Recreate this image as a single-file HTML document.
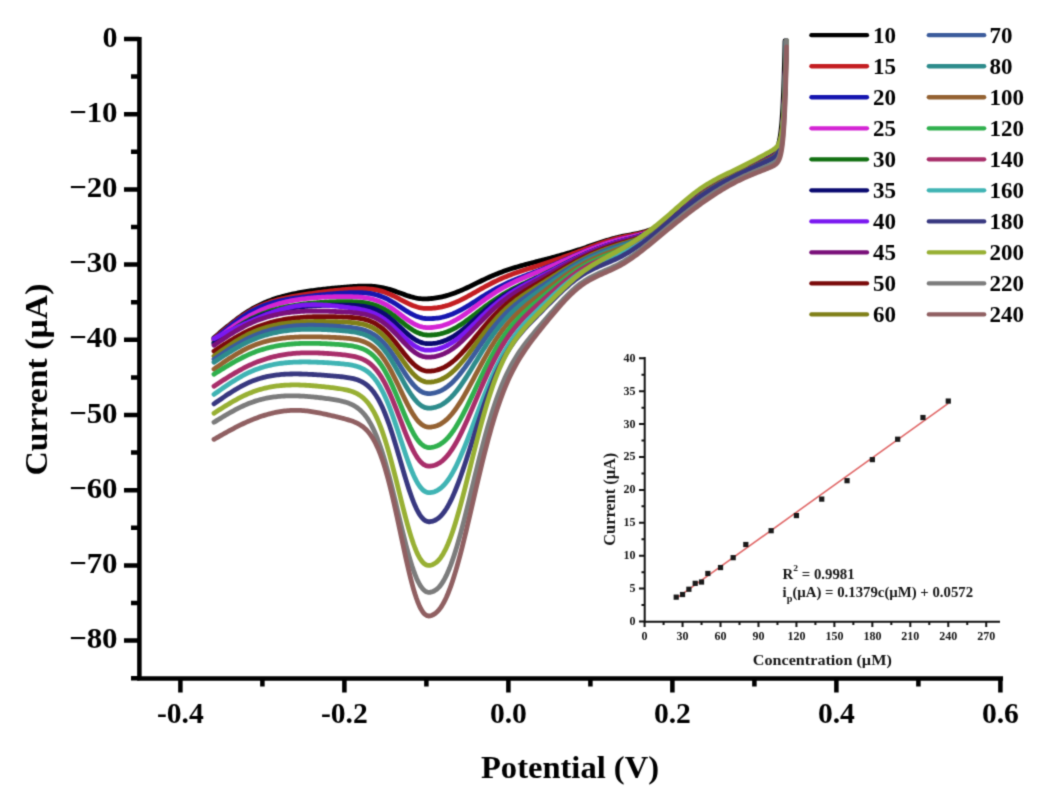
<!DOCTYPE html>
<html><head><meta charset="utf-8"><title>DPV chart</title>
<style>html,body{margin:0;padding:0;background:#fff;width:1060px;height:802px;overflow:hidden}svg{display:block}</style>
</head><body>
<svg width="1060" height="802" viewBox="0 0 1060 802">
<defs><filter id="bl" filterUnits="userSpaceOnUse" x="-20" y="-20" width="1100" height="842" color-interpolation-filters="sRGB"><feConvolveMatrix order="3" kernelMatrix="1 4 1 4 16 4 1 4 1" divisor="36" edgeMode="duplicate" preserveAlpha="true"/></filter></defs>
<rect width="1060" height="802" fill="#fff"/>
<g filter="url(#bl)">
<rect x="-20" y="-20" width="1100" height="842" fill="#fff"/>
<g fill="none" stroke-width="4.8" stroke-linejoin="round" stroke-linecap="round">
<path d="M214.00,337.79 L215.50,336.51 L217.00,335.23 L218.50,333.96 L220.00,332.69 L221.50,331.43 L223.00,330.17 L224.50,328.93 L226.00,327.69 L227.50,326.46 L229.00,325.25 L230.50,324.05 L232.00,322.87 L233.50,321.70 L235.00,320.54 L236.50,319.41 L238.00,318.29 L239.50,317.20 L241.00,316.12 L242.50,315.07 L244.00,314.04 L245.50,313.04 L247.00,312.07 L248.50,311.12 L250.00,310.20 L251.50,309.31 L253.00,308.45 L254.50,307.62 L256.00,306.81 L257.50,306.04 L259.00,305.29 L260.50,304.56 L262.00,303.86 L263.50,303.19 L265.00,302.54 L266.50,301.91 L268.00,301.30 L269.50,300.72 L271.00,300.16 L272.50,299.62 L274.00,299.10 L275.50,298.60 L277.00,298.11 L278.50,297.65 L280.00,297.20 L281.50,296.77 L283.00,296.36 L284.50,295.96 L286.00,295.58 L287.50,295.21 L289.00,294.85 L290.50,294.51 L292.00,294.18 L293.50,293.86 L295.00,293.55 L296.50,293.26 L298.00,292.97 L299.50,292.69 L301.00,292.42 L302.50,292.16 L304.00,291.90 L305.50,291.66 L307.00,291.42 L308.50,291.18 L310.00,290.96 L311.50,290.74 L313.00,290.53 L314.50,290.32 L316.00,290.12 L317.50,289.92 L319.00,289.73 L320.50,289.55 L322.00,289.37 L323.50,289.19 L325.00,289.02 L326.50,288.86 L328.00,288.70 L329.50,288.54 L331.00,288.38 L332.50,288.23 L334.00,288.09 L335.50,287.94 L337.00,287.80 L338.50,287.66 L340.00,287.53 L341.50,287.40 L343.00,287.27 L344.50,287.15 L346.00,287.02 L347.50,286.91 L349.00,286.80 L350.50,286.69 L352.00,286.59 L353.50,286.49 L355.00,286.40 L356.50,286.32 L358.00,286.25 L359.50,286.19 L361.00,286.14 L362.50,286.10 L364.00,286.08 L365.50,286.08 L367.00,286.09 L368.50,286.12 L370.00,286.18 L371.50,286.25 L373.00,286.36 L374.50,286.49 L376.00,286.64 L377.50,286.83 L379.00,287.04 L380.50,287.29 L382.00,287.57 L383.50,287.88 L385.00,288.22 L386.50,288.59 L388.00,288.99 L389.50,289.42 L391.00,289.87 L392.50,290.35 L394.00,290.85 L395.50,291.37 L397.00,291.90 L398.50,292.45 L400.00,293.00 L401.50,293.55 L403.00,294.09 L404.50,294.63 L406.00,295.16 L407.50,295.67 L409.00,296.15 L410.50,296.61 L412.00,297.03 L413.50,297.42 L415.00,297.77 L416.50,298.08 L418.00,298.34 L419.50,298.55 L421.00,298.71 L422.50,298.82 L424.00,298.88 L425.50,298.89 L427.00,298.86 L428.50,298.77 L430.00,298.65 L431.50,298.49 L433.00,298.31 L434.50,298.12 L436.00,297.90 L437.50,297.66 L439.00,297.39 L440.50,297.10 L442.00,296.78 L443.50,296.44 L445.00,296.06 L446.50,295.66 L448.00,295.23 L449.50,294.77 L451.00,294.29 L452.50,293.78 L454.00,293.25 L455.50,292.69 L457.00,292.11 L458.50,291.50 L460.00,290.88 L461.50,290.24 L463.00,289.58 L464.50,288.90 L466.00,288.22 L467.50,287.52 L469.00,286.81 L470.50,286.09 L472.00,285.36 L473.50,284.64 L475.00,283.91 L476.50,283.17 L478.00,282.44 L479.50,281.72 L481.00,280.99 L482.50,280.27 L484.00,279.56 L485.50,278.86 L487.00,278.17 L488.50,277.49 L490.00,276.81 L491.50,276.15 L493.00,275.51 L494.50,274.87 L496.00,274.25 L497.50,273.65 L499.00,273.05 L500.50,272.47 L502.00,271.91 L503.50,271.36 L505.00,270.82 L506.50,270.30 L508.00,269.78 L509.50,269.29 L511.00,268.80 L512.50,268.32 L514.00,267.86 L515.50,267.40 L517.00,266.95 L518.50,266.52 L520.00,266.09 L521.50,265.66 L523.00,265.25 L524.50,264.84 L526.00,264.43 L527.50,264.03 L529.00,263.64 L530.50,263.24 L532.00,262.85 L533.50,262.46 L535.00,262.08 L536.50,261.69 L538.00,261.31 L539.50,260.92 L541.00,260.54 L542.50,260.15 L544.00,259.77 L545.50,259.38 L547.00,258.99 L548.50,258.60 L550.00,258.20 L551.50,257.80 L553.00,257.40 L554.50,257.00 L556.00,256.59 L557.50,256.18 L559.00,255.76 L560.50,255.34 L562.00,254.92 L563.50,254.49 L565.00,254.05 L566.50,253.61 L568.00,253.17 L569.50,252.72 L571.00,252.26 L572.50,251.80 L574.00,251.34 L575.50,250.86 L577.00,250.39 L578.50,249.90 L580.00,249.41 L581.50,248.91 L583.00,248.41 L584.50,247.91 L586.00,247.40 L587.50,246.88 L589.00,246.37 L590.50,245.85 L592.00,245.34 L593.50,244.82 L595.00,244.31 L596.50,243.80 L598.00,243.30 L599.50,242.79 L601.00,242.30 L602.50,241.81 L604.00,241.33 L605.50,240.86 L607.00,240.39 L608.50,239.94 L610.00,239.50 L611.50,239.07 L613.00,238.65 L614.50,238.25 L616.00,237.86 L617.50,237.48 L619.00,237.13 L620.50,236.79 L622.00,236.47 L623.50,236.16 L625.00,235.86 L626.50,235.58 L628.00,235.30 L629.50,235.02 L631.00,234.74 L632.50,234.45 L634.00,234.17 L635.50,233.87 L637.00,233.56 L638.50,233.23 L640.00,232.89 L641.50,232.53 L643.00,232.14 L644.50,231.73 L646.00,231.29 L647.50,230.81 L649.00,230.30 L650.50,229.75 L652.00,229.16 L653.50,228.53 L655.00,227.85 L656.50,227.12 L658.00,226.33 L659.50,225.49 L661.00,224.59 L662.50,223.64 L664.00,222.63 L665.50,221.57 L667.00,220.47 L668.50,219.32 L670.00,218.14 L671.50,216.92 L673.00,215.67 L674.50,214.39 L676.00,213.09 L677.50,211.77 L679.00,210.43 L680.50,209.08 L682.00,207.72 L683.50,206.36 L685.00,204.99 L686.50,203.63 L688.00,202.28 L689.50,200.93 L691.00,199.60 L692.50,198.28 L694.00,196.99 L695.50,195.72 L697.00,194.48 L698.50,193.27 L700.00,192.10 L701.50,190.97 L703.00,189.87 L704.50,188.81 L706.00,187.79 L707.50,186.80 L709.00,185.84 L710.50,184.91 L712.00,184.01 L713.50,183.13 L715.00,182.27 L716.50,181.44 L718.00,180.63 L719.50,179.84 L721.00,179.07 L722.50,178.31 L724.00,177.56 L725.50,176.83 L727.00,176.11 L728.50,175.39 L730.00,174.68 L731.50,173.98 L733.00,173.28 L734.50,172.58 L736.00,171.88 L737.50,171.18 L739.00,170.47 L740.50,169.76 L742.00,169.04 L743.50,168.32 L745.00,167.59 L746.50,166.86 L748.00,166.12 L749.50,165.37 L751.00,164.62 L752.50,163.87 L754.00,163.11 L755.50,162.35 L757.00,161.59 L758.50,160.83 L760.00,160.06 L761.50,159.29 L763.00,158.52 L764.50,157.74 L766.00,156.96 L767.50,156.17 L769.00,155.35 L770.00,154.78 L770.25,154.63 L770.50,154.49 L770.75,154.34 L771.00,154.18 L771.25,154.03 L771.50,153.87 L771.75,153.70 L772.00,153.54 L772.25,153.37 L772.50,153.19 L772.75,153.01 L773.00,152.82 L773.25,152.63 L773.50,152.43 L773.75,152.22 L774.00,152.00 L774.25,151.76 L774.50,151.52 L774.75,151.27 L775.00,151.00 L775.25,150.71 L775.50,150.41 L775.75,150.08 L776.00,149.73 L776.25,149.36 L776.50,148.96 L776.75,148.53 L777.00,148.06 L777.25,147.56 L777.50,147.01 L777.75,146.41 L778.00,145.76 L778.25,145.05 L778.50,144.27 L778.75,143.42 L779.00,142.49 L779.25,141.46 L779.50,140.33 L779.75,139.08 L780.00,137.70 L780.25,136.19 L780.50,134.51 L780.75,132.65 L781.00,130.60 L781.25,128.32 L781.50,125.80 L781.75,123.00 L782.00,119.90 L782.25,116.46 L782.50,112.63 L782.75,108.38 L783.00,103.66 L783.25,98.41 L783.50,92.57 L783.75,86.07 L784.00,78.85 L784.25,70.80 L784.50,61.85 L784.75,51.89 L785.00,40.80" stroke="#000000"/>
<path d="M214.00,338.77 L215.50,337.47 L217.00,336.18 L218.50,334.89 L220.00,333.61 L221.50,332.33 L223.00,331.06 L224.50,329.81 L226.00,328.56 L227.50,327.33 L229.00,326.10 L230.50,324.90 L232.00,323.71 L233.50,322.54 L235.00,321.39 L236.50,320.25 L238.00,319.14 L239.50,318.06 L241.00,316.99 L242.50,315.96 L244.00,314.95 L245.50,313.96 L247.00,313.01 L248.50,312.09 L250.00,311.20 L251.50,310.34 L253.00,309.52 L254.50,308.73 L256.00,307.97 L257.50,307.24 L259.00,306.54 L260.50,305.87 L262.00,305.22 L263.50,304.60 L265.00,304.01 L266.50,303.44 L268.00,302.89 L269.50,302.37 L271.00,301.87 L272.50,301.39 L274.00,300.94 L275.50,300.50 L277.00,300.08 L278.50,299.67 L280.00,299.29 L281.50,298.92 L283.00,298.56 L284.50,298.22 L286.00,297.89 L287.50,297.58 L289.00,297.27 L290.50,296.98 L292.00,296.69 L293.50,296.42 L295.00,296.15 L296.50,295.89 L298.00,295.63 L299.50,295.38 L301.00,295.14 L302.50,294.89 L304.00,294.66 L305.50,294.42 L307.00,294.19 L308.50,293.97 L310.00,293.74 L311.50,293.52 L313.00,293.31 L314.50,293.10 L316.00,292.89 L317.50,292.68 L319.00,292.48 L320.50,292.28 L322.00,292.09 L323.50,291.90 L325.00,291.71 L326.50,291.52 L328.00,291.34 L329.50,291.17 L331.00,290.99 L332.50,290.82 L334.00,290.65 L335.50,290.49 L337.00,290.33 L338.50,290.18 L340.00,290.02 L341.50,289.88 L343.00,289.74 L344.50,289.60 L346.00,289.47 L347.50,289.35 L349.00,289.23 L350.50,289.12 L352.00,289.03 L353.50,288.94 L355.00,288.86 L356.50,288.79 L358.00,288.74 L359.50,288.71 L361.00,288.69 L362.50,288.69 L364.00,288.71 L365.50,288.76 L367.00,288.83 L368.50,288.93 L370.00,289.06 L371.50,289.21 L373.00,289.41 L374.50,289.63 L376.00,289.90 L377.50,290.20 L379.00,290.55 L380.50,290.93 L382.00,291.36 L383.50,291.83 L385.00,292.34 L386.50,292.89 L388.00,293.48 L389.50,294.11 L391.00,294.77 L392.50,295.47 L394.00,296.19 L395.50,296.94 L397.00,297.71 L398.50,298.49 L400.00,299.28 L401.50,300.07 L403.00,300.86 L404.50,301.64 L406.00,302.41 L407.50,303.15 L409.00,303.86 L410.50,304.54 L412.00,305.18 L413.50,305.77 L415.00,306.31 L416.50,306.80 L418.00,307.23 L419.50,307.59 L421.00,307.90 L422.50,308.14 L424.00,308.31 L425.50,308.42 L427.00,308.47 L428.50,308.46 L430.00,308.40 L431.50,308.29 L433.00,308.16 L434.50,308.01 L436.00,307.83 L437.50,307.62 L439.00,307.37 L440.50,307.10 L442.00,306.79 L443.50,306.44 L445.00,306.06 L446.50,305.64 L448.00,305.19 L449.50,304.70 L451.00,304.17 L452.50,303.62 L454.00,303.02 L455.50,302.40 L457.00,301.75 L458.50,301.07 L460.00,300.37 L461.50,299.63 L463.00,298.88 L464.50,298.11 L466.00,297.32 L467.50,296.51 L469.00,295.69 L470.50,294.86 L472.00,294.02 L473.50,293.17 L475.00,292.32 L476.50,291.47 L478.00,290.61 L479.50,289.76 L481.00,288.92 L482.50,288.08 L484.00,287.25 L485.50,286.43 L487.00,285.62 L488.50,284.82 L490.00,284.03 L491.50,283.26 L493.00,282.50 L494.50,281.76 L496.00,281.04 L497.50,280.33 L499.00,279.64 L500.50,278.96 L502.00,278.30 L503.50,277.66 L505.00,277.03 L506.50,276.42 L508.00,275.82 L509.50,275.24 L511.00,274.67 L512.50,274.11 L514.00,273.57 L515.50,273.03 L517.00,272.51 L518.50,271.99 L520.00,271.48 L521.50,270.98 L523.00,270.49 L524.50,270.00 L526.00,269.52 L527.50,269.04 L529.00,268.56 L530.50,268.09 L532.00,267.62 L533.50,267.14 L535.00,266.67 L536.50,266.20 L538.00,265.72 L539.50,265.24 L541.00,264.76 L542.50,264.28 L544.00,263.79 L545.50,263.30 L547.00,262.80 L548.50,262.31 L550.00,261.80 L551.50,261.30 L553.00,260.79 L554.50,260.27 L556.00,259.76 L557.50,259.23 L559.00,258.71 L560.50,258.18 L562.00,257.65 L563.50,257.11 L565.00,256.57 L566.50,256.03 L568.00,255.49 L569.50,254.94 L571.00,254.39 L572.50,253.83 L574.00,253.28 L575.50,252.72 L577.00,252.16 L578.50,251.60 L580.00,251.04 L581.50,250.47 L583.00,249.91 L584.50,249.34 L586.00,248.78 L587.50,248.21 L589.00,247.65 L590.50,247.10 L592.00,246.54 L593.50,245.99 L595.00,245.45 L596.50,244.91 L598.00,244.38 L599.50,243.85 L601.00,243.34 L602.50,242.83 L604.00,242.33 L605.50,241.84 L607.00,241.36 L608.50,240.90 L610.00,240.44 L611.50,240.00 L613.00,239.58 L614.50,239.16 L616.00,238.77 L617.50,238.39 L619.00,238.02 L620.50,237.67 L622.00,237.34 L623.50,237.03 L625.00,236.72 L626.50,236.42 L628.00,236.13 L629.50,235.84 L631.00,235.55 L632.50,235.26 L634.00,234.96 L635.50,234.65 L637.00,234.33 L638.50,234.00 L640.00,233.64 L641.50,233.27 L643.00,232.88 L644.50,232.45 L646.00,232.00 L647.50,231.52 L649.00,231.00 L650.50,230.45 L652.00,229.85 L653.50,229.21 L655.00,228.53 L656.50,227.79 L658.00,227.01 L659.50,226.17 L661.00,225.27 L662.50,224.32 L664.00,223.31 L665.50,222.25 L667.00,221.15 L668.50,220.01 L670.00,218.83 L671.50,217.61 L673.00,216.37 L674.50,215.10 L676.00,213.80 L677.50,212.49 L679.00,211.15 L680.50,209.81 L682.00,208.46 L683.50,207.10 L685.00,205.74 L686.50,204.38 L688.00,203.03 L689.50,201.69 L691.00,200.36 L692.50,199.05 L694.00,197.76 L695.50,196.49 L697.00,195.26 L698.50,194.05 L700.00,192.88 L701.50,191.74 L703.00,190.64 L704.50,189.58 L706.00,188.55 L707.50,187.56 L709.00,186.59 L710.50,185.65 L712.00,184.74 L713.50,183.86 L715.00,183.00 L716.50,182.16 L718.00,181.34 L719.50,180.54 L721.00,179.76 L722.50,178.99 L724.00,178.24 L725.50,177.49 L727.00,176.76 L728.50,176.04 L730.00,175.33 L731.50,174.62 L733.00,173.91 L734.50,173.21 L736.00,172.51 L737.50,171.80 L739.00,171.10 L740.50,170.39 L742.00,169.67 L743.50,168.95 L745.00,168.22 L746.50,167.49 L748.00,166.76 L749.50,166.02 L751.00,165.28 L752.50,164.53 L754.00,163.79 L755.50,163.04 L757.00,162.28 L758.50,161.53 L760.00,160.77 L761.50,160.02 L763.00,159.26 L764.50,158.49 L766.00,157.73 L767.50,156.95 L769.00,156.17 L770.00,155.63 L770.25,155.49 L770.50,155.35 L770.75,155.21 L771.00,155.07 L771.25,154.92 L771.50,154.78 L771.75,154.63 L772.00,154.48 L772.25,154.32 L772.50,154.17 L772.75,154.01 L773.00,153.84 L773.25,153.68 L773.50,153.50 L773.75,153.33 L774.00,153.14 L774.25,152.95 L774.50,152.75 L774.75,152.55 L775.00,152.33 L775.25,152.11 L775.50,151.87 L775.75,151.62 L776.00,151.35 L776.25,151.07 L776.50,150.78 L776.75,150.46 L777.00,150.12 L777.25,149.76 L777.50,149.37 L777.75,148.95 L778.00,148.49 L778.25,148.00 L778.50,147.46 L778.75,146.88 L779.00,146.25 L779.25,145.56 L779.50,144.80 L779.75,143.97 L780.00,143.06 L780.25,142.06 L780.50,140.96 L780.75,139.75 L781.00,138.41 L781.25,136.93 L781.50,135.30 L781.75,133.50 L782.00,131.50 L782.25,129.29 L782.50,126.84 L782.75,124.12 L783.00,121.10 L783.25,117.76 L783.50,114.04 L783.75,109.91 L784.00,105.32 L784.25,100.22 L784.50,94.55 L784.75,88.24 L785.00,81.22 L785.25,73.41 L785.50,64.71 L785.75,55.04 L786.00,44.26 L786.08,40.80" stroke="#c41e22"/>
<path d="M214.00,339.76 L215.50,338.45 L217.00,337.15 L218.50,335.86 L220.00,334.56 L221.50,333.28 L223.00,332.01 L224.50,330.74 L226.00,329.49 L227.50,328.25 L229.00,327.03 L230.50,325.82 L232.00,324.63 L233.50,323.46 L235.00,322.30 L236.50,321.17 L238.00,320.07 L239.50,318.98 L241.00,317.93 L242.50,316.89 L244.00,315.89 L245.50,314.92 L247.00,313.98 L248.50,313.07 L250.00,312.20 L251.50,311.36 L253.00,310.56 L254.50,309.79 L256.00,309.05 L257.50,308.35 L259.00,307.67 L260.50,307.03 L262.00,306.41 L263.50,305.82 L265.00,305.26 L266.50,304.73 L268.00,304.22 L269.50,303.73 L271.00,303.27 L272.50,302.83 L274.00,302.41 L275.50,302.01 L277.00,301.63 L278.50,301.27 L280.00,300.92 L281.50,300.59 L283.00,300.28 L284.50,299.98 L286.00,299.70 L287.50,299.42 L289.00,299.16 L290.50,298.91 L292.00,298.67 L293.50,298.43 L295.00,298.21 L296.50,297.99 L298.00,297.78 L299.50,297.57 L301.00,297.36 L302.50,297.16 L304.00,296.96 L305.50,296.77 L307.00,296.58 L308.50,296.39 L310.00,296.21 L311.50,296.03 L313.00,295.85 L314.50,295.67 L316.00,295.50 L317.50,295.34 L319.00,295.17 L320.50,295.01 L322.00,294.85 L323.50,294.70 L325.00,294.55 L326.50,294.40 L328.00,294.26 L329.50,294.12 L331.00,293.98 L332.50,293.85 L334.00,293.72 L335.50,293.60 L337.00,293.48 L338.50,293.36 L340.00,293.25 L341.50,293.15 L343.00,293.05 L344.50,292.96 L346.00,292.87 L347.50,292.79 L349.00,292.73 L350.50,292.67 L352.00,292.62 L353.50,292.58 L355.00,292.56 L356.50,292.55 L358.00,292.56 L359.50,292.59 L361.00,292.64 L362.50,292.71 L364.00,292.80 L365.50,292.92 L367.00,293.07 L368.50,293.26 L370.00,293.47 L371.50,293.73 L373.00,294.02 L374.50,294.36 L376.00,294.73 L377.50,295.16 L379.00,295.63 L380.50,296.14 L382.00,296.71 L383.50,297.33 L385.00,297.99 L386.50,298.70 L388.00,299.46 L389.50,300.26 L391.00,301.10 L392.50,301.98 L394.00,302.89 L395.50,303.83 L397.00,304.79 L398.50,305.77 L400.00,306.75 L401.50,307.75 L403.00,308.73 L404.50,309.71 L406.00,310.67 L407.50,311.60 L409.00,312.49 L410.50,313.35 L412.00,314.16 L413.50,314.91 L415.00,315.61 L416.50,316.24 L418.00,316.80 L419.50,317.29 L421.00,317.71 L422.50,318.05 L424.00,318.31 L425.50,318.50 L427.00,318.62 L428.50,318.67 L430.00,318.66 L431.50,318.59 L433.00,318.50 L434.50,318.38 L436.00,318.23 L437.50,318.04 L439.00,317.82 L440.50,317.55 L442.00,317.24 L443.50,316.89 L445.00,316.50 L446.50,316.07 L448.00,315.59 L449.50,315.08 L451.00,314.52 L452.50,313.92 L454.00,313.28 L455.50,312.60 L457.00,311.89 L458.50,311.15 L460.00,310.37 L461.50,309.57 L463.00,308.73 L464.50,307.88 L466.00,307.00 L467.50,306.10 L469.00,305.18 L470.50,304.26 L472.00,303.32 L473.50,302.37 L475.00,301.41 L476.50,300.46 L478.00,299.50 L479.50,298.55 L481.00,297.59 L482.50,296.65 L484.00,295.71 L485.50,294.78 L487.00,293.87 L488.50,292.96 L490.00,292.08 L491.50,291.20 L493.00,290.35 L494.50,289.51 L496.00,288.68 L497.50,287.88 L499.00,287.09 L500.50,286.32 L502.00,285.57 L503.50,284.84 L505.00,284.12 L506.50,283.42 L508.00,282.73 L509.50,282.06 L511.00,281.41 L512.50,280.77 L514.00,280.14 L515.50,279.52 L517.00,278.91 L518.50,278.31 L520.00,277.72 L521.50,277.14 L523.00,276.56 L524.50,275.99 L526.00,275.42 L527.50,274.85 L529.00,274.29 L530.50,273.72 L532.00,273.16 L533.50,272.59 L535.00,272.03 L536.50,271.46 L538.00,270.88 L539.50,270.31 L541.00,269.72 L542.50,269.14 L544.00,268.54 L545.50,267.95 L547.00,267.34 L548.50,266.74 L550.00,266.12 L551.50,265.51 L553.00,264.89 L554.50,264.26 L556.00,263.63 L557.50,263.00 L559.00,262.37 L560.50,261.73 L562.00,261.09 L563.50,260.45 L565.00,259.81 L566.50,259.16 L568.00,258.52 L569.50,257.88 L571.00,257.24 L572.50,256.59 L574.00,255.95 L575.50,255.32 L577.00,254.68 L578.50,254.05 L580.00,253.42 L581.50,252.79 L583.00,252.17 L584.50,251.56 L586.00,250.94 L587.50,250.34 L589.00,249.74 L590.50,249.15 L592.00,248.56 L593.50,247.98 L595.00,247.41 L596.50,246.85 L598.00,246.30 L599.50,245.75 L601.00,245.22 L602.50,244.69 L604.00,244.17 L605.50,243.67 L607.00,243.18 L608.50,242.69 L610.00,242.22 L611.50,241.77 L613.00,241.32 L614.50,240.89 L616.00,240.47 L617.50,240.07 L619.00,239.68 L620.50,239.30 L622.00,238.94 L623.50,238.59 L625.00,238.25 L626.50,237.92 L628.00,237.59 L629.50,237.26 L631.00,236.93 L632.50,236.60 L634.00,236.26 L635.50,235.90 L637.00,235.54 L638.50,235.16 L640.00,234.77 L641.50,234.35 L643.00,233.92 L644.50,233.45 L646.00,232.96 L647.50,232.44 L649.00,231.89 L650.50,231.30 L652.00,230.67 L653.50,230.00 L655.00,229.28 L656.50,228.52 L658.00,227.71 L659.50,226.85 L661.00,225.93 L662.50,224.96 L664.00,223.95 L665.50,222.88 L667.00,221.78 L668.50,220.63 L670.00,219.45 L671.50,218.23 L673.00,216.99 L674.50,215.72 L676.00,214.43 L677.50,213.12 L679.00,211.80 L680.50,210.47 L682.00,209.12 L683.50,207.78 L685.00,206.43 L686.50,205.08 L688.00,203.74 L689.50,202.41 L691.00,201.09 L692.50,199.79 L694.00,198.51 L695.50,197.25 L697.00,196.02 L698.50,194.82 L700.00,193.65 L701.50,192.52 L703.00,191.42 L704.50,190.36 L706.00,189.33 L707.50,188.33 L709.00,187.36 L710.50,186.41 L712.00,185.50 L713.50,184.61 L715.00,183.74 L716.50,182.89 L718.00,182.06 L719.50,181.25 L721.00,180.46 L722.50,179.69 L724.00,178.92 L725.50,178.17 L727.00,177.43 L728.50,176.70 L730.00,175.98 L731.50,175.27 L733.00,174.55 L734.50,173.85 L736.00,173.14 L737.50,172.43 L739.00,171.72 L740.50,171.01 L742.00,170.30 L743.50,169.58 L745.00,168.85 L746.50,168.13 L748.00,167.40 L749.50,166.67 L751.00,165.93 L752.50,165.20 L754.00,164.46 L755.50,163.72 L757.00,162.97 L758.50,162.23 L760.00,161.49 L761.50,160.74 L763.00,159.99 L764.50,159.24 L766.00,158.49 L767.50,157.72 L769.00,156.95 L770.00,156.41 L770.25,156.28 L770.50,156.14 L770.75,156.00 L771.00,155.86 L771.25,155.72 L771.50,155.58 L771.75,155.43 L772.00,155.28 L772.25,155.13 L772.50,154.98 L772.75,154.82 L773.00,154.66 L773.25,154.49 L773.50,154.32 L773.75,154.14 L774.00,153.96 L774.25,153.77 L774.50,153.57 L774.75,153.37 L775.00,153.16 L775.25,152.93 L775.50,152.70 L775.75,152.45 L776.00,152.19 L776.25,151.91 L776.50,151.61 L776.75,151.30 L777.00,150.96 L777.25,150.60 L777.50,150.21 L777.75,149.79 L778.00,149.33 L778.25,148.84 L778.50,148.31 L778.75,147.73 L779.00,147.10 L779.25,146.40 L779.50,145.65 L779.75,144.82 L780.00,143.91 L780.25,142.91 L780.50,141.81 L780.75,140.60 L781.00,139.26 L781.25,137.78 L781.50,136.15 L781.75,134.34 L782.00,132.35 L782.25,130.13 L782.50,127.68 L782.75,124.96 L783.00,121.94 L783.25,118.59 L783.50,114.87 L783.75,110.73 L784.00,106.13 L784.25,101.03 L784.50,95.34 L784.75,89.03 L785.00,81.99 L785.25,74.17 L785.50,65.46 L785.75,55.77 L786.00,44.98 L786.09,40.80" stroke="#1616b0"/>
<path d="M214.00,340.95 L215.50,339.78 L217.00,338.62 L218.50,337.46 L220.00,336.31 L221.50,335.16 L223.00,334.02 L224.50,332.88 L226.00,331.76 L227.50,330.64 L229.00,329.53 L230.50,328.44 L232.00,327.36 L233.50,326.29 L235.00,325.23 L236.50,324.19 L238.00,323.17 L239.50,322.16 L241.00,321.18 L242.50,320.21 L244.00,319.26 L245.50,318.34 L247.00,317.43 L248.50,316.55 L250.00,315.70 L251.50,314.87 L253.00,314.07 L254.50,313.29 L256.00,312.53 L257.50,311.80 L259.00,311.09 L260.50,310.41 L262.00,309.74 L263.50,309.10 L265.00,308.49 L266.50,307.89 L268.00,307.31 L269.50,306.76 L271.00,306.23 L272.50,305.71 L274.00,305.21 L275.50,304.74 L277.00,304.28 L278.50,303.84 L280.00,303.42 L281.50,303.02 L283.00,302.63 L284.50,302.26 L286.00,301.90 L287.50,301.56 L289.00,301.24 L290.50,300.93 L292.00,300.64 L293.50,300.36 L295.00,300.09 L296.50,299.84 L298.00,299.60 L299.50,299.37 L301.00,299.16 L302.50,298.95 L304.00,298.76 L305.50,298.58 L307.00,298.41 L308.50,298.25 L310.00,298.10 L311.50,297.96 L313.00,297.83 L314.50,297.71 L316.00,297.59 L317.50,297.49 L319.00,297.39 L320.50,297.30 L322.00,297.22 L323.50,297.14 L325.00,297.07 L326.50,297.01 L328.00,296.95 L329.50,296.90 L331.00,296.85 L332.50,296.81 L334.00,296.77 L335.50,296.74 L337.00,296.72 L338.50,296.70 L340.00,296.68 L341.50,296.67 L343.00,296.66 L344.50,296.66 L346.00,296.67 L347.50,296.68 L349.00,296.70 L350.50,296.72 L352.00,296.76 L353.50,296.80 L355.00,296.86 L356.50,296.93 L358.00,297.02 L359.50,297.12 L361.00,297.24 L362.50,297.39 L364.00,297.56 L365.50,297.76 L367.00,297.99 L368.50,298.26 L370.00,298.55 L371.50,298.89 L373.00,299.28 L374.50,299.70 L376.00,300.17 L377.50,300.70 L379.00,301.27 L380.50,301.89 L382.00,302.57 L383.50,303.30 L385.00,304.08 L386.50,304.92 L388.00,305.81 L389.50,306.74 L391.00,307.72 L392.50,308.74 L394.00,309.79 L395.50,310.87 L397.00,311.98 L398.50,313.11 L400.00,314.24 L401.50,315.38 L403.00,316.51 L404.50,317.62 L406.00,318.71 L407.50,319.77 L409.00,320.79 L410.50,321.76 L412.00,322.67 L413.50,323.53 L415.00,324.31 L416.50,325.01 L418.00,325.64 L419.50,326.18 L421.00,326.64 L422.50,327.01 L424.00,327.29 L425.50,327.49 L427.00,327.60 L428.50,327.63 L430.00,327.59 L431.50,327.49 L433.00,327.36 L434.50,327.19 L436.00,326.99 L437.50,326.74 L439.00,326.46 L440.50,326.12 L442.00,325.74 L443.50,325.31 L445.00,324.83 L446.50,324.30 L448.00,323.72 L449.50,323.09 L451.00,322.42 L452.50,321.70 L454.00,320.93 L455.50,320.13 L457.00,319.28 L458.50,318.39 L460.00,317.47 L461.50,316.51 L463.00,315.53 L464.50,314.51 L466.00,313.47 L467.50,312.41 L469.00,311.33 L470.50,310.23 L472.00,309.13 L473.50,308.01 L475.00,306.89 L476.50,305.76 L478.00,304.64 L479.50,303.52 L481.00,302.40 L482.50,301.29 L484.00,300.19 L485.50,299.10 L487.00,298.03 L488.50,296.97 L490.00,295.93 L491.50,294.91 L493.00,293.91 L494.50,292.93 L496.00,291.97 L497.50,291.04 L499.00,290.12 L500.50,289.23 L502.00,288.35 L503.50,287.50 L505.00,286.67 L506.50,285.87 L508.00,285.08 L509.50,284.31 L511.00,283.55 L512.50,282.82 L514.00,282.10 L515.50,281.40 L517.00,280.71 L518.50,280.03 L520.00,279.36 L521.50,278.71 L523.00,278.06 L524.50,277.42 L526.00,276.79 L527.50,276.16 L529.00,275.54 L530.50,274.92 L532.00,274.30 L533.50,273.69 L535.00,273.07 L536.50,272.46 L538.00,271.84 L539.50,271.22 L541.00,270.60 L542.50,269.97 L544.00,269.34 L545.50,268.71 L547.00,268.08 L548.50,267.44 L550.00,266.80 L551.50,266.15 L553.00,265.50 L554.50,264.85 L556.00,264.20 L557.50,263.55 L559.00,262.89 L560.50,262.23 L562.00,261.57 L563.50,260.91 L565.00,260.25 L566.50,259.59 L568.00,258.93 L569.50,258.28 L571.00,257.62 L572.50,256.96 L574.00,256.31 L575.50,255.66 L577.00,255.01 L578.50,254.36 L580.00,253.72 L581.50,253.09 L583.00,252.45 L584.50,251.83 L586.00,251.21 L587.50,250.59 L589.00,249.98 L590.50,249.38 L592.00,248.79 L593.50,248.20 L595.00,247.62 L596.50,247.05 L598.00,246.49 L599.50,245.94 L601.00,245.39 L602.50,244.86 L604.00,244.34 L605.50,243.83 L607.00,243.33 L608.50,242.84 L610.00,242.36 L611.50,241.90 L613.00,241.45 L614.50,241.01 L616.00,240.59 L617.50,240.18 L619.00,239.78 L620.50,239.40 L622.00,239.03 L623.50,238.68 L625.00,238.34 L626.50,238.00 L628.00,237.66 L629.50,237.33 L631.00,236.99 L632.50,236.66 L634.00,236.31 L635.50,235.95 L637.00,235.59 L638.50,235.21 L640.00,234.81 L641.50,234.39 L643.00,233.95 L644.50,233.48 L646.00,232.99 L647.50,232.46 L649.00,231.90 L650.50,231.31 L652.00,230.68 L653.50,230.00 L655.00,229.29 L656.50,228.53 L658.00,227.71 L659.50,226.85 L661.00,225.93 L662.50,224.96 L664.00,223.94 L665.50,222.88 L667.00,221.77 L668.50,220.62 L670.00,219.44 L671.50,218.23 L673.00,216.98 L674.50,215.72 L676.00,214.43 L677.50,213.12 L679.00,211.79 L680.50,210.46 L682.00,209.12 L683.50,207.77 L685.00,206.42 L686.50,205.08 L688.00,203.74 L689.50,202.41 L691.00,201.09 L692.50,199.79 L694.00,198.51 L695.50,197.25 L697.00,196.02 L698.50,194.82 L700.00,193.65 L701.50,192.52 L703.00,191.42 L704.50,190.36 L706.00,189.33 L707.50,188.33 L709.00,187.36 L710.50,186.42 L712.00,185.50 L713.50,184.61 L715.00,183.74 L716.50,182.89 L718.00,182.06 L719.50,181.26 L721.00,180.46 L722.50,179.69 L724.00,178.93 L725.50,178.18 L727.00,177.44 L728.50,176.71 L730.00,175.98 L731.50,175.27 L733.00,174.56 L734.50,173.85 L736.00,173.14 L737.50,172.43 L739.00,171.72 L740.50,171.01 L742.00,170.30 L743.50,169.58 L745.00,168.85 L746.50,168.13 L748.00,167.40 L749.50,166.67 L751.00,165.93 L752.50,165.20 L754.00,164.46 L755.50,163.72 L757.00,162.97 L758.50,162.23 L760.00,161.49 L761.50,160.74 L763.00,159.99 L764.50,159.24 L766.00,158.49 L767.50,157.72 L769.00,156.95 L770.00,156.41 L770.25,156.28 L770.50,156.14 L770.75,156.00 L771.00,155.86 L771.25,155.72 L771.50,155.58 L771.75,155.43 L772.00,155.28 L772.25,155.13 L772.50,154.98 L772.75,154.82 L773.00,154.66 L773.25,154.49 L773.50,154.32 L773.75,154.14 L774.00,153.96 L774.25,153.77 L774.50,153.58 L774.75,153.37 L775.00,153.16 L775.25,152.93 L775.50,152.70 L775.75,152.45 L776.00,152.19 L776.25,151.91 L776.50,151.61 L776.75,151.30 L777.00,150.96 L777.25,150.60 L777.50,150.21 L777.75,149.79 L778.00,149.33 L778.25,148.84 L778.50,148.31 L778.75,147.73 L779.00,147.10 L779.25,146.41 L779.50,145.65 L779.75,144.82 L780.00,143.91 L780.25,142.91 L780.50,141.81 L780.75,140.60 L781.00,139.26 L781.25,137.78 L781.50,136.15 L781.75,134.34 L782.00,132.35 L782.25,130.13 L782.50,127.68 L782.75,124.96 L783.00,121.94 L783.25,118.59 L783.50,114.87 L783.75,110.73 L784.00,106.14 L784.25,101.03 L784.50,95.34 L784.75,89.03 L785.00,81.99 L785.25,74.17 L785.50,65.46 L785.75,55.77 L786.00,44.98 L786.09,40.80" stroke="#d424d4"/>
<path d="M214.00,342.58 L215.50,341.51 L217.00,340.45 L218.50,339.39 L220.00,338.33 L221.50,337.28 L223.00,336.24 L224.50,335.20 L226.00,334.17 L227.50,333.15 L229.00,332.14 L230.50,331.13 L232.00,330.14 L233.50,329.17 L235.00,328.20 L236.50,327.25 L238.00,326.32 L239.50,325.40 L241.00,324.50 L242.50,323.61 L244.00,322.75 L245.50,321.90 L247.00,321.08 L248.50,320.28 L250.00,319.50 L251.50,318.74 L253.00,318.01 L254.50,317.30 L256.00,316.61 L257.50,315.95 L259.00,315.30 L260.50,314.68 L262.00,314.08 L263.50,313.50 L265.00,312.94 L266.50,312.39 L268.00,311.87 L269.50,311.37 L271.00,310.88 L272.50,310.41 L274.00,309.96 L275.50,309.53 L277.00,309.11 L278.50,308.71 L280.00,308.32 L281.50,307.95 L283.00,307.60 L284.50,307.26 L286.00,306.93 L287.50,306.62 L289.00,306.32 L290.50,306.04 L292.00,305.76 L293.50,305.50 L295.00,305.25 L296.50,305.01 L298.00,304.79 L299.50,304.57 L301.00,304.36 L302.50,304.17 L304.00,303.98 L305.50,303.80 L307.00,303.63 L308.50,303.47 L310.00,303.32 L311.50,303.17 L313.00,303.04 L314.50,302.91 L316.00,302.79 L317.50,302.68 L319.00,302.57 L320.50,302.47 L322.00,302.38 L323.50,302.29 L325.00,302.21 L326.50,302.14 L328.00,302.07 L329.50,302.01 L331.00,301.95 L332.50,301.90 L334.00,301.85 L335.50,301.81 L337.00,301.77 L338.50,301.74 L340.00,301.72 L341.50,301.70 L343.00,301.68 L344.50,301.68 L346.00,301.68 L347.50,301.69 L349.00,301.70 L350.50,301.73 L352.00,301.77 L353.50,301.82 L355.00,301.88 L356.50,301.96 L358.00,302.05 L359.50,302.17 L361.00,302.31 L362.50,302.47 L364.00,302.66 L365.50,302.88 L367.00,303.13 L368.50,303.42 L370.00,303.75 L371.50,304.12 L373.00,304.53 L374.50,304.99 L376.00,305.50 L377.50,306.06 L379.00,306.68 L380.50,307.35 L382.00,308.08 L383.50,308.86 L385.00,309.70 L386.50,310.59 L388.00,311.54 L389.50,312.54 L391.00,313.58 L392.50,314.67 L394.00,315.79 L395.50,316.95 L397.00,318.13 L398.50,319.32 L400.00,320.53 L401.50,321.74 L403.00,322.95 L404.50,324.14 L406.00,325.31 L407.50,326.44 L409.00,327.53 L410.50,328.57 L412.00,329.55 L413.50,330.47 L415.00,331.32 L416.50,332.08 L418.00,332.77 L419.50,333.37 L421.00,333.88 L422.50,334.30 L424.00,334.62 L425.50,334.86 L427.00,335.01 L428.50,335.07 L430.00,335.07 L431.50,334.99 L433.00,334.89 L434.50,334.75 L436.00,334.57 L437.50,334.35 L439.00,334.08 L440.50,333.76 L442.00,333.39 L443.50,332.98 L445.00,332.51 L446.50,331.99 L448.00,331.41 L449.50,330.79 L451.00,330.12 L452.50,329.40 L454.00,328.63 L455.50,327.82 L457.00,326.96 L458.50,326.06 L460.00,325.13 L461.50,324.16 L463.00,323.15 L464.50,322.12 L466.00,321.06 L467.50,319.97 L469.00,318.87 L470.50,317.75 L472.00,316.61 L473.50,315.47 L475.00,314.32 L476.50,313.16 L478.00,312.00 L479.50,310.85 L481.00,309.69 L482.50,308.55 L484.00,307.41 L485.50,306.29 L487.00,305.18 L488.50,304.08 L490.00,303.00 L491.50,301.94 L493.00,300.90 L494.50,299.88 L496.00,298.88 L497.50,297.89 L499.00,296.93 L500.50,296.00 L502.00,295.08 L503.50,294.18 L505.00,293.30 L506.50,292.45 L508.00,291.61 L509.50,290.79 L511.00,289.98 L512.50,289.20 L514.00,288.42 L515.50,287.66 L517.00,286.92 L518.50,286.18 L520.00,285.46 L521.50,284.74 L523.00,284.03 L524.50,283.32 L526.00,282.62 L527.50,281.93 L529.00,281.23 L530.50,280.54 L532.00,279.85 L533.50,279.15 L535.00,278.46 L536.50,277.76 L538.00,277.06 L539.50,276.35 L541.00,275.64 L542.50,274.92 L544.00,274.19 L545.50,273.47 L547.00,272.73 L548.50,271.99 L550.00,271.25 L551.50,270.50 L553.00,269.76 L554.50,269.00 L556.00,268.25 L557.50,267.49 L559.00,266.74 L560.50,265.98 L562.00,265.22 L563.50,264.46 L565.00,263.71 L566.50,262.95 L568.00,262.20 L569.50,261.46 L571.00,260.71 L572.50,259.98 L574.00,259.24 L575.50,258.52 L577.00,257.80 L578.50,257.09 L580.00,256.39 L581.50,255.69 L583.00,255.01 L584.50,254.34 L586.00,253.67 L587.50,253.02 L589.00,252.37 L590.50,251.74 L592.00,251.12 L593.50,250.50 L595.00,249.90 L596.50,249.30 L598.00,248.72 L599.50,248.15 L601.00,247.59 L602.50,247.04 L604.00,246.50 L605.50,245.97 L607.00,245.45 L608.50,244.94 L610.00,244.45 L611.50,243.96 L613.00,243.49 L614.50,243.03 L616.00,242.58 L617.50,242.14 L619.00,241.71 L620.50,241.30 L622.00,240.89 L623.50,240.50 L625.00,240.11 L626.50,239.73 L628.00,239.34 L629.50,238.96 L631.00,238.57 L632.50,238.18 L634.00,237.78 L635.50,237.37 L637.00,236.95 L638.50,236.52 L640.00,236.06 L641.50,235.59 L643.00,235.10 L644.50,234.58 L646.00,234.03 L647.50,233.46 L649.00,232.85 L650.50,232.21 L652.00,231.53 L653.50,230.82 L655.00,230.07 L656.50,229.27 L658.00,228.42 L659.50,227.53 L661.00,226.59 L662.50,225.60 L664.00,224.57 L665.50,223.49 L667.00,222.37 L668.50,221.22 L670.00,220.03 L671.50,218.82 L673.00,217.58 L674.50,216.31 L676.00,215.03 L677.50,213.73 L679.00,212.42 L680.50,211.09 L682.00,209.76 L683.50,208.43 L685.00,207.09 L686.50,205.76 L688.00,204.43 L689.50,203.12 L691.00,201.81 L692.50,200.52 L694.00,199.25 L695.50,198.00 L697.00,196.78 L698.50,195.59 L700.00,194.43 L701.50,193.30 L703.00,192.20 L704.50,191.14 L706.00,190.11 L707.50,189.11 L709.00,188.13 L710.50,187.19 L712.00,186.26 L713.50,185.36 L715.00,184.49 L716.50,183.63 L718.00,182.80 L719.50,181.98 L721.00,181.18 L722.50,180.39 L724.00,179.62 L725.50,178.86 L727.00,178.11 L728.50,177.37 L730.00,176.64 L731.50,175.92 L733.00,175.20 L734.50,174.48 L736.00,173.77 L737.50,173.06 L739.00,172.35 L740.50,171.64 L742.00,170.92 L743.50,170.20 L745.00,169.48 L746.50,168.76 L748.00,168.04 L749.50,167.31 L751.00,166.59 L752.50,165.86 L754.00,165.13 L755.50,164.40 L757.00,163.66 L758.50,162.93 L760.00,162.20 L761.50,161.46 L763.00,160.72 L764.50,159.99 L766.00,159.24 L767.50,158.49 L769.00,157.73 L770.00,157.20 L770.25,157.07 L770.50,156.93 L770.75,156.80 L771.00,156.66 L771.25,156.52 L771.50,156.38 L771.75,156.23 L772.00,156.09 L772.25,155.94 L772.50,155.78 L772.75,155.63 L773.00,155.47 L773.25,155.30 L773.50,155.13 L773.75,154.96 L774.00,154.78 L774.25,154.59 L774.50,154.40 L774.75,154.19 L775.00,153.98 L775.25,153.76 L775.50,153.53 L775.75,153.28 L776.00,153.02 L776.25,152.74 L776.50,152.45 L776.75,152.14 L777.00,151.80 L777.25,151.44 L777.50,151.05 L777.75,150.63 L778.00,150.18 L778.25,149.69 L778.50,149.16 L778.75,148.58 L779.00,147.95 L779.25,147.26 L779.50,146.50 L779.75,145.67 L780.00,144.76 L780.25,143.76 L780.50,142.66 L780.75,141.45 L781.00,140.11 L781.25,138.63 L781.50,137.00 L781.75,135.19 L782.00,133.19 L782.25,130.98 L782.50,128.52 L782.75,125.80 L783.00,122.78 L783.25,119.42 L783.50,115.69 L783.75,111.55 L784.00,106.95 L784.25,101.84 L784.50,96.15 L784.75,89.82 L785.00,82.78 L785.25,74.94 L785.50,66.22 L785.75,56.51 L786.00,45.70 L786.11,40.80" stroke="#127012"/>
<path d="M214.00,343.56 L215.50,342.49 L217.00,341.41 L218.50,340.34 L220.00,339.28 L221.50,338.22 L223.00,337.16 L224.50,336.12 L226.00,335.08 L227.50,334.05 L229.00,333.04 L230.50,332.03 L232.00,331.04 L233.50,330.06 L235.00,329.10 L236.50,328.15 L238.00,327.22 L239.50,326.30 L241.00,325.41 L242.50,324.53 L244.00,323.68 L245.50,322.85 L247.00,322.04 L248.50,321.26 L250.00,320.50 L251.50,319.77 L253.00,319.06 L254.50,318.38 L256.00,317.72 L257.50,317.09 L259.00,316.48 L260.50,315.89 L262.00,315.33 L263.50,314.79 L265.00,314.27 L266.50,313.77 L268.00,313.29 L269.50,312.83 L271.00,312.39 L272.50,311.97 L274.00,311.57 L275.50,311.19 L277.00,310.82 L278.50,310.47 L280.00,310.14 L281.50,309.82 L283.00,309.52 L284.50,309.23 L286.00,308.96 L287.50,308.70 L289.00,308.45 L290.50,308.22 L292.00,308.00 L293.50,307.79 L295.00,307.59 L296.50,307.40 L298.00,307.22 L299.50,307.05 L301.00,306.90 L302.50,306.74 L304.00,306.60 L305.50,306.47 L307.00,306.34 L308.50,306.23 L310.00,306.12 L311.50,306.01 L313.00,305.92 L314.50,305.83 L316.00,305.74 L317.50,305.67 L319.00,305.60 L320.50,305.53 L322.00,305.47 L323.50,305.42 L325.00,305.37 L326.50,305.32 L328.00,305.28 L329.50,305.25 L331.00,305.22 L332.50,305.19 L334.00,305.17 L335.50,305.15 L337.00,305.14 L338.50,305.13 L340.00,305.13 L341.50,305.13 L343.00,305.13 L344.50,305.15 L346.00,305.17 L347.50,305.19 L349.00,305.23 L350.50,305.27 L352.00,305.33 L353.50,305.40 L355.00,305.48 L356.50,305.58 L358.00,305.70 L359.50,305.84 L361.00,306.01 L362.50,306.20 L364.00,306.42 L365.50,306.68 L367.00,306.98 L368.50,307.31 L370.00,307.69 L371.50,308.12 L373.00,308.60 L374.50,309.13 L376.00,309.72 L377.50,310.37 L379.00,311.08 L380.50,311.86 L382.00,312.70 L383.50,313.60 L385.00,314.57 L386.50,315.60 L388.00,316.70 L389.50,317.85 L391.00,319.05 L392.50,320.31 L394.00,321.60 L395.50,322.94 L397.00,324.30 L398.50,325.69 L400.00,327.08 L401.50,328.48 L403.00,329.87 L404.50,331.24 L406.00,332.58 L407.50,333.89 L409.00,335.15 L410.50,336.34 L412.00,337.47 L413.50,338.53 L415.00,339.50 L416.50,340.37 L418.00,341.16 L419.50,341.84 L421.00,342.41 L422.50,342.88 L424.00,343.25 L425.50,343.50 L427.00,343.66 L428.50,343.72 L430.00,343.69 L431.50,343.59 L433.00,343.45 L434.50,343.27 L436.00,343.05 L437.50,342.77 L439.00,342.44 L440.50,342.06 L442.00,341.61 L443.50,341.11 L445.00,340.55 L446.50,339.93 L448.00,339.25 L449.50,338.51 L451.00,337.72 L452.50,336.87 L454.00,335.96 L455.50,335.00 L457.00,334.00 L458.50,332.94 L460.00,331.85 L461.50,330.71 L463.00,329.53 L464.50,328.32 L466.00,327.08 L467.50,325.82 L469.00,324.53 L470.50,323.22 L472.00,321.90 L473.50,320.57 L475.00,319.23 L476.50,317.88 L478.00,316.54 L479.50,315.20 L481.00,313.87 L482.50,312.54 L484.00,311.23 L485.50,309.93 L487.00,308.65 L488.50,307.39 L490.00,306.15 L491.50,304.94 L493.00,303.74 L494.50,302.57 L496.00,301.43 L497.50,300.32 L499.00,299.23 L500.50,298.16 L502.00,297.12 L503.50,296.11 L505.00,295.13 L506.50,294.17 L508.00,293.23 L509.50,292.32 L511.00,291.42 L512.50,290.55 L514.00,289.70 L515.50,288.87 L517.00,288.05 L518.50,287.25 L520.00,286.46 L521.50,285.68 L523.00,284.92 L524.50,284.16 L526.00,283.41 L527.50,282.67 L529.00,281.93 L530.50,281.20 L532.00,280.47 L533.50,279.74 L535.00,279.01 L536.50,278.28 L538.00,277.55 L539.50,276.82 L541.00,276.08 L542.50,275.34 L544.00,274.60 L545.50,273.85 L547.00,273.09 L548.50,272.34 L550.00,271.58 L551.50,270.82 L553.00,270.05 L554.50,269.29 L556.00,268.52 L557.50,267.75 L559.00,266.99 L560.50,266.22 L562.00,265.45 L563.50,264.68 L565.00,263.92 L566.50,263.16 L568.00,262.40 L569.50,261.65 L571.00,260.90 L572.50,260.15 L574.00,259.41 L575.50,258.68 L577.00,257.96 L578.50,257.24 L580.00,256.53 L581.50,255.84 L583.00,255.15 L584.50,254.47 L586.00,253.80 L587.50,253.14 L589.00,252.50 L590.50,251.86 L592.00,251.23 L593.50,250.61 L595.00,250.01 L596.50,249.41 L598.00,248.82 L599.50,248.25 L601.00,247.68 L602.50,247.13 L604.00,246.58 L605.50,246.05 L607.00,245.53 L608.50,245.02 L610.00,244.52 L611.50,244.03 L613.00,243.56 L614.50,243.09 L616.00,242.64 L617.50,242.20 L619.00,241.77 L620.50,241.35 L622.00,240.95 L623.50,240.55 L625.00,240.16 L626.50,239.77 L628.00,239.39 L629.50,239.00 L631.00,238.61 L632.50,238.22 L634.00,237.82 L635.50,237.41 L637.00,236.98 L638.50,236.54 L640.00,236.09 L641.50,235.61 L643.00,235.11 L644.50,234.59 L646.00,234.04 L647.50,233.47 L649.00,232.86 L650.50,232.22 L652.00,231.54 L653.50,230.83 L655.00,230.07 L656.50,229.27 L658.00,228.43 L659.50,227.53 L661.00,226.59 L662.50,225.60 L664.00,224.56 L665.50,223.49 L667.00,222.37 L668.50,221.22 L670.00,220.03 L671.50,218.81 L673.00,217.57 L674.50,216.31 L676.00,215.03 L677.50,213.72 L679.00,212.41 L680.50,211.09 L682.00,209.76 L683.50,208.42 L685.00,207.09 L686.50,205.76 L688.00,204.43 L689.50,203.11 L691.00,201.81 L692.50,200.52 L694.00,199.25 L695.50,198.00 L697.00,196.78 L698.50,195.59 L700.00,194.43 L701.50,193.30 L703.00,192.20 L704.50,191.14 L706.00,190.11 L707.50,189.11 L709.00,188.13 L710.50,187.19 L712.00,186.26 L713.50,185.37 L715.00,184.49 L716.50,183.63 L718.00,182.80 L719.50,181.98 L721.00,181.18 L722.50,180.39 L724.00,179.62 L725.50,178.86 L727.00,178.11 L728.50,177.37 L730.00,176.64 L731.50,175.92 L733.00,175.20 L734.50,174.48 L736.00,173.77 L737.50,173.06 L739.00,172.35 L740.50,171.64 L742.00,170.92 L743.50,170.20 L745.00,169.48 L746.50,168.76 L748.00,168.04 L749.50,167.31 L751.00,166.59 L752.50,165.86 L754.00,165.13 L755.50,164.40 L757.00,163.66 L758.50,162.93 L760.00,162.20 L761.50,161.46 L763.00,160.72 L764.50,159.99 L766.00,159.24 L767.50,158.49 L769.00,157.73 L770.00,157.20 L770.25,157.07 L770.50,156.93 L770.75,156.80 L771.00,156.66 L771.25,156.52 L771.50,156.38 L771.75,156.23 L772.00,156.09 L772.25,155.94 L772.50,155.78 L772.75,155.63 L773.00,155.47 L773.25,155.30 L773.50,155.13 L773.75,154.96 L774.00,154.78 L774.25,154.59 L774.50,154.40 L774.75,154.20 L775.00,153.98 L775.25,153.76 L775.50,153.53 L775.75,153.28 L776.00,153.02 L776.25,152.74 L776.50,152.45 L776.75,152.14 L777.00,151.80 L777.25,151.44 L777.50,151.05 L777.75,150.63 L778.00,150.18 L778.25,149.69 L778.50,149.16 L778.75,148.58 L779.00,147.95 L779.25,147.26 L779.50,146.50 L779.75,145.67 L780.00,144.76 L780.25,143.76 L780.50,142.66 L780.75,141.45 L781.00,140.11 L781.25,138.63 L781.50,137.00 L781.75,135.19 L782.00,133.19 L782.25,130.98 L782.50,128.52 L782.75,125.80 L783.00,122.78 L783.25,119.42 L783.50,115.69 L783.75,111.55 L784.00,106.95 L784.25,101.84 L784.50,96.15 L784.75,89.82 L785.00,82.78 L785.25,74.94 L785.50,66.22 L785.75,56.51 L786.00,45.70 L786.11,40.80" stroke="#0a0a70"/>
<path d="M214.00,338.53 L215.50,337.79 L217.00,337.06 L218.50,336.33 L220.00,335.61 L221.50,334.88 L223.00,334.15 L224.50,333.43 L226.00,332.70 L227.50,331.98 L229.00,331.26 L230.50,330.54 L232.00,329.83 L233.50,329.11 L235.00,328.40 L236.50,327.70 L238.00,326.99 L239.50,326.29 L241.00,325.60 L242.50,324.90 L244.00,324.21 L245.50,323.53 L247.00,322.85 L248.50,322.17 L250.00,321.50 L251.50,320.83 L253.00,320.17 L254.50,319.52 L256.00,318.87 L257.50,318.23 L259.00,317.59 L260.50,316.97 L262.00,316.35 L263.50,315.75 L265.00,315.15 L266.50,314.56 L268.00,313.99 L269.50,313.43 L271.00,312.88 L272.50,312.34 L274.00,311.82 L275.50,311.31 L277.00,310.81 L278.50,310.33 L280.00,309.87 L281.50,309.42 L283.00,308.99 L284.50,308.58 L286.00,308.19 L287.50,307.81 L289.00,307.46 L290.50,307.12 L292.00,306.81 L293.50,306.51 L295.00,306.24 L296.50,305.99 L298.00,305.77 L299.50,305.56 L301.00,305.38 L302.50,305.23 L304.00,305.10 L305.50,304.98 L307.00,304.90 L308.50,304.83 L310.00,304.78 L311.50,304.74 L313.00,304.73 L314.50,304.73 L316.00,304.75 L317.50,304.79 L319.00,304.83 L320.50,304.90 L322.00,304.97 L323.50,305.05 L325.00,305.15 L326.50,305.26 L328.00,305.37 L329.50,305.50 L331.00,305.63 L332.50,305.77 L334.00,305.91 L335.50,306.07 L337.00,306.22 L338.50,306.38 L340.00,306.55 L341.50,306.72 L343.00,306.90 L344.50,307.07 L346.00,307.26 L347.50,307.44 L349.00,307.64 L350.50,307.83 L352.00,308.04 L353.50,308.25 L355.00,308.47 L356.50,308.71 L358.00,308.96 L359.50,309.22 L361.00,309.51 L362.50,309.83 L364.00,310.17 L365.50,310.54 L367.00,310.94 L368.50,311.39 L370.00,311.87 L371.50,312.40 L373.00,312.98 L374.50,313.61 L376.00,314.30 L377.50,315.05 L379.00,315.85 L380.50,316.72 L382.00,317.66 L383.50,318.65 L385.00,319.71 L386.50,320.83 L388.00,322.01 L389.50,323.25 L391.00,324.54 L392.50,325.88 L394.00,327.26 L395.50,328.68 L397.00,330.12 L398.50,331.58 L400.00,333.05 L401.50,334.52 L403.00,335.98 L404.50,337.42 L406.00,338.82 L407.50,340.18 L409.00,341.49 L410.50,342.73 L412.00,343.90 L413.50,344.99 L415.00,345.99 L416.50,346.89 L418.00,347.69 L419.50,348.38 L421.00,348.96 L422.50,349.43 L424.00,349.78 L425.50,350.02 L427.00,350.16 L428.50,350.19 L430.00,350.13 L431.50,349.99 L433.00,349.81 L434.50,349.58 L436.00,349.31 L437.50,348.98 L439.00,348.60 L440.50,348.15 L442.00,347.64 L443.50,347.08 L445.00,346.44 L446.50,345.75 L448.00,344.99 L449.50,344.17 L451.00,343.29 L452.50,342.35 L454.00,341.35 L455.50,340.30 L457.00,339.20 L458.50,338.04 L460.00,336.84 L461.50,335.60 L463.00,334.32 L464.50,333.00 L466.00,331.65 L467.50,330.27 L469.00,328.87 L470.50,327.45 L472.00,326.02 L473.50,324.57 L475.00,323.11 L476.50,321.65 L478.00,320.19 L479.50,318.74 L481.00,317.29 L482.50,315.85 L484.00,314.43 L485.50,313.02 L487.00,311.63 L488.50,310.26 L490.00,308.91 L491.50,307.59 L493.00,306.29 L494.50,305.02 L496.00,303.77 L497.50,302.56 L499.00,301.37 L500.50,300.21 L502.00,299.08 L503.50,297.98 L505.00,296.91 L506.50,295.86 L508.00,294.84 L509.50,293.85 L511.00,292.88 L512.50,291.93 L514.00,291.00 L515.50,290.10 L517.00,289.21 L518.50,288.34 L520.00,287.49 L521.50,286.65 L523.00,285.83 L524.50,285.01 L526.00,284.21 L527.50,283.41 L529.00,282.63 L530.50,281.85 L532.00,281.07 L533.50,280.30 L535.00,279.53 L536.50,278.77 L538.00,278.00 L539.50,277.23 L541.00,276.46 L542.50,275.70 L544.00,274.93 L545.50,274.15 L547.00,273.38 L548.50,272.60 L550.00,271.83 L551.50,271.05 L553.00,270.27 L554.50,269.49 L556.00,268.72 L557.50,267.94 L559.00,267.16 L560.50,266.38 L562.00,265.61 L563.50,264.84 L565.00,264.07 L566.50,263.30 L568.00,262.54 L569.50,261.78 L571.00,261.03 L572.50,260.28 L574.00,259.54 L575.50,258.80 L577.00,258.07 L578.50,257.35 L580.00,256.64 L581.50,255.94 L583.00,255.24 L584.50,254.56 L586.00,253.88 L587.50,253.22 L589.00,252.57 L590.50,251.92 L592.00,251.29 L593.50,250.66 L595.00,250.05 L596.50,249.45 L598.00,248.86 L599.50,248.28 L601.00,247.71 L602.50,247.15 L604.00,246.61 L605.50,246.07 L607.00,245.55 L608.50,245.04 L610.00,244.54 L611.50,244.06 L613.00,243.59 L614.50,243.13 L616.00,242.68 L617.50,242.25 L619.00,241.83 L620.50,241.43 L622.00,241.04 L623.50,240.66 L625.00,240.28 L626.50,239.91 L628.00,239.55 L629.50,239.18 L631.00,238.82 L632.50,238.45 L634.00,238.07 L635.50,237.68 L637.00,237.28 L638.50,236.87 L640.00,236.44 L641.50,235.99 L643.00,235.52 L644.50,235.03 L646.00,234.50 L647.50,233.95 L649.00,233.37 L650.50,232.75 L652.00,232.10 L653.50,231.41 L655.00,230.68 L656.50,229.90 L658.00,229.08 L659.50,228.20 L661.00,227.28 L662.50,226.30 L664.00,225.28 L665.50,224.22 L667.00,223.11 L668.50,221.97 L670.00,220.80 L671.50,219.59 L673.00,218.36 L674.50,217.10 L676.00,215.82 L677.50,214.53 L679.00,213.22 L680.50,211.90 L682.00,210.57 L683.50,209.23 L685.00,207.90 L686.50,206.57 L688.00,205.24 L689.50,203.92 L691.00,202.61 L692.50,201.32 L694.00,200.05 L695.50,198.79 L697.00,197.57 L698.50,196.37 L700.00,195.20 L701.50,194.07 L703.00,192.96 L704.50,191.90 L706.00,190.86 L707.50,189.85 L709.00,188.86 L710.50,187.91 L712.00,186.98 L713.50,186.07 L715.00,185.19 L716.50,184.32 L718.00,183.48 L719.50,182.65 L721.00,181.85 L722.50,181.05 L724.00,180.27 L725.50,179.51 L727.00,178.75 L728.50,178.01 L730.00,177.28 L731.50,176.55 L733.00,175.83 L734.50,175.11 L736.00,174.40 L737.50,173.68 L739.00,172.97 L740.50,172.26 L742.00,171.55 L743.50,170.84 L745.00,170.12 L746.50,169.40 L748.00,168.69 L749.50,167.97 L751.00,167.25 L752.50,166.53 L754.00,165.81 L755.50,165.08 L757.00,164.36 L758.50,163.64 L760.00,162.91 L761.50,162.19 L763.00,161.46 L764.50,160.73 L766.00,160.00 L767.50,159.26 L769.00,158.50 L770.00,157.99 L770.25,157.85 L770.50,157.72 L770.75,157.59 L771.00,157.45 L771.25,157.31 L771.50,157.17 L771.75,157.03 L772.00,156.88 L772.25,156.74 L772.50,156.59 L772.75,156.43 L773.00,156.27 L773.25,156.11 L773.50,155.94 L773.75,155.77 L774.00,155.59 L774.25,155.41 L774.50,155.21 L774.75,155.01 L775.00,154.80 L775.25,154.58 L775.50,154.35 L775.75,154.10 L776.00,153.84 L776.25,153.57 L776.50,153.28 L776.75,152.96 L777.00,152.63 L777.25,152.27 L777.50,151.88 L777.75,151.47 L778.00,151.02 L778.25,150.53 L778.50,150.00 L778.75,149.42 L779.00,148.79 L779.25,148.10 L779.50,147.34 L779.75,146.51 L780.00,145.60 L780.25,144.60 L780.50,143.50 L780.75,142.29 L781.00,140.95 L781.25,139.48 L781.50,137.84 L781.75,136.03 L782.00,134.03 L782.25,131.82 L782.50,129.36 L782.75,126.63 L783.00,123.61 L783.25,120.25 L783.50,116.52 L783.75,112.37 L784.00,107.76 L784.25,102.64 L784.50,96.94 L784.75,90.61 L785.00,83.55 L785.25,75.71 L785.50,66.97 L785.75,57.25 L786.00,46.42 L786.12,40.80" stroke="#7a18f0"/>
<path d="M214.00,345.15 L215.50,344.14 L217.00,343.13 L218.50,342.13 L220.00,341.12 L221.50,340.13 L223.00,339.14 L224.50,338.16 L226.00,337.18 L227.50,336.22 L229.00,335.26 L230.50,334.32 L232.00,333.38 L233.50,332.47 L235.00,331.56 L236.50,330.67 L238.00,329.80 L239.50,328.94 L241.00,328.10 L242.50,327.28 L244.00,326.48 L245.50,325.70 L247.00,324.95 L248.50,324.21 L250.00,323.50 L251.50,322.81 L253.00,322.15 L254.50,321.51 L256.00,320.90 L257.50,320.31 L259.00,319.74 L260.50,319.20 L262.00,318.67 L263.50,318.17 L265.00,317.69 L266.50,317.23 L268.00,316.79 L269.50,316.37 L271.00,315.97 L272.50,315.59 L274.00,315.22 L275.50,314.88 L277.00,314.55 L278.50,314.24 L280.00,313.95 L281.50,313.68 L283.00,313.42 L284.50,313.18 L286.00,312.95 L287.50,312.74 L289.00,312.54 L290.50,312.36 L292.00,312.19 L293.50,312.03 L295.00,311.89 L296.50,311.76 L298.00,311.64 L299.50,311.53 L301.00,311.44 L302.50,311.35 L304.00,311.28 L305.50,311.22 L307.00,311.16 L308.50,311.12 L310.00,311.09 L311.50,311.06 L313.00,311.04 L314.50,311.03 L316.00,311.03 L317.50,311.03 L319.00,311.04 L320.50,311.06 L322.00,311.08 L323.50,311.11 L325.00,311.14 L326.50,311.18 L328.00,311.22 L329.50,311.27 L331.00,311.32 L332.50,311.37 L334.00,311.43 L335.50,311.49 L337.00,311.56 L338.50,311.62 L340.00,311.70 L341.50,311.77 L343.00,311.85 L344.50,311.94 L346.00,312.03 L347.50,312.12 L349.00,312.22 L350.50,312.34 L352.00,312.46 L353.50,312.59 L355.00,312.74 L356.50,312.90 L358.00,313.09 L359.50,313.29 L361.00,313.53 L362.50,313.79 L364.00,314.08 L365.50,314.42 L367.00,314.79 L368.50,315.21 L370.00,315.67 L371.50,316.20 L373.00,316.77 L374.50,317.41 L376.00,318.11 L377.50,318.88 L379.00,319.72 L380.50,320.63 L382.00,321.62 L383.50,322.68 L385.00,323.81 L386.50,325.01 L388.00,326.28 L389.50,327.61 L391.00,329.01 L392.50,330.46 L394.00,331.96 L395.50,333.51 L397.00,335.08 L398.50,336.68 L400.00,338.29 L401.50,339.90 L403.00,341.50 L404.50,343.07 L406.00,344.62 L407.50,346.12 L409.00,347.56 L410.50,348.93 L412.00,350.22 L413.50,351.42 L415.00,352.52 L416.50,353.52 L418.00,354.40 L419.50,355.17 L421.00,355.81 L422.50,356.33 L424.00,356.73 L425.50,357.00 L427.00,357.15 L428.50,357.19 L430.00,357.13 L431.50,356.99 L433.00,356.80 L434.50,356.56 L436.00,356.27 L437.50,355.92 L439.00,355.51 L440.50,355.03 L442.00,354.48 L443.50,353.87 L445.00,353.19 L446.50,352.44 L448.00,351.62 L449.50,350.73 L451.00,349.78 L452.50,348.76 L454.00,347.68 L455.50,346.54 L457.00,345.34 L458.50,344.09 L460.00,342.78 L461.50,341.44 L463.00,340.04 L464.50,338.61 L466.00,337.15 L467.50,335.65 L469.00,334.13 L470.50,332.59 L472.00,331.03 L473.50,329.46 L475.00,327.88 L476.50,326.30 L478.00,324.72 L479.50,323.14 L481.00,321.58 L482.50,320.02 L484.00,318.48 L485.50,316.96 L487.00,315.46 L488.50,313.98 L490.00,312.53 L491.50,311.10 L493.00,309.71 L494.50,308.34 L496.00,307.01 L497.50,305.71 L499.00,304.44 L500.50,303.20 L502.00,301.99 L503.50,300.82 L505.00,299.68 L506.50,298.57 L508.00,297.48 L509.50,296.43 L511.00,295.40 L512.50,294.40 L514.00,293.42 L515.50,292.47 L517.00,291.54 L518.50,290.62 L520.00,289.73 L521.50,288.85 L523.00,287.98 L524.50,287.13 L526.00,286.29 L527.50,285.46 L529.00,284.64 L530.50,283.82 L532.00,283.01 L533.50,282.21 L535.00,281.41 L536.50,280.60 L538.00,279.80 L539.50,279.00 L541.00,278.20 L542.50,277.39 L544.00,276.59 L545.50,275.78 L547.00,274.97 L548.50,274.16 L550.00,273.34 L551.50,272.53 L553.00,271.71 L554.50,270.90 L556.00,270.08 L557.50,269.27 L559.00,268.45 L560.50,267.64 L562.00,266.83 L563.50,266.03 L565.00,265.22 L566.50,264.42 L568.00,263.63 L569.50,262.84 L571.00,262.05 L572.50,261.28 L574.00,260.51 L575.50,259.75 L577.00,258.99 L578.50,258.25 L580.00,257.52 L581.50,256.80 L583.00,256.09 L584.50,255.39 L586.00,254.70 L587.50,254.02 L589.00,253.36 L590.50,252.71 L592.00,252.06 L593.50,251.43 L595.00,250.81 L596.50,250.21 L598.00,249.61 L599.50,249.02 L601.00,248.45 L602.50,247.89 L604.00,247.34 L605.50,246.80 L607.00,246.27 L608.50,245.76 L610.00,245.25 L611.50,244.76 L613.00,244.28 L614.50,243.81 L616.00,243.36 L617.50,242.91 L619.00,242.48 L620.50,242.06 L622.00,241.65 L623.50,241.25 L625.00,240.85 L626.50,240.46 L628.00,240.07 L629.50,239.68 L631.00,239.29 L632.50,238.90 L634.00,238.49 L635.50,238.08 L637.00,237.65 L638.50,237.21 L640.00,236.75 L641.50,236.28 L643.00,235.78 L644.50,235.26 L646.00,234.71 L647.50,234.13 L649.00,233.52 L650.50,232.88 L652.00,232.20 L653.50,231.49 L655.00,230.74 L656.50,229.94 L658.00,229.10 L659.50,228.21 L661.00,227.27 L662.50,226.28 L664.00,225.25 L665.50,224.18 L667.00,223.06 L668.50,221.92 L670.00,220.74 L671.50,219.53 L673.00,218.29 L674.50,217.03 L676.00,215.76 L677.50,214.46 L679.00,213.15 L680.50,211.83 L682.00,210.51 L683.50,209.18 L685.00,207.85 L686.50,206.52 L688.00,205.20 L689.50,203.89 L691.00,202.58 L692.50,201.30 L694.00,200.03 L695.50,198.78 L697.00,197.56 L698.50,196.36 L700.00,195.20 L701.50,194.07 L703.00,192.97 L704.50,191.90 L706.00,190.87 L707.50,189.86 L709.00,188.88 L710.50,187.93 L712.00,187.00 L713.50,186.09 L715.00,185.20 L716.50,184.34 L718.00,183.50 L719.50,182.67 L721.00,181.86 L722.50,181.07 L724.00,180.29 L725.50,179.52 L727.00,178.77 L728.50,178.02 L730.00,177.28 L731.50,176.55 L733.00,175.83 L734.50,175.11 L736.00,174.40 L737.50,173.69 L739.00,172.97 L740.50,172.26 L742.00,171.55 L743.50,170.83 L745.00,170.12 L746.50,169.40 L748.00,168.68 L749.50,167.96 L751.00,167.24 L752.50,166.52 L754.00,165.80 L755.50,165.08 L757.00,164.36 L758.50,163.63 L760.00,162.91 L761.50,162.19 L763.00,161.46 L764.50,160.73 L766.00,160.00 L767.50,159.26 L769.00,158.51 L770.00,157.99 L770.25,157.86 L770.50,157.72 L770.75,157.59 L771.00,157.45 L771.25,157.31 L771.50,157.17 L771.75,157.03 L772.00,156.89 L772.25,156.74 L772.50,156.59 L772.75,156.43 L773.00,156.27 L773.25,156.11 L773.50,155.94 L773.75,155.77 L774.00,155.59 L774.25,155.41 L774.50,155.22 L774.75,155.01 L775.00,154.80 L775.25,154.58 L775.50,154.35 L775.75,154.11 L776.00,153.85 L776.25,153.57 L776.50,153.28 L776.75,152.97 L777.00,152.63 L777.25,152.27 L777.50,151.89 L777.75,151.47 L778.00,151.02 L778.25,150.53 L778.50,150.00 L778.75,149.42 L779.00,148.79 L779.25,148.10 L779.50,147.35 L779.75,146.52 L780.00,145.61 L780.25,144.61 L780.50,143.51 L780.75,142.30 L781.00,140.96 L781.25,139.48 L781.50,137.85 L781.75,136.04 L782.00,134.04 L782.25,131.82 L782.50,129.36 L782.75,126.64 L783.00,123.61 L783.25,120.25 L783.50,116.52 L783.75,112.37 L784.00,107.77 L784.25,102.64 L784.50,96.95 L784.75,90.61 L785.00,83.56 L785.25,75.71 L785.50,66.97 L785.75,57.25 L786.00,46.42 L786.12,40.80" stroke="#7a107a"/>
<path d="M214.00,351.19 L215.50,350.20 L217.00,349.22 L218.50,348.24 L220.00,347.26 L221.50,346.29 L223.00,345.33 L224.50,344.37 L226.00,343.42 L227.50,342.48 L229.00,341.55 L230.50,340.63 L232.00,339.71 L233.50,338.82 L235.00,337.93 L236.50,337.06 L238.00,336.20 L239.50,335.36 L241.00,334.54 L242.50,333.73 L244.00,332.95 L245.50,332.18 L247.00,331.43 L248.50,330.70 L250.00,330.00 L251.50,329.32 L253.00,328.66 L254.50,328.03 L256.00,327.41 L257.50,326.82 L259.00,326.25 L260.50,325.70 L262.00,325.17 L263.50,324.66 L265.00,324.17 L266.50,323.70 L268.00,323.25 L269.50,322.82 L271.00,322.41 L272.50,322.01 L274.00,321.63 L275.50,321.27 L277.00,320.93 L278.50,320.60 L280.00,320.29 L281.50,320.00 L283.00,319.72 L284.50,319.45 L286.00,319.20 L287.50,318.96 L289.00,318.74 L290.50,318.53 L292.00,318.34 L293.50,318.15 L295.00,317.98 L296.50,317.83 L298.00,317.68 L299.50,317.54 L301.00,317.42 L302.50,317.30 L304.00,317.20 L305.50,317.11 L307.00,317.02 L308.50,316.95 L310.00,316.88 L311.50,316.82 L313.00,316.77 L314.50,316.73 L316.00,316.69 L317.50,316.66 L319.00,316.64 L320.50,316.62 L322.00,316.61 L323.50,316.61 L325.00,316.61 L326.50,316.62 L328.00,316.63 L329.50,316.64 L331.00,316.66 L332.50,316.69 L334.00,316.72 L335.50,316.75 L337.00,316.79 L338.50,316.83 L340.00,316.87 L341.50,316.93 L343.00,316.98 L344.50,317.05 L346.00,317.12 L347.50,317.20 L349.00,317.29 L350.50,317.39 L352.00,317.51 L353.50,317.64 L355.00,317.79 L356.50,317.96 L358.00,318.15 L359.50,318.38 L361.00,318.63 L362.50,318.93 L364.00,319.26 L365.50,319.64 L367.00,320.07 L368.50,320.55 L370.00,321.10 L371.50,321.71 L373.00,322.39 L374.50,323.14 L376.00,323.97 L377.50,324.89 L379.00,325.88 L380.50,326.97 L382.00,328.14 L383.50,329.40 L385.00,330.75 L386.50,332.19 L388.00,333.71 L389.50,335.31 L391.00,336.99 L392.50,338.73 L394.00,340.53 L395.50,342.38 L397.00,344.27 L398.50,346.19 L400.00,348.12 L401.50,350.06 L403.00,351.99 L404.50,353.89 L406.00,355.75 L407.50,357.56 L409.00,359.30 L410.50,360.96 L412.00,362.52 L413.50,363.98 L415.00,365.32 L416.50,366.54 L418.00,367.62 L419.50,368.56 L421.00,369.36 L422.50,370.01 L424.00,370.51 L425.50,370.86 L427.00,371.08 L428.50,371.16 L430.00,371.13 L431.50,370.99 L433.00,370.80 L434.50,370.55 L436.00,370.24 L437.50,369.86 L439.00,369.41 L440.50,368.88 L442.00,368.27 L443.50,367.58 L445.00,366.81 L446.50,365.96 L448.00,365.03 L449.50,364.01 L451.00,362.92 L452.50,361.75 L454.00,360.51 L455.50,359.20 L457.00,357.82 L458.50,356.37 L460.00,354.87 L461.50,353.31 L463.00,351.70 L464.50,350.05 L466.00,348.35 L467.50,346.62 L469.00,344.86 L470.50,343.08 L472.00,341.27 L473.50,339.46 L475.00,337.63 L476.50,335.81 L478.00,333.98 L479.50,332.16 L481.00,330.35 L482.50,328.56 L484.00,326.78 L485.50,325.03 L487.00,323.30 L488.50,321.60 L490.00,319.94 L491.50,318.30 L493.00,316.70 L494.50,315.14 L496.00,313.62 L497.50,312.13 L499.00,310.69 L500.50,309.28 L502.00,307.91 L503.50,306.58 L505.00,305.29 L506.50,304.04 L508.00,302.82 L509.50,301.63 L511.00,300.48 L512.50,299.36 L514.00,298.27 L515.50,297.21 L517.00,296.17 L518.50,295.16 L520.00,294.17 L521.50,293.20 L523.00,292.24 L524.50,291.31 L526.00,290.38 L527.50,289.47 L529.00,288.57 L530.50,287.68 L532.00,286.80 L533.50,285.92 L535.00,285.04 L536.50,284.17 L538.00,283.29 L539.50,282.42 L541.00,281.55 L542.50,280.67 L544.00,279.79 L545.50,278.91 L547.00,278.03 L548.50,277.15 L550.00,276.26 L551.50,275.38 L553.00,274.49 L554.50,273.61 L556.00,272.72 L557.50,271.84 L559.00,270.96 L560.50,270.08 L562.00,269.20 L563.50,268.33 L565.00,267.46 L566.50,266.60 L568.00,265.75 L569.50,264.90 L571.00,264.06 L572.50,263.23 L574.00,262.41 L575.50,261.60 L577.00,260.80 L578.50,260.02 L580.00,259.25 L581.50,258.49 L583.00,257.74 L584.50,257.01 L586.00,256.30 L587.50,255.60 L589.00,254.91 L590.50,254.23 L592.00,253.57 L593.50,252.92 L595.00,252.29 L596.50,251.66 L598.00,251.05 L599.50,250.46 L601.00,249.87 L602.50,249.30 L604.00,248.74 L605.50,248.19 L607.00,247.65 L608.50,247.12 L610.00,246.61 L611.50,246.11 L613.00,245.62 L614.50,245.13 L616.00,244.66 L617.50,244.21 L619.00,243.76 L620.50,243.32 L622.00,242.89 L623.50,242.47 L625.00,242.05 L626.50,241.64 L628.00,241.23 L629.50,240.81 L631.00,240.40 L632.50,239.97 L634.00,239.54 L635.50,239.10 L637.00,238.65 L638.50,238.18 L640.00,237.70 L641.50,237.19 L643.00,236.67 L644.50,236.12 L646.00,235.55 L647.50,234.95 L649.00,234.32 L650.50,233.66 L652.00,232.96 L653.50,232.23 L655.00,231.45 L656.50,230.64 L658.00,229.79 L659.50,228.89 L661.00,227.94 L662.50,226.94 L664.00,225.91 L665.50,224.83 L667.00,223.72 L668.50,222.57 L670.00,221.39 L671.50,220.18 L673.00,218.95 L674.50,217.70 L676.00,216.43 L677.50,215.14 L679.00,213.84 L680.50,212.53 L682.00,211.21 L683.50,209.89 L685.00,208.57 L686.50,207.25 L688.00,205.93 L689.50,204.63 L691.00,203.33 L692.50,202.05 L694.00,200.79 L695.50,199.55 L697.00,198.33 L698.50,197.14 L700.00,195.97 L701.50,194.84 L703.00,193.75 L704.50,192.68 L706.00,191.64 L707.50,190.62 L709.00,189.64 L710.50,188.68 L712.00,187.74 L713.50,186.83 L715.00,185.94 L716.50,185.06 L718.00,184.21 L719.50,183.38 L721.00,182.56 L722.50,181.76 L724.00,180.97 L725.50,180.19 L727.00,179.43 L728.50,178.68 L730.00,177.93 L731.50,177.20 L733.00,176.47 L734.50,175.75 L736.00,175.03 L737.50,174.31 L739.00,173.60 L740.50,172.89 L742.00,172.18 L743.50,171.46 L745.00,170.75 L746.50,170.04 L748.00,169.33 L749.50,168.61 L751.00,167.90 L752.50,167.19 L754.00,166.48 L755.50,165.76 L757.00,165.05 L758.50,164.34 L760.00,163.62 L761.50,162.91 L763.00,162.20 L764.50,161.48 L766.00,160.76 L767.50,160.03 L769.00,159.29 L770.00,158.78 L770.25,158.65 L770.50,158.51 L770.75,158.38 L771.00,158.25 L771.25,158.11 L771.50,157.97 L771.75,157.83 L772.00,157.69 L772.25,157.54 L772.50,157.39 L772.75,157.24 L773.00,157.08 L773.25,156.92 L773.50,156.76 L773.75,156.59 L774.00,156.41 L774.25,156.23 L774.50,156.04 L774.75,155.84 L775.00,155.63 L775.25,155.41 L775.50,155.18 L775.75,154.94 L776.00,154.68 L776.25,154.40 L776.50,154.11 L776.75,153.80 L777.00,153.47 L777.25,153.11 L777.50,152.73 L777.75,152.31 L778.00,151.86 L778.25,151.37 L778.50,150.84 L778.75,150.27 L779.00,149.64 L779.25,148.95 L779.50,148.19 L779.75,147.37 L780.00,146.46 L780.25,145.46 L780.50,144.36 L780.75,143.15 L781.00,141.81 L781.25,140.33 L781.50,138.69 L781.75,136.89 L782.00,134.88 L782.25,132.66 L782.50,130.20 L782.75,127.48 L783.00,124.45 L783.25,121.08 L783.50,117.35 L783.75,113.20 L784.00,108.59 L784.25,103.46 L784.50,97.75 L784.75,91.41 L785.00,84.34 L785.25,76.49 L785.50,67.74 L785.75,58.00 L786.00,47.16 L786.13,40.80" stroke="#7a0a0a"/>
<path d="M214.00,356.08 L215.50,355.01 L217.00,353.95 L218.50,352.89 L220.00,351.84 L221.50,350.79 L223.00,349.75 L224.50,348.72 L226.00,347.69 L227.50,346.68 L229.00,345.68 L230.50,344.69 L232.00,343.72 L233.50,342.76 L235.00,341.81 L236.50,340.89 L238.00,339.98 L239.50,339.09 L241.00,338.22 L242.50,337.37 L244.00,336.55 L245.50,335.75 L247.00,334.97 L248.50,334.22 L250.00,333.50 L251.50,332.81 L253.00,332.14 L254.50,331.50 L256.00,330.89 L257.50,330.30 L259.00,329.74 L260.50,329.20 L262.00,328.69 L263.50,328.20 L265.00,327.73 L266.50,327.29 L268.00,326.87 L269.50,326.47 L271.00,326.09 L272.50,325.73 L274.00,325.39 L275.50,325.06 L277.00,324.76 L278.50,324.48 L280.00,324.21 L281.50,323.96 L283.00,323.72 L284.50,323.50 L286.00,323.30 L287.50,323.11 L289.00,322.93 L290.50,322.77 L292.00,322.62 L293.50,322.48 L295.00,322.35 L296.50,322.23 L298.00,322.13 L299.50,322.03 L301.00,321.94 L302.50,321.86 L304.00,321.79 L305.50,321.73 L307.00,321.68 L308.50,321.63 L310.00,321.59 L311.50,321.55 L313.00,321.53 L314.50,321.51 L316.00,321.49 L317.50,321.48 L319.00,321.48 L320.50,321.48 L322.00,321.48 L323.50,321.49 L325.00,321.51 L326.50,321.53 L328.00,321.55 L329.50,321.57 L331.00,321.60 L332.50,321.64 L334.00,321.67 L335.50,321.71 L337.00,321.76 L338.50,321.81 L340.00,321.86 L341.50,321.92 L343.00,321.98 L344.50,322.06 L346.00,322.13 L347.50,322.22 L349.00,322.32 L350.50,322.43 L352.00,322.56 L353.50,322.70 L355.00,322.87 L356.50,323.06 L358.00,323.27 L359.50,323.52 L361.00,323.81 L362.50,324.13 L364.00,324.50 L365.50,324.92 L367.00,325.40 L368.50,325.93 L370.00,326.54 L371.50,327.21 L373.00,327.97 L374.50,328.80 L376.00,329.73 L377.50,330.74 L379.00,331.85 L380.50,333.05 L382.00,334.35 L383.50,335.75 L385.00,337.25 L386.50,338.85 L388.00,340.54 L389.50,342.31 L391.00,344.17 L392.50,346.11 L394.00,348.11 L395.50,350.16 L397.00,352.26 L398.50,354.39 L400.00,356.54 L401.50,358.69 L403.00,360.83 L404.50,362.95 L406.00,365.01 L407.50,367.02 L409.00,368.96 L410.50,370.80 L412.00,372.54 L413.50,374.16 L415.00,375.65 L416.50,377.00 L418.00,378.21 L419.50,379.26 L421.00,380.14 L422.50,380.87 L424.00,381.43 L425.50,381.83 L427.00,382.08 L428.50,382.17 L430.00,382.14 L431.50,381.99 L433.00,381.78 L434.50,381.51 L436.00,381.17 L437.50,380.76 L439.00,380.26 L440.50,379.68 L442.00,379.01 L443.50,378.25 L445.00,377.40 L446.50,376.47 L448.00,375.44 L449.50,374.32 L451.00,373.12 L452.50,371.83 L454.00,370.46 L455.50,369.01 L457.00,367.49 L458.50,365.89 L460.00,364.24 L461.50,362.52 L463.00,360.74 L464.50,358.91 L466.00,357.04 L467.50,355.14 L469.00,353.20 L470.50,351.23 L472.00,349.24 L473.50,347.24 L475.00,345.23 L476.50,343.21 L478.00,341.20 L479.50,339.19 L481.00,337.20 L482.50,335.22 L484.00,333.27 L485.50,331.34 L487.00,329.44 L488.50,327.58 L490.00,325.74 L491.50,323.95 L493.00,322.19 L494.50,320.48 L496.00,318.81 L497.50,317.18 L499.00,315.60 L500.50,314.06 L502.00,312.56 L503.50,311.11 L505.00,309.70 L506.50,308.33 L508.00,307.00 L509.50,305.71 L511.00,304.46 L512.50,303.24 L514.00,302.06 L515.50,300.91 L517.00,299.78 L518.50,298.69 L520.00,297.62 L521.50,296.57 L523.00,295.54 L524.50,294.53 L526.00,293.54 L527.50,292.56 L529.00,291.59 L530.50,290.64 L532.00,289.69 L533.50,288.75 L535.00,287.81 L536.50,286.87 L538.00,285.94 L539.50,285.01 L541.00,284.08 L542.50,283.14 L544.00,282.21 L545.50,281.27 L547.00,280.33 L548.50,279.39 L550.00,278.45 L551.50,277.51 L553.00,276.57 L554.50,275.63 L556.00,274.70 L557.50,273.76 L559.00,272.83 L560.50,271.90 L562.00,270.98 L563.50,270.06 L565.00,269.15 L566.50,268.24 L568.00,267.35 L569.50,266.46 L571.00,265.58 L572.50,264.71 L574.00,263.86 L575.50,263.02 L577.00,262.19 L578.50,261.38 L580.00,260.58 L581.50,259.80 L583.00,259.03 L584.50,258.29 L586.00,257.56 L587.50,256.84 L589.00,256.14 L590.50,255.45 L592.00,254.78 L593.50,254.12 L595.00,253.48 L596.50,252.85 L598.00,252.23 L599.50,251.63 L601.00,251.04 L602.50,250.46 L604.00,249.89 L605.50,249.33 L607.00,248.79 L608.50,248.25 L610.00,247.73 L611.50,247.21 L613.00,246.70 L614.50,246.21 L616.00,245.72 L617.50,245.24 L619.00,244.77 L620.50,244.31 L622.00,243.85 L623.50,243.40 L625.00,242.95 L626.50,242.50 L628.00,242.05 L629.50,241.60 L631.00,241.14 L632.50,240.68 L634.00,240.21 L635.50,239.72 L637.00,239.23 L638.50,238.71 L640.00,238.19 L641.50,237.64 L643.00,237.07 L644.50,236.48 L646.00,235.87 L647.50,235.22 L649.00,234.55 L650.50,233.85 L652.00,233.12 L653.50,232.35 L655.00,231.55 L656.50,230.70 L658.00,229.82 L659.50,228.89 L661.00,227.92 L662.50,226.91 L664.00,225.86 L665.50,224.76 L667.00,223.64 L668.50,222.48 L670.00,221.30 L671.50,220.08 L673.00,218.85 L674.50,217.59 L676.00,216.32 L677.50,215.03 L679.00,213.74 L680.50,212.43 L682.00,211.12 L683.50,209.80 L685.00,208.49 L686.50,207.18 L688.00,205.87 L689.50,204.57 L691.00,203.29 L692.50,202.01 L694.00,200.76 L695.50,199.53 L697.00,198.32 L698.50,197.13 L700.00,195.97 L701.50,194.85 L703.00,193.76 L704.50,192.69 L706.00,191.66 L707.50,190.65 L709.00,189.66 L710.50,188.70 L712.00,187.77 L713.50,186.86 L715.00,185.96 L716.50,185.09 L718.00,184.24 L719.50,183.40 L721.00,182.58 L722.50,181.78 L724.00,180.99 L725.50,180.21 L727.00,179.45 L728.50,178.69 L730.00,177.95 L731.50,177.21 L733.00,176.48 L734.50,175.75 L736.00,175.03 L737.50,174.32 L739.00,173.60 L740.50,172.89 L742.00,172.17 L743.50,171.46 L745.00,170.75 L746.50,170.03 L748.00,169.32 L749.50,168.61 L751.00,167.90 L752.50,167.18 L754.00,166.47 L755.50,165.76 L757.00,165.05 L758.50,164.33 L760.00,163.62 L761.50,162.91 L763.00,162.19 L764.50,161.48 L766.00,160.76 L767.50,160.03 L769.00,159.29 L770.00,158.78 L770.25,158.65 L770.50,158.52 L770.75,158.38 L771.00,158.25 L771.25,158.11 L771.50,157.97 L771.75,157.83 L772.00,157.69 L772.25,157.55 L772.50,157.40 L772.75,157.24 L773.00,157.09 L773.25,156.93 L773.50,156.76 L773.75,156.59 L774.00,156.41 L774.25,156.23 L774.50,156.04 L774.75,155.84 L775.00,155.63 L775.25,155.41 L775.50,155.18 L775.75,154.94 L776.00,154.68 L776.25,154.41 L776.50,154.12 L776.75,153.81 L777.00,153.47 L777.25,153.12 L777.50,152.73 L777.75,152.32 L778.00,151.87 L778.25,151.38 L778.50,150.85 L778.75,150.27 L779.00,149.64 L779.25,148.95 L779.50,148.20 L779.75,147.37 L780.00,146.46 L780.25,145.47 L780.50,144.37 L780.75,143.15 L781.00,141.81 L781.25,140.34 L781.50,138.70 L781.75,136.89 L782.00,134.89 L782.25,132.67 L782.50,130.21 L782.75,127.48 L783.00,124.45 L783.25,121.09 L783.50,117.35 L783.75,113.20 L784.00,108.59 L784.25,103.46 L784.50,97.76 L784.75,91.41 L785.00,84.35 L785.25,76.49 L785.50,67.74 L785.75,58.00 L786.00,47.16 L786.13,40.80" stroke="#808018"/>
<path d="M214.00,359.15 L215.50,358.14 L217.00,357.14 L218.50,356.13 L220.00,355.13 L221.50,354.14 L223.00,353.15 L224.50,352.17 L226.00,351.20 L227.50,350.23 L229.00,349.28 L230.50,348.34 L232.00,347.40 L233.50,346.49 L235.00,345.58 L236.50,344.69 L238.00,343.82 L239.50,342.96 L241.00,342.12 L242.50,341.30 L244.00,340.49 L245.50,339.71 L247.00,338.95 L248.50,338.21 L250.00,337.50 L251.50,336.81 L253.00,336.14 L254.50,335.50 L256.00,334.88 L257.50,334.28 L259.00,333.71 L260.50,333.16 L262.00,332.63 L263.50,332.12 L265.00,331.64 L266.50,331.17 L268.00,330.72 L269.50,330.30 L271.00,329.89 L272.50,329.51 L274.00,329.14 L275.50,328.80 L277.00,328.47 L278.50,328.16 L280.00,327.86 L281.50,327.59 L283.00,327.33 L284.50,327.09 L286.00,326.86 L287.50,326.66 L289.00,326.46 L290.50,326.29 L292.00,326.12 L293.50,325.98 L295.00,325.84 L296.50,325.72 L298.00,325.62 L299.50,325.53 L301.00,325.45 L302.50,325.38 L304.00,325.33 L305.50,325.29 L307.00,325.26 L308.50,325.24 L310.00,325.23 L311.50,325.23 L313.00,325.24 L314.50,325.25 L316.00,325.28 L317.50,325.31 L319.00,325.36 L320.50,325.40 L322.00,325.46 L323.50,325.52 L325.00,325.59 L326.50,325.66 L328.00,325.74 L329.50,325.82 L331.00,325.90 L332.50,326.00 L334.00,326.09 L335.50,326.19 L337.00,326.29 L338.50,326.40 L340.00,326.51 L341.50,326.63 L343.00,326.75 L344.50,326.88 L346.00,327.02 L347.50,327.16 L349.00,327.32 L350.50,327.49 L352.00,327.67 L353.50,327.87 L355.00,328.10 L356.50,328.34 L358.00,328.62 L359.50,328.93 L361.00,329.27 L362.50,329.66 L364.00,330.10 L365.50,330.59 L367.00,331.15 L368.50,331.76 L370.00,332.45 L371.50,333.22 L373.00,334.07 L374.50,335.01 L376.00,336.04 L377.50,337.17 L379.00,338.40 L380.50,339.74 L382.00,341.18 L383.50,342.73 L385.00,344.38 L386.50,346.14 L388.00,348.00 L389.50,349.95 L391.00,352.00 L392.50,354.12 L394.00,356.32 L395.50,358.57 L397.00,360.88 L398.50,363.21 L400.00,365.57 L401.50,367.93 L403.00,370.27 L404.50,372.58 L406.00,374.85 L407.50,377.04 L409.00,379.16 L410.50,381.18 L412.00,383.08 L413.50,384.85 L415.00,386.48 L416.50,387.96 L418.00,389.28 L419.50,390.42 L421.00,391.39 L422.50,392.18 L424.00,392.79 L425.50,393.23 L427.00,393.49 L428.50,393.60 L430.00,393.55 L431.50,393.39 L433.00,393.15 L434.50,392.86 L436.00,392.48 L437.50,392.03 L439.00,391.48 L440.50,390.84 L442.00,390.10 L443.50,389.27 L445.00,388.34 L446.50,387.31 L448.00,386.18 L449.50,384.95 L451.00,383.63 L452.50,382.22 L454.00,380.72 L455.50,379.13 L457.00,377.46 L458.50,375.71 L460.00,373.90 L461.50,372.01 L463.00,370.07 L464.50,368.07 L466.00,366.02 L467.50,363.93 L469.00,361.81 L470.50,359.65 L472.00,357.47 L473.50,355.28 L475.00,353.08 L476.50,350.88 L478.00,348.67 L479.50,346.48 L481.00,344.30 L482.50,342.14 L484.00,340.00 L485.50,337.89 L487.00,335.82 L488.50,333.78 L490.00,331.78 L491.50,329.81 L493.00,327.90 L494.50,326.03 L496.00,324.20 L497.50,322.43 L499.00,320.70 L500.50,319.02 L502.00,317.39 L503.50,315.80 L505.00,314.27 L506.50,312.78 L508.00,311.33 L509.50,309.93 L511.00,308.57 L512.50,307.25 L514.00,305.96 L515.50,304.71 L517.00,303.50 L518.50,302.31 L520.00,301.15 L521.50,300.02 L523.00,298.91 L524.50,297.82 L526.00,296.75 L527.50,295.70 L529.00,294.66 L530.50,293.63 L532.00,292.61 L533.50,291.61 L535.00,290.60 L536.50,289.61 L538.00,288.61 L539.50,287.62 L541.00,286.62 L542.50,285.63 L544.00,284.64 L545.50,283.64 L547.00,282.65 L548.50,281.65 L550.00,280.66 L551.50,279.66 L553.00,278.67 L554.50,277.68 L556.00,276.69 L557.50,275.71 L559.00,274.73 L560.50,273.75 L562.00,272.78 L563.50,271.82 L565.00,270.86 L566.50,269.92 L568.00,268.98 L569.50,268.05 L571.00,267.14 L572.50,266.23 L574.00,265.34 L575.50,264.47 L577.00,263.61 L578.50,262.77 L580.00,261.94 L581.50,261.14 L583.00,260.35 L584.50,259.58 L586.00,258.83 L587.50,258.10 L589.00,257.38 L590.50,256.68 L592.00,255.99 L593.50,255.32 L595.00,254.67 L596.50,254.02 L598.00,253.40 L599.50,252.78 L601.00,252.18 L602.50,251.59 L604.00,251.02 L605.50,250.45 L607.00,249.90 L608.50,249.35 L610.00,248.82 L611.50,248.30 L613.00,247.78 L614.50,247.28 L616.00,246.78 L617.50,246.29 L619.00,245.81 L620.50,245.33 L622.00,244.86 L623.50,244.40 L625.00,243.94 L626.50,243.47 L628.00,243.01 L629.50,242.54 L631.00,242.07 L632.50,241.59 L634.00,241.10 L635.50,240.60 L637.00,240.09 L638.50,239.56 L640.00,239.01 L641.50,238.45 L643.00,237.87 L644.50,237.26 L646.00,236.63 L647.50,235.98 L649.00,235.29 L650.50,234.58 L652.00,233.84 L653.50,233.06 L655.00,232.24 L656.50,231.39 L658.00,230.50 L659.50,229.57 L661.00,228.60 L662.50,227.58 L664.00,226.52 L665.50,225.43 L667.00,224.31 L668.50,223.15 L670.00,221.97 L671.50,220.76 L673.00,219.53 L674.50,218.28 L676.00,217.02 L677.50,215.74 L679.00,214.44 L680.50,213.14 L682.00,211.84 L683.50,210.53 L685.00,209.22 L686.50,207.92 L688.00,206.62 L689.50,205.33 L691.00,204.04 L692.50,202.78 L694.00,201.53 L695.50,200.30 L697.00,199.09 L698.50,197.91 L700.00,196.75 L701.50,195.62 L703.00,194.53 L704.50,193.46 L706.00,192.42 L707.50,191.41 L709.00,190.42 L710.50,189.45 L712.00,188.51 L713.50,187.59 L715.00,186.69 L716.50,185.81 L718.00,184.95 L719.50,184.10 L721.00,183.28 L722.50,182.46 L724.00,181.66 L725.50,180.88 L727.00,180.11 L728.50,179.34 L730.00,178.59 L731.50,177.85 L733.00,177.11 L734.50,176.38 L736.00,175.66 L737.50,174.94 L739.00,174.23 L740.50,173.51 L742.00,172.80 L743.50,172.09 L745.00,171.38 L746.50,170.67 L748.00,169.96 L749.50,169.26 L751.00,168.55 L752.50,167.85 L754.00,167.15 L755.50,166.44 L757.00,165.74 L758.50,165.04 L760.00,164.34 L761.50,163.63 L763.00,162.93 L764.50,162.22 L766.00,161.52 L767.50,160.80 L769.00,160.07 L770.00,159.56 L770.25,159.44 L770.50,159.31 L770.75,159.18 L771.00,159.04 L771.25,158.91 L771.50,158.77 L771.75,158.63 L772.00,158.49 L772.25,158.35 L772.50,158.20 L772.75,158.05 L773.00,157.90 L773.25,157.74 L773.50,157.57 L773.75,157.40 L774.00,157.23 L774.25,157.05 L774.50,156.86 L774.75,156.66 L775.00,156.45 L775.25,156.24 L775.50,156.01 L775.75,155.77 L776.00,155.51 L776.25,155.24 L776.50,154.95 L776.75,154.64 L777.00,154.31 L777.25,153.95 L777.50,153.57 L777.75,153.16 L778.00,152.71 L778.25,152.22 L778.50,151.69 L778.75,151.12 L779.00,150.49 L779.25,149.80 L779.50,149.05 L779.75,148.22 L780.00,147.31 L780.25,146.31 L780.50,145.21 L780.75,144.00 L781.00,142.66 L781.25,141.18 L781.50,139.55 L781.75,137.74 L782.00,135.74 L782.25,133.52 L782.50,131.05 L782.75,128.32 L783.00,125.29 L783.25,121.92 L783.50,118.19 L783.75,114.03 L784.00,109.41 L784.25,104.28 L784.50,98.56 L784.75,92.21 L785.00,85.14 L785.25,77.27 L785.50,68.51 L785.75,58.76 L786.00,47.90 L786.15,40.80" stroke="#3c5c9c"/>
<path d="M214.00,362.18 L215.50,361.19 L217.00,360.20 L218.50,359.22 L220.00,358.24 L221.50,357.27 L223.00,356.30 L224.50,355.34 L226.00,354.38 L227.50,353.44 L229.00,352.50 L230.50,351.58 L232.00,350.67 L233.50,349.77 L235.00,348.88 L236.50,348.01 L238.00,347.16 L239.50,346.32 L241.00,345.50 L242.50,344.70 L244.00,343.92 L245.50,343.15 L247.00,342.41 L248.50,341.69 L250.00,341.00 L251.50,340.33 L253.00,339.68 L254.50,339.06 L256.00,338.46 L257.50,337.88 L259.00,337.33 L260.50,336.80 L262.00,336.28 L263.50,335.80 L265.00,335.33 L266.50,334.88 L268.00,334.45 L269.50,334.04 L271.00,333.66 L272.50,333.29 L274.00,332.94 L275.50,332.61 L277.00,332.29 L278.50,332.00 L280.00,331.72 L281.50,331.46 L283.00,331.22 L284.50,330.99 L286.00,330.78 L287.50,330.58 L289.00,330.40 L290.50,330.23 L292.00,330.08 L293.50,329.94 L295.00,329.82 L296.50,329.71 L298.00,329.61 L299.50,329.53 L301.00,329.45 L302.50,329.39 L304.00,329.34 L305.50,329.30 L307.00,329.28 L308.50,329.26 L310.00,329.25 L311.50,329.25 L313.00,329.26 L314.50,329.28 L316.00,329.31 L317.50,329.34 L319.00,329.38 L320.50,329.43 L322.00,329.48 L323.50,329.54 L325.00,329.61 L326.50,329.68 L328.00,329.75 L329.50,329.83 L331.00,329.92 L332.50,330.01 L334.00,330.10 L335.50,330.20 L337.00,330.30 L338.50,330.41 L340.00,330.53 L341.50,330.65 L343.00,330.77 L344.50,330.91 L346.00,331.05 L347.50,331.21 L349.00,331.37 L350.50,331.56 L352.00,331.76 L353.50,331.98 L355.00,332.23 L356.50,332.51 L358.00,332.82 L359.50,333.17 L361.00,333.56 L362.50,334.01 L364.00,334.51 L365.50,335.07 L367.00,335.70 L368.50,336.41 L370.00,337.21 L371.50,338.09 L373.00,339.07 L374.50,340.15 L376.00,341.34 L377.50,342.65 L379.00,344.07 L380.50,345.61 L382.00,347.27 L383.50,349.06 L385.00,350.97 L386.50,353.00 L388.00,355.15 L389.50,357.41 L391.00,359.77 L392.50,362.22 L394.00,364.76 L395.50,367.36 L397.00,370.03 L398.50,372.73 L400.00,375.45 L401.50,378.18 L403.00,380.89 L404.50,383.56 L406.00,386.19 L407.50,388.73 L409.00,391.19 L410.50,393.53 L412.00,395.74 L413.50,397.80 L415.00,399.70 L416.50,401.42 L418.00,402.96 L419.50,404.31 L421.00,405.45 L422.50,406.39 L424.00,407.13 L425.50,407.66 L427.00,408.00 L428.50,408.15 L430.00,408.14 L431.50,407.99 L433.00,407.76 L434.50,407.46 L436.00,407.07 L437.50,406.58 L439.00,406.00 L440.50,405.30 L442.00,404.50 L443.50,403.59 L445.00,402.56 L446.50,401.42 L448.00,400.17 L449.50,398.81 L451.00,397.34 L452.50,395.77 L454.00,394.09 L455.50,392.32 L457.00,390.45 L458.50,388.50 L460.00,386.46 L461.50,384.35 L463.00,382.17 L464.50,379.93 L466.00,377.63 L467.50,375.29 L469.00,372.90 L470.50,370.48 L472.00,368.04 L473.50,365.58 L475.00,363.11 L476.50,360.64 L478.00,358.17 L479.50,355.71 L481.00,353.27 L482.50,350.85 L484.00,348.46 L485.50,346.10 L487.00,343.77 L488.50,341.49 L490.00,339.26 L491.50,337.07 L493.00,334.93 L494.50,332.85 L496.00,330.82 L497.50,328.85 L499.00,326.93 L500.50,325.07 L502.00,323.26 L503.50,321.51 L505.00,319.82 L506.50,318.17 L508.00,316.58 L509.50,315.04 L511.00,313.55 L512.50,312.10 L514.00,310.70 L515.50,309.33 L517.00,308.01 L518.50,306.72 L520.00,305.46 L521.50,304.23 L523.00,303.03 L524.50,301.85 L526.00,300.70 L527.50,299.56 L529.00,298.44 L530.50,297.34 L532.00,296.25 L533.50,295.16 L535.00,294.09 L536.50,293.02 L538.00,291.95 L539.50,290.89 L541.00,289.83 L542.50,288.76 L544.00,287.70 L545.50,286.64 L547.00,285.57 L548.50,284.51 L550.00,283.45 L551.50,282.39 L553.00,281.33 L554.50,280.27 L556.00,279.22 L557.50,278.17 L559.00,277.13 L560.50,276.09 L562.00,275.06 L563.50,274.04 L565.00,273.03 L566.50,272.02 L568.00,271.03 L569.50,270.06 L571.00,269.09 L572.50,268.14 L574.00,267.21 L575.50,266.29 L577.00,265.40 L578.50,264.52 L580.00,263.66 L581.50,262.83 L583.00,262.02 L584.50,261.23 L586.00,260.46 L587.50,259.71 L589.00,258.98 L590.50,258.26 L592.00,257.57 L593.50,256.89 L595.00,256.23 L596.50,255.58 L598.00,254.94 L599.50,254.32 L601.00,253.71 L602.50,253.12 L604.00,252.53 L605.50,251.96 L607.00,251.40 L608.50,250.84 L610.00,250.29 L611.50,249.76 L613.00,249.22 L614.50,248.70 L616.00,248.18 L617.50,247.66 L619.00,247.15 L620.50,246.64 L622.00,246.14 L623.50,245.63 L625.00,245.13 L626.50,244.62 L628.00,244.11 L629.50,243.59 L631.00,243.06 L632.50,242.53 L634.00,241.98 L635.50,241.43 L637.00,240.86 L638.50,240.27 L640.00,239.67 L641.50,239.05 L643.00,238.40 L644.50,237.74 L646.00,237.06 L647.50,236.35 L649.00,235.61 L650.50,234.84 L652.00,234.05 L653.50,233.22 L655.00,232.37 L656.50,231.47 L658.00,230.55 L659.50,229.58 L661.00,228.58 L662.50,227.53 L664.00,226.46 L665.50,225.35 L667.00,224.21 L668.50,223.04 L670.00,221.85 L671.50,220.63 L673.00,219.40 L674.50,218.14 L676.00,216.88 L677.50,215.60 L679.00,214.31 L680.50,213.02 L682.00,211.72 L683.50,210.42 L685.00,209.12 L686.50,207.82 L688.00,206.53 L689.50,205.25 L691.00,203.98 L692.50,202.73 L694.00,201.49 L695.50,200.27 L697.00,199.07 L698.50,197.90 L700.00,196.75 L701.50,195.63 L703.00,194.54 L704.50,193.48 L706.00,192.44 L707.50,191.43 L709.00,190.45 L710.50,189.48 L712.00,188.54 L713.50,187.62 L715.00,186.72 L716.50,185.84 L718.00,184.98 L719.50,184.14 L721.00,183.31 L722.50,182.49 L724.00,181.69 L725.50,180.91 L727.00,180.13 L728.50,179.36 L730.00,178.61 L731.50,177.86 L733.00,177.13 L734.50,176.39 L736.00,175.67 L737.50,174.95 L739.00,174.23 L740.50,173.51 L742.00,172.80 L743.50,172.09 L745.00,171.38 L746.50,170.67 L748.00,169.96 L749.50,169.25 L751.00,168.55 L752.50,167.84 L754.00,167.14 L755.50,166.44 L757.00,165.74 L758.50,165.03 L760.00,164.33 L761.50,163.63 L763.00,162.93 L764.50,162.22 L766.00,161.52 L767.50,160.80 L769.00,160.07 L770.00,159.57 L770.25,159.44 L770.50,159.31 L770.75,159.18 L771.00,159.05 L771.25,158.91 L771.50,158.78 L771.75,158.64 L772.00,158.50 L772.25,158.35 L772.50,158.21 L772.75,158.06 L773.00,157.90 L773.25,157.74 L773.50,157.58 L773.75,157.41 L774.00,157.24 L774.25,157.05 L774.50,156.86 L774.75,156.67 L775.00,156.46 L775.25,156.24 L775.50,156.02 L775.75,155.77 L776.00,155.52 L776.25,155.25 L776.50,154.96 L776.75,154.65 L777.00,154.32 L777.25,153.96 L777.50,153.58 L777.75,153.16 L778.00,152.72 L778.25,152.23 L778.50,151.70 L778.75,151.12 L779.00,150.50 L779.25,149.81 L779.50,149.05 L779.75,148.23 L780.00,147.32 L780.25,146.32 L780.50,145.22 L780.75,144.01 L781.00,142.67 L781.25,141.19 L781.50,139.56 L781.75,137.75 L782.00,135.74 L782.25,133.52 L782.50,131.06 L782.75,128.33 L783.00,125.30 L783.25,121.93 L783.50,118.19 L783.75,114.04 L784.00,109.42 L784.25,104.28 L784.50,98.57 L784.75,92.21 L785.00,85.14 L785.25,77.27 L785.50,68.51 L785.75,58.76 L786.00,47.90 L786.15,40.80" stroke="#2e8c8c"/>
<path d="M214.00,369.10 L215.50,368.04 L217.00,366.99 L218.50,365.95 L220.00,364.91 L221.50,363.88 L223.00,362.85 L224.50,361.83 L226.00,360.83 L227.50,359.83 L229.00,358.84 L230.50,357.87 L232.00,356.92 L233.50,355.98 L235.00,355.05 L236.50,354.15 L238.00,353.26 L239.50,352.39 L241.00,351.55 L242.50,350.73 L244.00,349.93 L245.50,349.16 L247.00,348.41 L248.50,347.69 L250.00,347.00 L251.50,346.34 L253.00,345.71 L254.50,345.11 L256.00,344.53 L257.50,343.98 L259.00,343.46 L260.50,342.97 L262.00,342.50 L263.50,342.05 L265.00,341.63 L266.50,341.23 L268.00,340.85 L269.50,340.50 L271.00,340.17 L272.50,339.86 L274.00,339.56 L275.50,339.29 L277.00,339.04 L278.50,338.80 L280.00,338.58 L281.50,338.38 L283.00,338.20 L284.50,338.02 L286.00,337.87 L287.50,337.73 L289.00,337.60 L290.50,337.48 L292.00,337.38 L293.50,337.29 L295.00,337.20 L296.50,337.13 L298.00,337.07 L299.50,337.02 L301.00,336.97 L302.50,336.93 L304.00,336.90 L305.50,336.88 L307.00,336.86 L308.50,336.85 L310.00,336.85 L311.50,336.85 L313.00,336.86 L314.50,336.87 L316.00,336.89 L317.50,336.91 L319.00,336.94 L320.50,336.97 L322.00,337.01 L323.50,337.05 L325.00,337.09 L326.50,337.14 L328.00,337.19 L329.50,337.25 L331.00,337.31 L332.50,337.37 L334.00,337.44 L335.50,337.51 L337.00,337.58 L338.50,337.66 L340.00,337.75 L341.50,337.84 L343.00,337.94 L344.50,338.05 L346.00,338.18 L347.50,338.31 L349.00,338.46 L350.50,338.63 L352.00,338.83 L353.50,339.05 L355.00,339.30 L356.50,339.58 L358.00,339.91 L359.50,340.28 L361.00,340.70 L362.50,341.19 L364.00,341.74 L365.50,342.37 L367.00,343.08 L368.50,343.87 L370.00,344.77 L371.50,345.77 L373.00,346.89 L374.50,348.12 L376.00,349.48 L377.50,350.98 L379.00,352.61 L380.50,354.39 L382.00,356.30 L383.50,358.37 L385.00,360.57 L386.50,362.92 L388.00,365.40 L389.50,368.02 L391.00,370.75 L392.50,373.60 L394.00,376.54 L395.50,379.56 L397.00,382.65 L398.50,385.78 L400.00,388.94 L401.50,392.11 L403.00,395.26 L404.50,398.37 L406.00,401.42 L407.50,404.39 L409.00,407.24 L410.50,409.97 L412.00,412.54 L413.50,414.95 L415.00,417.16 L416.50,419.18 L418.00,420.98 L419.50,422.56 L421.00,423.90 L422.50,425.01 L424.00,425.88 L425.50,426.52 L427.00,426.93 L428.50,427.13 L430.00,427.14 L431.50,426.99 L433.00,426.75 L434.50,426.42 L436.00,425.99 L437.50,425.46 L439.00,424.80 L440.50,424.03 L442.00,423.13 L443.50,422.10 L445.00,420.94 L446.50,419.65 L448.00,418.23 L449.50,416.69 L451.00,415.02 L452.50,413.23 L454.00,411.32 L455.50,409.30 L457.00,407.17 L458.50,404.94 L460.00,402.62 L461.50,400.21 L463.00,397.72 L464.50,395.16 L466.00,392.54 L467.50,389.87 L469.00,387.14 L470.50,384.39 L472.00,381.60 L473.50,378.79 L475.00,375.97 L476.50,373.15 L478.00,370.34 L479.50,367.54 L481.00,364.75 L482.50,362.00 L484.00,359.28 L485.50,356.59 L487.00,353.96 L488.50,351.37 L490.00,348.83 L491.50,346.35 L493.00,343.93 L494.50,341.57 L496.00,339.27 L497.50,337.05 L499.00,334.88 L500.50,332.78 L502.00,330.75 L503.50,328.79 L505.00,326.88 L506.50,325.04 L508.00,323.26 L509.50,321.54 L511.00,319.88 L512.50,318.27 L514.00,316.71 L515.50,315.20 L517.00,313.73 L518.50,312.31 L520.00,310.92 L521.50,309.57 L523.00,308.25 L524.50,306.96 L526.00,305.69 L527.50,304.45 L529.00,303.23 L530.50,302.03 L532.00,300.84 L533.50,299.66 L535.00,298.49 L536.50,297.33 L538.00,296.18 L539.50,295.02 L541.00,293.87 L542.50,292.72 L544.00,291.57 L545.50,290.42 L547.00,289.27 L548.50,288.12 L550.00,286.97 L551.50,285.83 L553.00,284.68 L554.50,283.55 L556.00,282.41 L557.50,281.29 L559.00,280.17 L560.50,279.05 L562.00,277.95 L563.50,276.85 L565.00,275.77 L566.50,274.70 L568.00,273.65 L569.50,272.61 L571.00,271.58 L572.50,270.58 L574.00,269.59 L575.50,268.63 L577.00,267.68 L578.50,266.76 L580.00,265.87 L581.50,265.01 L583.00,264.17 L584.50,263.35 L586.00,262.56 L587.50,261.79 L589.00,261.04 L590.50,260.31 L592.00,259.61 L593.50,258.92 L595.00,258.24 L596.50,257.59 L598.00,256.94 L599.50,256.32 L601.00,255.70 L602.50,255.10 L604.00,254.50 L605.50,253.92 L607.00,253.34 L608.50,252.77 L610.00,252.21 L611.50,251.65 L613.00,251.10 L614.50,250.55 L616.00,250.00 L617.50,249.45 L619.00,248.90 L620.50,248.35 L622.00,247.80 L623.50,247.24 L625.00,246.68 L626.50,246.11 L628.00,245.53 L629.50,244.95 L631.00,244.36 L632.50,243.75 L634.00,243.13 L635.50,242.50 L637.00,241.86 L638.50,241.20 L640.00,240.52 L641.50,239.82 L643.00,239.10 L644.50,238.37 L646.00,237.61 L647.50,236.83 L649.00,236.02 L650.50,235.19 L652.00,234.33 L653.50,233.44 L655.00,232.53 L656.50,231.58 L658.00,230.60 L659.50,229.59 L661.00,228.55 L662.50,227.47 L664.00,226.37 L665.50,225.23 L667.00,224.07 L668.50,222.89 L670.00,221.68 L671.50,220.46 L673.00,219.22 L674.50,217.96 L676.00,216.70 L677.50,215.42 L679.00,214.14 L680.50,212.85 L682.00,211.56 L683.50,210.27 L685.00,208.98 L686.50,207.70 L688.00,206.42 L689.50,205.16 L691.00,203.90 L692.50,202.66 L694.00,201.44 L695.50,200.23 L697.00,199.05 L698.50,197.89 L700.00,196.75 L701.50,195.64 L703.00,194.56 L704.50,193.51 L706.00,192.48 L707.50,191.47 L709.00,190.49 L710.50,189.53 L712.00,188.59 L713.50,187.67 L715.00,186.77 L716.50,185.89 L718.00,185.03 L719.50,184.18 L721.00,183.35 L722.50,182.53 L724.00,181.73 L725.50,180.94 L727.00,180.16 L728.50,179.39 L730.00,178.63 L731.50,177.88 L733.00,177.14 L734.50,176.40 L736.00,175.67 L737.50,174.95 L739.00,174.23 L740.50,173.51 L742.00,172.80 L743.50,172.08 L745.00,171.37 L746.50,170.66 L748.00,169.95 L749.50,169.24 L751.00,168.54 L752.50,167.84 L754.00,167.13 L755.50,166.43 L757.00,165.73 L758.50,165.03 L760.00,164.33 L761.50,163.63 L763.00,162.93 L764.50,162.22 L766.00,161.52 L767.50,160.80 L769.00,160.07 L770.00,159.57 L770.25,159.44 L770.50,159.31 L770.75,159.18 L771.00,159.05 L771.25,158.92 L771.50,158.78 L771.75,158.64 L772.00,158.50 L772.25,158.36 L772.50,158.21 L772.75,158.06 L773.00,157.91 L773.25,157.75 L773.50,157.59 L773.75,157.42 L774.00,157.24 L774.25,157.06 L774.50,156.87 L774.75,156.67 L775.00,156.47 L775.25,156.25 L775.50,156.02 L775.75,155.78 L776.00,155.53 L776.25,155.26 L776.50,154.97 L776.75,154.66 L777.00,154.33 L777.25,153.97 L777.50,153.59 L777.75,153.17 L778.00,152.73 L778.25,152.24 L778.50,151.71 L778.75,151.13 L779.00,150.51 L779.25,149.82 L779.50,149.07 L779.75,148.24 L780.00,147.33 L780.25,146.33 L780.50,145.23 L780.75,144.02 L781.00,142.68 L781.25,141.20 L781.50,139.57 L781.75,137.76 L782.00,135.76 L782.25,133.53 L782.50,131.07 L782.75,128.34 L783.00,125.31 L783.25,121.94 L783.50,118.20 L783.75,114.05 L784.00,109.43 L784.25,104.29 L784.50,98.58 L784.75,92.22 L785.00,85.15 L785.25,77.28 L785.50,68.52 L785.75,58.76 L786.00,47.90 L786.15,40.80" stroke="#946232"/>
<path d="M214.00,374.23 L215.50,373.28 L217.00,372.34 L218.50,371.39 L220.00,370.45 L221.50,369.52 L223.00,368.59 L224.50,367.67 L226.00,366.75 L227.50,365.85 L229.00,364.95 L230.50,364.07 L232.00,363.20 L233.50,362.34 L235.00,361.49 L236.50,360.66 L238.00,359.85 L239.50,359.05 L241.00,358.27 L242.50,357.50 L244.00,356.76 L245.50,356.04 L247.00,355.34 L248.50,354.66 L250.00,354.00 L251.50,353.37 L253.00,352.76 L254.50,352.18 L256.00,351.61 L257.50,351.07 L259.00,350.56 L260.50,350.06 L262.00,349.59 L263.50,349.14 L265.00,348.70 L266.50,348.29 L268.00,347.90 L269.50,347.53 L271.00,347.17 L272.50,346.84 L274.00,346.52 L275.50,346.22 L277.00,345.94 L278.50,345.67 L280.00,345.43 L281.50,345.19 L283.00,344.98 L284.50,344.78 L286.00,344.59 L287.50,344.42 L289.00,344.26 L290.50,344.12 L292.00,343.99 L293.50,343.87 L295.00,343.76 L296.50,343.67 L298.00,343.59 L299.50,343.52 L301.00,343.46 L302.50,343.41 L304.00,343.38 L305.50,343.35 L307.00,343.33 L308.50,343.32 L310.00,343.32 L311.50,343.32 L313.00,343.34 L314.50,343.36 L316.00,343.39 L317.50,343.42 L319.00,343.46 L320.50,343.51 L322.00,343.56 L323.50,343.62 L325.00,343.69 L326.50,343.75 L328.00,343.83 L329.50,343.91 L331.00,343.99 L332.50,344.08 L334.00,344.17 L335.50,344.27 L337.00,344.37 L338.50,344.48 L340.00,344.59 L341.50,344.72 L343.00,344.85 L344.50,345.00 L346.00,345.15 L347.50,345.33 L349.00,345.52 L350.50,345.73 L352.00,345.97 L353.50,346.23 L355.00,346.53 L356.50,346.88 L358.00,347.26 L359.50,347.70 L361.00,348.20 L362.50,348.77 L364.00,349.42 L365.50,350.15 L367.00,350.97 L368.50,351.89 L370.00,352.93 L371.50,354.09 L373.00,355.38 L374.50,356.80 L376.00,358.37 L377.50,360.09 L379.00,361.97 L380.50,364.01 L382.00,366.21 L383.50,368.58 L385.00,371.11 L386.50,373.81 L388.00,376.66 L389.50,379.65 L391.00,382.79 L392.50,386.05 L394.00,389.42 L395.50,392.89 L397.00,396.43 L398.50,400.02 L400.00,403.64 L401.50,407.27 L403.00,410.89 L404.50,414.45 L406.00,417.95 L407.50,421.35 L409.00,424.62 L410.50,427.75 L412.00,430.70 L413.50,433.46 L415.00,436.01 L416.50,438.32 L418.00,440.39 L419.50,442.21 L421.00,443.76 L422.50,445.04 L424.00,446.05 L425.50,446.79 L427.00,447.28 L428.50,447.52 L430.00,447.55 L431.50,447.39 L433.00,447.13 L434.50,446.77 L436.00,446.30 L437.50,445.71 L439.00,444.98 L440.50,444.11 L442.00,443.10 L443.50,441.94 L445.00,440.63 L446.50,439.18 L448.00,437.58 L449.50,435.84 L451.00,433.95 L452.50,431.93 L454.00,429.77 L455.50,427.48 L457.00,425.07 L458.50,422.55 L460.00,419.92 L461.50,417.19 L463.00,414.37 L464.50,411.48 L466.00,408.51 L467.50,405.47 L469.00,402.39 L470.50,399.27 L472.00,396.11 L473.50,392.94 L475.00,389.75 L476.50,386.55 L478.00,383.37 L479.50,380.20 L481.00,377.05 L482.50,373.94 L484.00,370.86 L485.50,367.83 L487.00,364.85 L488.50,361.93 L490.00,359.07 L491.50,356.27 L493.00,353.54 L494.50,350.89 L496.00,348.31 L497.50,345.80 L499.00,343.37 L500.50,341.02 L502.00,338.74 L503.50,336.54 L505.00,334.41 L506.50,332.35 L508.00,330.37 L509.50,328.45 L511.00,326.60 L512.50,324.81 L514.00,323.08 L515.50,321.40 L517.00,319.78 L518.50,318.20 L520.00,316.67 L521.50,315.19 L523.00,313.74 L524.50,312.32 L526.00,310.94 L527.50,309.58 L529.00,308.24 L530.50,306.93 L532.00,305.63 L533.50,304.35 L535.00,303.09 L536.50,301.83 L538.00,300.57 L539.50,299.32 L541.00,298.08 L542.50,296.83 L544.00,295.59 L545.50,294.35 L547.00,293.11 L548.50,291.87 L550.00,290.64 L551.50,289.41 L553.00,288.18 L554.50,286.96 L556.00,285.75 L557.50,284.54 L559.00,283.34 L560.50,282.15 L562.00,280.97 L563.50,279.81 L565.00,278.66 L566.50,277.52 L568.00,276.40 L569.50,275.29 L571.00,274.21 L572.50,273.15 L574.00,272.11 L575.50,271.09 L577.00,270.10 L578.50,269.14 L580.00,268.21 L581.50,267.30 L583.00,266.43 L584.50,265.59 L586.00,264.77 L587.50,263.98 L589.00,263.21 L590.50,262.46 L592.00,261.74 L593.50,261.03 L595.00,260.35 L596.50,259.68 L598.00,259.03 L599.50,258.39 L601.00,257.76 L602.50,257.15 L604.00,256.54 L605.50,255.95 L607.00,255.36 L608.50,254.78 L610.00,254.20 L611.50,253.63 L613.00,253.06 L614.50,252.49 L616.00,251.92 L617.50,251.34 L619.00,250.77 L620.50,250.19 L622.00,249.60 L623.50,249.01 L625.00,248.40 L626.50,247.79 L628.00,247.17 L629.50,246.54 L631.00,245.90 L632.50,245.24 L634.00,244.58 L635.50,243.89 L637.00,243.20 L638.50,242.48 L640.00,241.75 L641.50,241.00 L643.00,240.24 L644.50,239.45 L646.00,238.64 L647.50,237.81 L649.00,236.96 L650.50,236.08 L652.00,235.18 L653.50,234.25 L655.00,233.30 L656.50,232.32 L658.00,231.31 L659.50,230.28 L661.00,229.21 L662.50,228.11 L664.00,226.99 L665.50,225.85 L667.00,224.68 L668.50,223.49 L670.00,222.28 L671.50,221.05 L673.00,219.81 L674.50,218.56 L676.00,217.30 L677.50,216.04 L679.00,214.76 L680.50,213.48 L682.00,212.21 L683.50,210.93 L685.00,209.65 L686.50,208.38 L688.00,207.12 L689.50,205.87 L691.00,204.62 L692.50,203.39 L694.00,202.18 L695.50,200.99 L697.00,199.81 L698.50,198.66 L700.00,197.53 L701.50,196.42 L703.00,195.34 L704.50,194.29 L706.00,193.26 L707.50,192.25 L709.00,191.26 L710.50,190.30 L712.00,189.35 L713.50,188.43 L715.00,187.52 L716.50,186.63 L718.00,185.76 L719.50,184.90 L721.00,184.06 L722.50,183.24 L724.00,182.42 L725.50,181.62 L727.00,180.83 L728.50,180.06 L730.00,179.29 L731.50,178.53 L733.00,177.78 L734.50,177.04 L736.00,176.31 L737.50,175.58 L739.00,174.85 L740.50,174.14 L742.00,173.42 L743.50,172.71 L745.00,172.00 L746.50,171.29 L748.00,170.59 L749.50,169.89 L751.00,169.19 L752.50,168.50 L754.00,167.80 L755.50,167.11 L757.00,166.42 L758.50,165.73 L760.00,165.04 L761.50,164.35 L763.00,163.66 L764.50,162.97 L766.00,162.27 L767.50,161.57 L769.00,160.85 L770.00,160.36 L770.25,160.23 L770.50,160.11 L770.75,159.98 L771.00,159.85 L771.25,159.72 L771.50,159.58 L771.75,159.45 L772.00,159.31 L772.25,159.16 L772.50,159.02 L772.75,158.87 L773.00,158.72 L773.25,158.56 L773.50,158.40 L773.75,158.23 L774.00,158.06 L774.25,157.88 L774.50,157.69 L774.75,157.50 L775.00,157.29 L775.25,157.08 L775.50,156.85 L775.75,156.61 L776.00,156.36 L776.25,156.09 L776.50,155.80 L776.75,155.50 L777.00,155.17 L777.25,154.81 L777.50,154.43 L777.75,154.02 L778.00,153.57 L778.25,153.09 L778.50,152.56 L778.75,151.98 L779.00,151.36 L779.25,150.67 L779.50,149.92 L779.75,149.09 L780.00,148.19 L780.25,147.19 L780.50,146.09 L780.75,144.88 L781.00,143.54 L781.25,142.06 L781.50,140.42 L781.75,138.61 L782.00,136.61 L782.25,134.39 L782.50,131.92 L782.75,129.19 L783.00,126.15 L783.25,122.78 L783.50,119.04 L783.75,114.88 L784.00,110.25 L784.25,105.11 L784.50,99.39 L784.75,93.03 L785.00,85.95 L785.25,78.06 L785.50,69.29 L785.75,59.52 L786.00,48.65 L786.16,40.80" stroke="#30b04e"/>
<path d="M214.00,386.19 L215.50,385.20 L217.00,384.22 L218.50,383.24 L220.00,382.27 L221.50,381.30 L223.00,380.34 L224.50,379.38 L226.00,378.43 L227.50,377.49 L229.00,376.55 L230.50,375.63 L232.00,374.72 L233.50,373.82 L235.00,372.94 L236.50,372.07 L238.00,371.21 L239.50,370.37 L241.00,369.55 L242.50,368.74 L244.00,367.95 L245.50,367.18 L247.00,366.43 L248.50,365.71 L250.00,365.00 L251.50,364.32 L253.00,363.66 L254.50,363.02 L256.00,362.40 L257.50,361.81 L259.00,361.24 L260.50,360.69 L262.00,360.16 L263.50,359.65 L265.00,359.16 L266.50,358.70 L268.00,358.25 L269.50,357.82 L271.00,357.41 L272.50,357.02 L274.00,356.65 L275.50,356.30 L277.00,355.97 L278.50,355.66 L280.00,355.36 L281.50,355.08 L283.00,354.82 L284.50,354.58 L286.00,354.35 L287.50,354.14 L289.00,353.95 L290.50,353.77 L292.00,353.61 L293.50,353.46 L295.00,353.33 L296.50,353.21 L298.00,353.11 L299.50,353.03 L301.00,352.95 L302.50,352.89 L304.00,352.85 L305.50,352.82 L307.00,352.80 L308.50,352.79 L310.00,352.79 L311.50,352.80 L313.00,352.83 L314.50,352.86 L316.00,352.90 L317.50,352.95 L319.00,353.01 L320.50,353.08 L322.00,353.15 L323.50,353.23 L325.00,353.31 L326.50,353.40 L328.00,353.50 L329.50,353.60 L331.00,353.71 L332.50,353.82 L334.00,353.94 L335.50,354.07 L337.00,354.20 L338.50,354.33 L340.00,354.47 L341.50,354.62 L343.00,354.78 L344.50,354.96 L346.00,355.14 L347.50,355.34 L349.00,355.56 L350.50,355.80 L352.00,356.07 L353.50,356.36 L355.00,356.70 L356.50,357.08 L358.00,357.50 L359.50,357.98 L361.00,358.53 L362.50,359.15 L364.00,359.85 L365.50,360.65 L367.00,361.54 L368.50,362.54 L370.00,363.67 L371.50,364.93 L373.00,366.33 L374.50,367.87 L376.00,369.58 L377.50,371.44 L379.00,373.48 L380.50,375.70 L382.00,378.09 L383.50,380.67 L385.00,383.42 L386.50,386.35 L388.00,389.44 L389.50,392.70 L391.00,396.11 L392.50,399.65 L394.00,403.31 L395.50,407.08 L397.00,410.93 L398.50,414.83 L400.00,418.77 L401.50,422.71 L403.00,426.64 L404.50,430.51 L406.00,434.31 L407.50,437.99 L409.00,441.55 L410.50,444.94 L412.00,448.14 L413.50,451.13 L415.00,453.88 L416.50,456.38 L418.00,458.62 L419.50,460.57 L421.00,462.23 L422.50,463.60 L424.00,464.68 L425.50,465.46 L427.00,465.96 L428.50,466.20 L430.00,466.19 L431.50,465.98 L433.00,465.67 L434.50,465.25 L436.00,464.70 L437.50,464.02 L439.00,463.19 L440.50,462.21 L442.00,461.07 L443.50,459.77 L445.00,458.31 L446.50,456.70 L448.00,454.91 L449.50,452.98 L451.00,450.88 L452.50,448.64 L454.00,446.25 L455.50,443.72 L457.00,441.06 L458.50,438.27 L460.00,435.36 L461.50,432.35 L463.00,429.24 L464.50,426.05 L466.00,422.77 L467.50,419.43 L469.00,416.04 L470.50,412.60 L472.00,409.12 L473.50,405.62 L475.00,402.11 L476.50,398.60 L478.00,395.09 L479.50,391.61 L481.00,388.14 L482.50,384.72 L484.00,381.33 L485.50,378.00 L487.00,374.73 L488.50,371.51 L490.00,368.37 L491.50,365.29 L493.00,362.30 L494.50,359.38 L496.00,356.55 L497.50,353.79 L499.00,351.13 L500.50,348.54 L502.00,346.04 L503.50,343.63 L505.00,341.29 L506.50,339.04 L508.00,336.86 L509.50,334.76 L511.00,332.74 L512.50,330.78 L514.00,328.89 L515.50,327.06 L517.00,325.28 L518.50,323.57 L520.00,321.90 L521.50,320.28 L523.00,318.70 L524.50,317.16 L526.00,315.66 L527.50,314.19 L529.00,312.74 L530.50,311.32 L532.00,309.92 L533.50,308.54 L535.00,307.17 L536.50,305.82 L538.00,304.47 L539.50,303.13 L541.00,301.79 L542.50,300.46 L544.00,299.13 L545.50,297.81 L547.00,296.49 L548.50,295.17 L550.00,293.85 L551.50,292.55 L553.00,291.25 L554.50,289.95 L556.00,288.66 L557.50,287.39 L559.00,286.12 L560.50,284.87 L562.00,283.62 L563.50,282.40 L565.00,281.19 L566.50,279.99 L568.00,278.82 L569.50,277.66 L571.00,276.53 L572.50,275.42 L574.00,274.34 L575.50,273.29 L577.00,272.26 L578.50,271.27 L580.00,270.31 L581.50,269.38 L583.00,268.49 L584.50,267.62 L586.00,266.79 L587.50,265.98 L589.00,265.20 L590.50,264.45 L592.00,263.72 L593.50,263.01 L595.00,262.31 L596.50,261.64 L598.00,260.98 L599.50,260.34 L601.00,259.70 L602.50,259.08 L604.00,258.47 L605.50,257.86 L607.00,257.27 L608.50,256.67 L610.00,256.08 L611.50,255.49 L613.00,254.89 L614.50,254.30 L616.00,253.70 L617.50,253.09 L619.00,252.48 L620.50,251.86 L622.00,251.22 L623.50,250.58 L625.00,249.92 L626.50,249.25 L628.00,248.57 L629.50,247.87 L631.00,247.16 L632.50,246.44 L634.00,245.70 L635.50,244.95 L637.00,244.18 L638.50,243.39 L640.00,242.58 L641.50,241.76 L643.00,240.92 L644.50,240.06 L646.00,239.18 L647.50,238.28 L649.00,237.36 L650.50,236.42 L652.00,235.45 L653.50,234.47 L655.00,233.46 L656.50,232.43 L658.00,231.37 L659.50,230.29 L661.00,229.19 L662.50,228.06 L664.00,226.91 L665.50,225.73 L667.00,224.54 L668.50,223.34 L670.00,222.12 L671.50,220.88 L673.00,219.64 L674.50,218.39 L676.00,217.13 L677.50,215.86 L679.00,214.59 L680.50,213.32 L682.00,212.05 L683.50,210.78 L685.00,209.52 L686.50,208.26 L688.00,207.01 L689.50,205.77 L691.00,204.54 L692.50,203.33 L694.00,202.13 L695.50,200.95 L697.00,199.79 L698.50,198.64 L700.00,197.53 L701.50,196.43 L703.00,195.36 L704.50,194.31 L706.00,193.29 L707.50,192.28 L709.00,191.30 L710.50,190.34 L712.00,189.40 L713.50,188.47 L715.00,187.57 L716.50,186.68 L718.00,185.80 L719.50,184.95 L721.00,184.10 L722.50,183.27 L724.00,182.46 L725.50,181.65 L727.00,180.86 L728.50,180.08 L730.00,179.31 L731.50,178.55 L733.00,177.80 L734.50,177.05 L736.00,176.31 L737.50,175.58 L739.00,174.86 L740.50,174.13 L742.00,173.42 L743.50,172.70 L745.00,171.99 L746.50,171.29 L748.00,170.58 L749.50,169.88 L751.00,169.19 L752.50,168.49 L754.00,167.80 L755.50,167.10 L757.00,166.41 L758.50,165.72 L760.00,165.04 L761.50,164.35 L763.00,163.66 L764.50,162.97 L766.00,162.28 L767.50,161.57 L769.00,160.86 L770.00,160.36 L770.25,160.24 L770.50,160.11 L770.75,159.98 L771.00,159.85 L771.25,159.72 L771.50,159.59 L771.75,159.45 L772.00,159.31 L772.25,159.17 L772.50,159.03 L772.75,158.88 L773.00,158.73 L773.25,158.57 L773.50,158.41 L773.75,158.24 L774.00,158.07 L774.25,157.89 L774.50,157.70 L774.75,157.51 L775.00,157.30 L775.25,157.09 L775.50,156.86 L775.75,156.62 L776.00,156.37 L776.25,156.10 L776.50,155.81 L776.75,155.50 L777.00,155.18 L777.25,154.82 L777.50,154.44 L777.75,154.03 L778.00,153.58 L778.25,153.10 L778.50,152.57 L778.75,151.99 L779.00,151.37 L779.25,150.68 L779.50,149.93 L779.75,149.10 L780.00,148.20 L780.25,147.20 L780.50,146.10 L780.75,144.89 L781.00,143.55 L781.25,142.07 L781.50,140.43 L781.75,138.62 L782.00,136.62 L782.25,134.40 L782.50,131.93 L782.75,129.20 L783.00,126.16 L783.25,122.79 L783.50,119.05 L783.75,114.89 L784.00,110.26 L784.25,105.12 L784.50,99.40 L784.75,93.03 L785.00,85.95 L785.25,78.07 L785.50,69.29 L785.75,59.53 L786.00,48.65 L786.16,40.80" stroke="#a82e6a"/>
<path d="M214.00,394.38 L215.50,393.32 L217.00,392.25 L218.50,391.20 L220.00,390.14 L221.50,389.10 L223.00,388.06 L224.50,387.03 L226.00,386.01 L227.50,385.00 L229.00,384.01 L230.50,383.02 L232.00,382.05 L233.50,381.10 L235.00,380.17 L236.50,379.25 L238.00,378.35 L239.50,377.47 L241.00,376.62 L242.50,375.78 L244.00,374.97 L245.50,374.19 L247.00,373.43 L248.50,372.70 L250.00,372.00 L251.50,371.33 L253.00,370.69 L254.50,370.07 L256.00,369.49 L257.50,368.93 L259.00,368.40 L260.50,367.89 L262.00,367.42 L263.50,366.96 L265.00,366.53 L266.50,366.13 L268.00,365.75 L269.50,365.39 L271.00,365.05 L272.50,364.73 L274.00,364.44 L275.50,364.16 L277.00,363.91 L278.50,363.67 L280.00,363.45 L281.50,363.25 L283.00,363.07 L284.50,362.90 L286.00,362.75 L287.50,362.62 L289.00,362.50 L290.50,362.39 L292.00,362.30 L293.50,362.21 L295.00,362.15 L296.50,362.09 L298.00,362.04 L299.50,362.01 L301.00,361.98 L302.50,361.97 L304.00,361.96 L305.50,361.96 L307.00,361.97 L308.50,361.99 L310.00,362.02 L311.50,362.05 L313.00,362.09 L314.50,362.13 L316.00,362.18 L317.50,362.24 L319.00,362.30 L320.50,362.37 L322.00,362.44 L323.50,362.51 L325.00,362.59 L326.50,362.68 L328.00,362.76 L329.50,362.86 L331.00,362.95 L332.50,363.05 L334.00,363.16 L335.50,363.27 L337.00,363.38 L338.50,363.50 L340.00,363.63 L341.50,363.77 L343.00,363.92 L344.50,364.08 L346.00,364.26 L347.50,364.45 L349.00,364.67 L350.50,364.92 L352.00,365.19 L353.50,365.51 L355.00,365.86 L356.50,366.27 L358.00,366.73 L359.50,367.27 L361.00,367.88 L362.50,368.57 L364.00,369.36 L365.50,370.26 L367.00,371.27 L368.50,372.42 L370.00,373.70 L371.50,375.14 L373.00,376.75 L374.50,378.52 L376.00,380.48 L377.50,382.64 L379.00,384.99 L380.50,387.55 L382.00,390.31 L383.50,393.28 L385.00,396.47 L386.50,399.85 L388.00,403.43 L389.50,407.21 L391.00,411.15 L392.50,415.26 L394.00,419.50 L395.50,423.87 L397.00,428.33 L398.50,432.85 L400.00,437.42 L401.50,442.00 L403.00,446.55 L404.50,451.05 L406.00,455.45 L407.50,459.73 L409.00,463.86 L410.50,467.80 L412.00,471.52 L413.50,475.00 L415.00,478.21 L416.50,481.13 L418.00,483.73 L419.50,486.02 L421.00,487.96 L422.50,489.57 L424.00,490.84 L425.50,491.77 L427.00,492.38 L428.50,492.67 L430.00,492.69 L431.50,492.48 L433.00,492.15 L434.50,491.69 L436.00,491.09 L437.50,490.33 L439.00,489.40 L440.50,488.30 L442.00,487.02 L443.50,485.55 L445.00,483.90 L446.50,482.06 L448.00,480.04 L449.50,477.84 L451.00,475.45 L452.50,472.90 L454.00,470.17 L455.50,467.28 L457.00,464.25 L458.50,461.06 L460.00,457.75 L461.50,454.31 L463.00,450.76 L464.50,447.10 L466.00,443.36 L467.50,439.55 L469.00,435.67 L470.50,431.73 L472.00,427.76 L473.50,423.77 L475.00,419.76 L476.50,415.75 L478.00,411.75 L479.50,407.77 L481.00,403.82 L482.50,399.91 L484.00,396.06 L485.50,392.26 L487.00,388.53 L488.50,384.87 L490.00,381.30 L491.50,377.81 L493.00,374.40 L494.50,371.09 L496.00,367.88 L497.50,364.76 L499.00,361.75 L500.50,358.83 L502.00,356.01 L503.50,353.28 L505.00,350.66 L506.50,348.12 L508.00,345.68 L509.50,343.33 L511.00,341.06 L512.50,338.87 L514.00,336.76 L515.50,334.72 L517.00,332.75 L518.50,330.85 L520.00,329.00 L521.50,327.21 L523.00,325.47 L524.50,323.78 L526.00,322.12 L527.50,320.51 L529.00,318.93 L530.50,317.37 L532.00,315.84 L533.50,314.33 L535.00,312.84 L536.50,311.37 L538.00,309.90 L539.50,308.45 L541.00,307.00 L542.50,305.55 L544.00,304.11 L545.50,302.68 L547.00,301.24 L548.50,299.82 L550.00,298.40 L551.50,296.99 L553.00,295.58 L554.50,294.19 L556.00,292.80 L557.50,291.43 L559.00,290.06 L560.50,288.72 L562.00,287.38 L563.50,286.07 L565.00,284.77 L566.50,283.50 L568.00,282.24 L569.50,281.01 L571.00,279.81 L572.50,278.64 L574.00,277.49 L575.50,276.38 L577.00,275.30 L578.50,274.26 L580.00,273.26 L581.50,272.30 L583.00,271.37 L584.50,270.48 L586.00,269.63 L587.50,268.80 L589.00,268.01 L590.50,267.24 L592.00,266.50 L593.50,265.78 L595.00,265.08 L596.50,264.40 L598.00,263.73 L599.50,263.08 L601.00,262.44 L602.50,261.81 L604.00,261.19 L605.50,260.58 L607.00,259.96 L608.50,259.35 L610.00,258.74 L611.50,258.12 L613.00,257.50 L614.50,256.87 L616.00,256.23 L617.50,255.58 L619.00,254.92 L620.50,254.24 L622.00,253.54 L623.50,252.82 L625.00,252.09 L626.50,251.33 L628.00,250.57 L629.50,249.78 L631.00,248.97 L632.50,248.15 L634.00,247.31 L635.50,246.45 L637.00,245.58 L638.50,244.68 L640.00,243.77 L641.50,242.84 L643.00,241.90 L644.50,240.93 L646.00,239.95 L647.50,238.95 L649.00,237.93 L650.50,236.90 L652.00,235.84 L653.50,234.77 L655.00,233.68 L656.50,232.58 L658.00,231.45 L659.50,230.31 L661.00,229.15 L662.50,227.97 L664.00,226.78 L665.50,225.57 L667.00,224.35 L668.50,223.13 L670.00,221.89 L671.50,220.64 L673.00,219.39 L674.50,218.13 L676.00,216.87 L677.50,215.61 L679.00,214.35 L680.50,213.09 L682.00,211.83 L683.50,210.58 L685.00,209.33 L686.50,208.09 L688.00,206.86 L689.50,205.64 L691.00,204.43 L692.50,203.24 L694.00,202.06 L695.50,200.90 L697.00,199.75 L698.50,198.63 L700.00,197.53 L701.50,196.44 L703.00,195.39 L704.50,194.35 L706.00,193.33 L707.50,192.34 L709.00,191.36 L710.50,190.40 L712.00,189.46 L713.50,188.54 L715.00,187.63 L716.50,186.74 L718.00,185.87 L719.50,185.01 L721.00,184.16 L722.50,183.33 L724.00,182.51 L725.50,181.70 L727.00,180.90 L728.50,180.12 L730.00,179.34 L731.50,178.58 L733.00,177.82 L734.50,177.07 L736.00,176.33 L737.50,175.59 L739.00,174.86 L740.50,174.13 L742.00,173.41 L743.50,172.70 L745.00,171.99 L746.50,171.28 L748.00,170.57 L749.50,169.87 L751.00,169.17 L752.50,168.48 L754.00,167.79 L755.50,167.09 L757.00,166.41 L758.50,165.72 L760.00,165.03 L761.50,164.34 L763.00,163.66 L764.50,162.97 L766.00,162.28 L767.50,161.58 L769.00,160.86 L770.00,160.37 L770.25,160.24 L770.50,160.12 L770.75,159.99 L771.00,159.86 L771.25,159.73 L771.50,159.59 L771.75,159.46 L772.00,159.32 L772.25,159.18 L772.50,159.03 L772.75,158.89 L773.00,158.73 L773.25,158.58 L773.50,158.42 L773.75,158.25 L774.00,158.08 L774.25,157.90 L774.50,157.71 L774.75,157.52 L775.00,157.31 L775.25,157.10 L775.50,156.87 L775.75,156.63 L776.00,156.38 L776.25,156.11 L776.50,155.82 L776.75,155.52 L777.00,155.19 L777.25,154.83 L777.50,154.45 L777.75,154.04 L778.00,153.59 L778.25,153.11 L778.50,152.58 L778.75,152.01 L779.00,151.38 L779.25,150.70 L779.50,149.94 L779.75,149.12 L780.00,148.21 L780.25,147.21 L780.50,146.12 L780.75,144.90 L781.00,143.56 L781.25,142.09 L781.50,140.45 L781.75,138.64 L782.00,136.63 L782.25,134.41 L782.50,131.95 L782.75,129.21 L783.00,126.18 L783.25,122.81 L783.50,119.06 L783.75,114.90 L784.00,110.28 L784.25,105.13 L784.50,99.41 L784.75,93.04 L785.00,85.96 L785.25,78.08 L785.50,69.30 L785.75,59.53 L786.00,48.65 L786.16,40.80" stroke="#40b4b4"/>
<path d="M214.00,403.89 L215.50,402.84 L217.00,401.78 L218.50,400.74 L220.00,399.70 L221.50,398.66 L223.00,397.63 L224.50,396.62 L226.00,395.61 L227.50,394.61 L229.00,393.63 L230.50,392.67 L232.00,391.71 L233.50,390.78 L235.00,389.86 L236.50,388.97 L238.00,388.09 L239.50,387.24 L241.00,386.41 L242.50,385.61 L244.00,384.83 L245.50,384.08 L247.00,383.35 L248.50,382.66 L250.00,382.00 L251.50,381.37 L253.00,380.77 L254.50,380.21 L256.00,379.67 L257.50,379.16 L259.00,378.69 L260.50,378.24 L262.00,377.82 L263.50,377.42 L265.00,377.05 L266.50,376.70 L268.00,376.38 L269.50,376.09 L271.00,375.81 L272.50,375.56 L274.00,375.33 L275.50,375.12 L277.00,374.93 L278.50,374.76 L280.00,374.61 L281.50,374.48 L283.00,374.36 L284.50,374.26 L286.00,374.18 L287.50,374.11 L289.00,374.05 L290.50,374.01 L292.00,373.98 L293.50,373.96 L295.00,373.95 L296.50,373.96 L298.00,373.97 L299.50,373.99 L301.00,374.02 L302.50,374.06 L304.00,374.10 L305.50,374.16 L307.00,374.21 L308.50,374.28 L310.00,374.35 L311.50,374.43 L313.00,374.51 L314.50,374.59 L316.00,374.68 L317.50,374.78 L319.00,374.88 L320.50,374.98 L322.00,375.08 L323.50,375.19 L325.00,375.30 L326.50,375.41 L328.00,375.53 L329.50,375.65 L331.00,375.77 L332.50,375.89 L334.00,376.02 L335.50,376.15 L337.00,376.29 L338.50,376.43 L340.00,376.58 L341.50,376.74 L343.00,376.91 L344.50,377.10 L346.00,377.30 L347.50,377.52 L349.00,377.76 L350.50,378.04 L352.00,378.34 L353.50,378.69 L355.00,379.09 L356.50,379.54 L358.00,380.06 L359.50,380.66 L361.00,381.34 L362.50,382.11 L364.00,383.00 L365.50,384.00 L367.00,385.14 L368.50,386.42 L370.00,387.86 L371.50,389.48 L373.00,391.28 L374.50,393.28 L376.00,395.48 L377.50,397.90 L379.00,400.54 L380.50,403.42 L382.00,406.53 L383.50,409.88 L385.00,413.46 L386.50,417.27 L388.00,421.31 L389.50,425.56 L391.00,430.00 L392.50,434.63 L394.00,439.41 L395.50,444.33 L397.00,449.36 L398.50,454.46 L400.00,459.61 L401.50,464.76 L403.00,469.89 L404.50,474.96 L406.00,479.92 L407.50,484.75 L409.00,489.40 L410.50,493.83 L412.00,498.02 L413.50,501.94 L415.00,505.55 L416.50,508.83 L418.00,511.76 L419.50,514.32 L421.00,516.50 L422.50,518.30 L424.00,519.71 L425.50,520.75 L427.00,521.41 L428.50,521.73 L430.00,521.73 L431.50,521.48 L433.00,521.07 L434.50,520.51 L436.00,519.77 L437.50,518.83 L439.00,517.67 L440.50,516.30 L442.00,514.69 L443.50,512.85 L445.00,510.78 L446.50,508.48 L448.00,505.94 L449.50,503.18 L451.00,500.20 L452.50,497.01 L454.00,493.61 L455.50,490.02 L457.00,486.26 L458.50,482.32 L460.00,478.23 L461.50,474.00 L463.00,469.65 L464.50,465.20 L466.00,460.65 L467.50,456.03 L469.00,451.36 L470.50,446.65 L472.00,441.91 L473.50,437.18 L475.00,432.45 L476.50,427.74 L478.00,423.08 L479.50,418.47 L481.00,413.92 L482.50,409.45 L484.00,405.07 L485.50,400.79 L487.00,396.61 L488.50,392.54 L490.00,388.59 L491.50,384.76 L493.00,381.06 L494.50,377.48 L496.00,374.03 L497.50,370.71 L499.00,367.52 L500.50,364.46 L502.00,361.51 L503.50,358.69 L505.00,355.99 L506.50,353.39 L508.00,350.91 L509.50,348.52 L511.00,346.23 L512.50,344.04 L514.00,341.92 L515.50,339.89 L517.00,337.92 L518.50,336.03 L520.00,334.19 L521.50,332.41 L523.00,330.67 L524.50,328.98 L526.00,327.33 L527.50,325.71 L529.00,324.12 L530.50,322.55 L532.00,321.00 L533.50,319.47 L535.00,317.95 L536.50,316.44 L538.00,314.93 L539.50,313.43 L541.00,311.93 L542.50,310.43 L544.00,308.92 L545.50,307.42 L547.00,305.92 L548.50,304.42 L550.00,302.93 L551.50,301.43 L553.00,299.95 L554.50,298.47 L556.00,297.01 L557.50,295.55 L559.00,294.11 L560.50,292.68 L562.00,291.27 L563.50,289.87 L565.00,288.50 L566.50,287.15 L568.00,285.83 L569.50,284.54 L571.00,283.27 L572.50,282.04 L574.00,280.84 L575.50,279.68 L577.00,278.56 L578.50,277.48 L580.00,276.44 L581.50,275.45 L583.00,274.50 L584.50,273.59 L586.00,272.72 L587.50,271.89 L589.00,271.09 L590.50,270.31 L592.00,269.57 L593.50,268.85 L595.00,268.15 L596.50,267.46 L598.00,266.80 L599.50,266.15 L601.00,265.50 L602.50,264.87 L604.00,264.24 L605.50,263.61 L607.00,262.98 L608.50,262.35 L610.00,261.71 L611.50,261.06 L613.00,260.40 L614.50,259.73 L616.00,259.04 L617.50,258.33 L619.00,257.59 L620.50,256.83 L622.00,256.05 L623.50,255.23 L625.00,254.40 L626.50,253.53 L628.00,252.64 L629.50,251.73 L631.00,250.80 L632.50,249.84 L634.00,248.86 L635.50,247.87 L637.00,246.85 L638.50,245.81 L640.00,244.75 L641.50,243.68 L643.00,242.59 L644.50,241.48 L646.00,240.36 L647.50,239.22 L649.00,238.07 L650.50,236.90 L652.00,235.72 L653.50,234.53 L655.00,233.33 L656.50,232.12 L658.00,230.89 L659.50,229.66 L661.00,228.42 L662.50,227.17 L664.00,225.92 L665.50,224.66 L667.00,223.40 L668.50,222.13 L670.00,220.86 L671.50,219.59 L673.00,218.32 L674.50,217.05 L676.00,215.79 L677.50,214.53 L679.00,213.27 L680.50,212.02 L682.00,210.77 L683.50,209.53 L685.00,208.30 L686.50,207.09 L688.00,205.88 L689.50,204.68 L691.00,203.50 L692.50,202.33 L694.00,201.18 L695.50,200.05 L697.00,198.93 L698.50,197.83 L700.00,196.75 L701.50,195.69 L703.00,194.65 L704.50,193.64 L706.00,192.64 L707.50,191.66 L709.00,190.69 L710.50,189.75 L712.00,188.82 L713.50,187.91 L715.00,187.01 L716.50,186.13 L718.00,185.26 L719.50,184.40 L721.00,183.56 L722.50,182.73 L724.00,181.91 L725.50,181.10 L727.00,180.31 L728.50,179.52 L730.00,178.74 L731.50,177.98 L733.00,177.21 L734.50,176.46 L736.00,175.71 L737.50,174.97 L739.00,174.24 L740.50,173.51 L742.00,172.78 L743.50,172.06 L745.00,171.34 L746.50,170.63 L748.00,169.91 L749.50,169.21 L751.00,168.50 L752.50,167.80 L754.00,167.10 L755.50,166.40 L757.00,165.70 L758.50,165.00 L760.00,164.31 L761.50,163.61 L763.00,162.92 L764.50,162.22 L766.00,161.52 L767.50,160.81 L769.00,160.09 L770.00,159.60 L770.25,159.47 L770.50,159.34 L770.75,159.22 L771.00,159.09 L771.25,158.95 L771.50,158.82 L771.75,158.68 L772.00,158.55 L772.25,158.40 L772.50,158.26 L772.75,158.11 L773.00,157.96 L773.25,157.81 L773.50,157.65 L773.75,157.48 L774.00,157.31 L774.25,157.14 L774.50,156.95 L774.75,156.76 L775.00,156.56 L775.25,156.35 L775.50,156.13 L775.75,155.90 L776.00,155.66 L776.25,155.40 L776.50,155.12 L776.75,154.82 L777.00,154.51 L777.25,154.17 L777.50,153.80 L777.75,153.41 L778.00,152.98 L778.25,152.52 L778.50,152.02 L778.75,151.47 L779.00,150.88 L779.25,150.23 L779.50,149.51 L779.75,148.73 L780.00,147.88 L780.25,146.93 L780.50,145.90 L780.75,144.76 L781.00,143.49 L781.25,142.10 L781.50,140.56 L781.75,138.86 L782.00,136.98 L782.25,134.89 L782.50,132.58 L782.75,130.01 L783.00,127.16 L783.25,124.00 L783.50,120.49 L783.75,116.59 L784.00,112.26 L784.25,107.44 L784.50,102.08 L784.75,96.12 L785.00,89.48 L785.25,82.10 L785.50,73.89 L785.75,64.74 L786.00,54.56 L786.25,43.22 L786.30,40.80" stroke="#383880"/>
<path d="M214.00,413.21 L215.50,412.25 L217.00,411.29 L218.50,410.33 L220.00,409.37 L221.50,408.43 L223.00,407.49 L224.50,406.55 L226.00,405.63 L227.50,404.72 L229.00,403.82 L230.50,402.93 L232.00,402.05 L233.50,401.19 L235.00,400.34 L236.50,399.52 L238.00,398.71 L239.50,397.91 L241.00,397.14 L242.50,396.39 L244.00,395.67 L245.50,394.96 L247.00,394.28 L248.50,393.63 L250.00,393.00 L251.50,392.40 L253.00,391.83 L254.50,391.28 L256.00,390.76 L257.50,390.27 L259.00,389.80 L260.50,389.36 L262.00,388.94 L263.50,388.55 L265.00,388.18 L266.50,387.83 L268.00,387.50 L269.50,387.20 L271.00,386.92 L272.50,386.65 L274.00,386.41 L275.50,386.19 L277.00,385.99 L278.50,385.81 L280.00,385.65 L281.50,385.50 L283.00,385.37 L284.50,385.26 L286.00,385.17 L287.50,385.09 L289.00,385.03 L290.50,384.98 L292.00,384.95 L293.50,384.93 L295.00,384.92 L296.50,384.93 L298.00,384.95 L299.50,384.99 L301.00,385.03 L302.50,385.09 L304.00,385.15 L305.50,385.23 L307.00,385.32 L308.50,385.41 L310.00,385.51 L311.50,385.62 L313.00,385.74 L314.50,385.87 L316.00,386.00 L317.50,386.13 L319.00,386.27 L320.50,386.42 L322.00,386.57 L323.50,386.72 L325.00,386.88 L326.50,387.04 L328.00,387.21 L329.50,387.38 L331.00,387.55 L332.50,387.73 L334.00,387.92 L335.50,388.11 L337.00,388.31 L338.50,388.53 L340.00,388.75 L341.50,389.00 L343.00,389.26 L344.50,389.55 L346.00,389.86 L347.50,390.21 L349.00,390.59 L350.50,391.03 L352.00,391.52 L353.50,392.07 L355.00,392.69 L356.50,393.40 L358.00,394.20 L359.50,395.11 L361.00,396.14 L362.50,397.31 L364.00,398.62 L365.50,400.10 L367.00,401.75 L368.50,403.59 L370.00,405.64 L371.50,407.91 L373.00,410.40 L374.50,413.14 L376.00,416.12 L377.50,419.37 L379.00,422.87 L380.50,426.65 L382.00,430.69 L383.50,434.99 L385.00,439.55 L386.50,444.36 L388.00,449.40 L389.50,454.67 L391.00,460.13 L392.50,465.77 L394.00,471.55 L395.50,477.46 L397.00,483.45 L398.50,489.49 L400.00,495.54 L401.50,501.57 L403.00,507.52 L404.50,513.37 L406.00,519.08 L407.50,524.59 L409.00,529.87 L410.50,534.89 L412.00,539.61 L413.50,543.99 L415.00,548.01 L416.50,551.64 L418.00,554.87 L419.50,557.67 L421.00,560.05 L422.50,561.98 L424.00,563.47 L425.50,564.54 L427.00,565.19 L428.50,565.45 L430.00,565.35 L431.50,564.97 L433.00,564.40 L434.50,563.63 L436.00,562.61 L437.50,561.33 L439.00,559.76 L440.50,557.89 L442.00,555.71 L443.50,553.23 L445.00,550.43 L446.50,547.33 L448.00,543.93 L449.50,540.23 L451.00,536.24 L452.50,531.97 L454.00,527.45 L455.50,522.68 L457.00,517.68 L458.50,512.48 L460.00,507.09 L461.50,501.54 L463.00,495.85 L464.50,490.03 L466.00,484.12 L467.50,478.15 L469.00,472.12 L470.50,466.07 L472.00,460.02 L473.50,453.99 L475.00,448.01 L476.50,442.09 L478.00,436.25 L479.50,430.50 L481.00,424.88 L482.50,419.38 L484.00,414.02 L485.50,408.81 L487.00,403.77 L488.50,398.89 L490.00,394.18 L491.50,389.65 L493.00,385.31 L494.50,381.14 L496.00,377.15 L497.50,373.34 L499.00,369.70 L500.50,366.23 L502.00,362.93 L503.50,359.78 L505.00,356.79 L506.50,353.94 L508.00,351.23 L509.50,348.65 L511.00,346.18 L512.50,343.83 L514.00,341.59 L515.50,339.44 L517.00,337.37 L518.50,335.39 L520.00,333.48 L521.50,331.63 L523.00,329.83 L524.50,328.09 L526.00,326.40 L527.50,324.74 L529.00,323.11 L530.50,321.51 L532.00,319.93 L533.50,318.37 L535.00,316.83 L536.50,315.30 L538.00,313.77 L539.50,312.25 L541.00,310.73 L542.50,309.21 L544.00,307.70 L545.50,306.18 L547.00,304.67 L548.50,303.15 L550.00,301.64 L551.50,300.14 L553.00,298.63 L554.50,297.14 L556.00,295.65 L557.50,294.16 L559.00,292.69 L560.50,291.22 L562.00,289.77 L563.50,288.33 L565.00,286.91 L566.50,285.51 L568.00,284.12 L569.50,282.75 L571.00,281.40 L572.50,280.08 L574.00,278.79 L575.50,277.52 L577.00,276.28 L578.50,275.07 L580.00,273.89 L581.50,272.75 L583.00,271.64 L584.50,270.56 L586.00,269.51 L587.50,268.49 L589.00,267.49 L590.50,266.52 L592.00,265.57 L593.50,264.64 L595.00,263.73 L596.50,262.83 L598.00,261.96 L599.50,261.09 L601.00,260.24 L602.50,259.40 L604.00,258.57 L605.50,257.75 L607.00,256.93 L608.50,256.11 L610.00,255.30 L611.50,254.49 L613.00,253.68 L614.50,252.86 L616.00,252.04 L617.50,251.21 L619.00,250.38 L620.50,249.53 L622.00,248.68 L623.50,247.81 L625.00,246.93 L626.50,246.04 L628.00,245.14 L629.50,244.22 L631.00,243.30 L632.50,242.36 L634.00,241.40 L635.50,240.44 L637.00,239.46 L638.50,238.46 L640.00,237.45 L641.50,236.43 L643.00,235.39 L644.50,234.34 L646.00,233.27 L647.50,232.18 L649.00,231.08 L650.50,229.97 L652.00,228.83 L653.50,227.68 L655.00,226.52 L656.50,225.33 L658.00,224.13 L659.50,222.91 L661.00,221.67 L662.50,220.42 L664.00,219.15 L665.50,217.86 L667.00,216.57 L668.50,215.26 L670.00,213.95 L671.50,212.63 L673.00,211.31 L674.50,209.99 L676.00,208.66 L677.50,207.34 L679.00,206.02 L680.50,204.71 L682.00,203.40 L683.50,202.11 L685.00,200.82 L686.50,199.55 L688.00,198.29 L689.50,197.05 L691.00,195.83 L692.50,194.63 L694.00,193.45 L695.50,192.30 L697.00,191.17 L698.50,190.07 L700.00,189.00 L701.50,187.96 L703.00,186.95 L704.50,185.97 L706.00,185.02 L707.50,184.10 L709.00,183.20 L710.50,182.32 L712.00,181.46 L713.50,180.62 L715.00,179.80 L716.50,179.00 L718.00,178.22 L719.50,177.44 L721.00,176.68 L722.50,175.93 L724.00,175.19 L725.50,174.46 L727.00,173.74 L728.50,173.02 L730.00,172.30 L731.50,171.59 L733.00,170.87 L734.50,170.16 L736.00,169.44 L737.50,168.72 L739.00,167.99 L740.50,167.25 L742.00,166.51 L743.50,165.76 L745.00,165.01 L746.50,164.24 L748.00,163.48 L749.50,162.70 L751.00,161.92 L752.50,161.14 L754.00,160.35 L755.50,159.56 L757.00,158.77 L758.50,157.97 L760.00,157.17 L761.50,156.37 L763.00,155.57 L764.50,154.76 L766.00,153.95 L767.50,153.14 L769.00,152.31 L770.00,151.75 L770.25,151.60 L770.50,151.46 L770.75,151.32 L771.00,151.17 L771.25,151.02 L771.50,150.87 L771.75,150.72 L772.00,150.57 L772.25,150.41 L772.50,150.26 L772.75,150.10 L773.00,149.93 L773.25,149.77 L773.50,149.60 L773.75,149.42 L774.00,149.24 L774.25,149.06 L774.50,148.87 L774.75,148.67 L775.00,148.46 L775.25,148.25 L775.50,148.03 L775.75,147.80 L776.00,147.55 L776.25,147.30 L776.50,147.03 L776.75,146.74 L777.00,146.44 L777.25,146.12 L777.50,145.77 L777.75,145.40 L778.00,145.01 L778.25,144.58 L778.50,144.13 L778.75,143.63 L779.00,143.09 L779.25,142.51 L779.50,141.87 L779.75,141.18 L780.00,140.42 L780.25,139.59 L780.50,138.69 L780.75,137.69 L781.00,136.59 L781.25,135.38 L781.50,134.05 L781.75,132.58 L782.00,130.96 L782.25,129.17 L782.50,127.19 L782.75,124.99 L783.00,122.56 L783.25,119.86 L783.50,116.87 L783.75,113.56 L784.00,109.87 L784.25,105.78 L784.50,101.24 L784.75,96.18 L785.00,90.57 L785.25,84.32 L785.50,77.37 L785.75,69.64 L786.00,61.04 L786.25,51.46 L786.50,40.80" stroke="#98b034"/>
<path d="M214.00,422.27 L215.50,421.34 L217.00,420.42 L218.50,419.51 L220.00,418.59 L221.50,417.69 L223.00,416.79 L224.50,415.89 L226.00,415.01 L227.50,414.14 L229.00,413.28 L230.50,412.43 L232.00,411.59 L233.50,410.77 L235.00,409.97 L236.50,409.18 L238.00,408.40 L239.50,407.65 L241.00,406.92 L242.50,406.21 L244.00,405.52 L245.50,404.85 L247.00,404.21 L248.50,403.59 L250.00,403.00 L251.50,402.44 L253.00,401.90 L254.50,401.39 L256.00,400.91 L257.50,400.45 L259.00,400.01 L260.50,399.60 L262.00,399.22 L263.50,398.86 L265.00,398.52 L266.50,398.20 L268.00,397.91 L269.50,397.64 L271.00,397.39 L272.50,397.16 L274.00,396.95 L275.50,396.76 L277.00,396.59 L278.50,396.43 L280.00,396.30 L281.50,396.18 L283.00,396.08 L284.50,396.00 L286.00,395.93 L287.50,395.88 L289.00,395.84 L290.50,395.82 L292.00,395.82 L293.50,395.82 L295.00,395.84 L296.50,395.88 L298.00,395.92 L299.50,395.98 L301.00,396.05 L302.50,396.13 L304.00,396.22 L305.50,396.32 L307.00,396.43 L308.50,396.54 L310.00,396.67 L311.50,396.80 L313.00,396.94 L314.50,397.09 L316.00,397.25 L317.50,397.41 L319.00,397.58 L320.50,397.75 L322.00,397.93 L323.50,398.12 L325.00,398.31 L326.50,398.51 L328.00,398.71 L329.50,398.93 L331.00,399.15 L332.50,399.38 L334.00,399.62 L335.50,399.88 L337.00,400.15 L338.50,400.44 L340.00,400.76 L341.50,401.09 L343.00,401.46 L344.50,401.87 L346.00,402.31 L347.50,402.80 L349.00,403.35 L350.50,403.96 L352.00,404.64 L353.50,405.40 L355.00,406.26 L356.50,407.22 L358.00,408.29 L359.50,409.50 L361.00,410.84 L362.50,412.34 L364.00,414.02 L365.50,415.87 L367.00,417.92 L368.50,420.18 L370.00,422.66 L371.50,425.37 L373.00,428.32 L374.50,431.53 L376.00,435.00 L377.50,438.73 L379.00,442.72 L380.50,446.98 L382.00,451.50 L383.50,456.28 L385.00,461.30 L386.50,466.56 L388.00,472.04 L389.50,477.71 L391.00,483.57 L392.50,489.57 L394.00,495.70 L395.50,501.93 L397.00,508.21 L398.50,514.51 L400.00,520.80 L401.50,527.03 L403.00,533.18 L404.50,539.19 L406.00,545.03 L407.50,550.66 L409.00,556.04 L410.50,561.14 L412.00,565.93 L413.50,570.37 L415.00,574.45 L416.50,578.13 L418.00,581.40 L419.50,584.25 L421.00,586.66 L422.50,588.64 L424.00,590.18 L425.50,591.30 L427.00,592.01 L428.50,592.32 L430.00,592.29 L431.50,591.97 L433.00,591.47 L434.50,590.77 L436.00,589.83 L437.50,588.62 L439.00,587.13 L440.50,585.35 L442.00,583.26 L443.50,580.87 L445.00,578.17 L446.50,575.16 L448.00,571.85 L449.50,568.24 L451.00,564.34 L452.50,560.16 L454.00,555.72 L455.50,551.02 L457.00,546.09 L458.50,540.93 L460.00,535.58 L461.50,530.05 L463.00,524.36 L464.50,518.54 L466.00,512.60 L467.50,506.56 L469.00,500.46 L470.50,494.32 L472.00,488.15 L473.50,481.98 L475.00,475.82 L476.50,469.71 L478.00,463.65 L479.50,457.67 L481.00,451.79 L482.50,446.01 L484.00,440.35 L485.50,434.82 L487.00,429.44 L488.50,424.21 L490.00,419.14 L491.50,414.24 L493.00,409.51 L494.50,404.95 L496.00,400.56 L497.50,396.34 L499.00,392.30 L500.50,388.43 L502.00,384.72 L503.50,381.18 L505.00,377.79 L506.50,374.55 L508.00,371.46 L509.50,368.50 L511.00,365.67 L512.50,362.96 L514.00,360.37 L515.50,357.88 L517.00,355.49 L518.50,353.18 L520.00,350.96 L521.50,348.81 L523.00,346.73 L524.50,344.70 L526.00,342.73 L527.50,340.80 L529.00,338.91 L530.50,337.06 L532.00,335.23 L533.50,333.43 L535.00,331.65 L536.50,329.88 L538.00,328.12 L539.50,326.36 L541.00,324.61 L542.50,322.86 L544.00,321.12 L545.50,319.37 L547.00,317.63 L548.50,315.90 L550.00,314.17 L551.50,312.45 L553.00,310.74 L554.50,309.04 L556.00,307.35 L557.50,305.68 L559.00,304.02 L560.50,302.39 L562.00,300.77 L563.50,299.18 L565.00,297.62 L566.50,296.08 L568.00,294.58 L569.50,293.11 L571.00,291.68 L572.50,290.29 L574.00,288.94 L575.50,287.63 L577.00,286.38 L578.50,285.17 L580.00,284.02 L581.50,282.92 L583.00,281.88 L584.50,280.88 L586.00,279.94 L587.50,279.03 L589.00,278.17 L590.50,277.34 L592.00,276.54 L593.50,275.77 L595.00,275.03 L596.50,274.32 L598.00,273.62 L599.50,272.94 L601.00,272.27 L602.50,271.61 L604.00,270.95 L605.50,270.30 L607.00,269.65 L608.50,268.99 L610.00,268.33 L611.50,267.66 L613.00,266.97 L614.50,266.26 L616.00,265.54 L617.50,264.79 L619.00,264.01 L620.50,263.20 L622.00,262.36 L623.50,261.49 L625.00,260.58 L626.50,259.65 L628.00,258.70 L629.50,257.71 L631.00,256.70 L632.50,255.67 L634.00,254.61 L635.50,253.53 L637.00,252.43 L638.50,251.32 L640.00,250.18 L641.50,249.03 L643.00,247.87 L644.50,246.69 L646.00,245.49 L647.50,244.29 L649.00,243.07 L650.50,241.85 L652.00,240.62 L653.50,239.38 L655.00,238.14 L656.50,236.89 L658.00,235.64 L659.50,234.39 L661.00,233.14 L662.50,231.89 L664.00,230.64 L665.50,229.39 L667.00,228.14 L668.50,226.90 L670.00,225.66 L671.50,224.42 L673.00,223.19 L674.50,221.96 L676.00,220.73 L677.50,219.51 L679.00,218.30 L680.50,217.09 L682.00,215.89 L683.50,214.69 L685.00,213.51 L686.50,212.33 L688.00,211.16 L689.50,210.00 L691.00,208.85 L692.50,207.71 L694.00,206.58 L695.50,205.46 L697.00,204.35 L698.50,203.26 L700.00,202.18 L701.50,201.11 L703.00,200.05 L704.50,199.00 L706.00,197.97 L707.50,196.96 L709.00,195.95 L710.50,194.96 L712.00,193.98 L713.50,193.02 L715.00,192.06 L716.50,191.12 L718.00,190.20 L719.50,189.28 L721.00,188.38 L722.50,187.50 L724.00,186.62 L725.50,185.76 L727.00,184.92 L728.50,184.08 L730.00,183.26 L731.50,182.45 L733.00,181.66 L734.50,180.88 L736.00,180.11 L737.50,179.35 L739.00,178.61 L740.50,177.88 L742.00,177.17 L743.50,176.46 L745.00,175.77 L746.50,175.09 L748.00,174.42 L749.50,173.76 L751.00,173.10 L752.50,172.46 L754.00,171.82 L755.50,171.18 L757.00,170.55 L758.50,169.93 L760.00,169.31 L761.50,168.69 L763.00,168.07 L764.50,167.45 L766.00,166.82 L767.50,166.19 L769.00,165.55 L770.00,165.11 L770.25,164.99 L770.50,164.88 L770.75,164.76 L771.00,164.65 L771.25,164.53 L771.50,164.41 L771.75,164.29 L772.00,164.16 L772.25,164.03 L772.50,163.90 L772.75,163.77 L773.00,163.63 L773.25,163.49 L773.50,163.35 L773.75,163.20 L774.00,163.04 L774.25,162.88 L774.50,162.71 L774.75,162.54 L775.00,162.35 L775.25,162.16 L775.50,161.95 L775.75,161.74 L776.00,161.51 L776.25,161.26 L776.50,161.00 L776.75,160.73 L777.00,160.43 L777.25,160.11 L777.50,159.76 L777.75,159.39 L778.00,158.99 L778.25,158.55 L778.50,158.07 L778.75,157.55 L779.00,156.98 L779.25,156.36 L779.50,155.68 L779.75,154.93 L780.00,154.11 L780.25,153.20 L780.50,152.21 L780.75,151.11 L781.00,149.89 L781.25,148.55 L781.50,147.07 L781.75,145.42 L782.00,143.60 L782.25,141.59 L782.50,139.35 L782.75,136.87 L783.00,134.12 L783.25,131.06 L783.50,127.66 L783.75,123.88 L784.00,119.68 L784.25,115.01 L784.50,109.82 L784.75,104.04 L785.00,97.61 L785.25,90.46 L785.50,82.49 L785.75,73.62 L786.00,63.75 L786.25,52.75 L786.50,40.50" stroke="#7c7c7c"/>
<path d="M214.00,439.35 L215.50,438.50 L217.00,437.64 L218.50,436.79 L220.00,435.94 L221.50,435.09 L223.00,434.25 L224.50,433.41 L226.00,432.58 L227.50,431.75 L229.00,430.93 L230.50,430.12 L232.00,429.32 L233.50,428.52 L235.00,427.74 L236.50,426.97 L238.00,426.21 L239.50,425.46 L241.00,424.72 L242.50,424.00 L244.00,423.29 L245.50,422.59 L247.00,421.91 L248.50,421.25 L250.00,420.60 L251.50,419.97 L253.00,419.36 L254.50,418.76 L256.00,418.19 L257.50,417.63 L259.00,417.09 L260.50,416.57 L262.00,416.07 L263.50,415.59 L265.00,415.12 L266.50,414.68 L268.00,414.26 L269.50,413.85 L271.00,413.47 L272.50,413.11 L274.00,412.77 L275.50,412.45 L277.00,412.15 L278.50,411.87 L280.00,411.61 L281.50,411.38 L283.00,411.17 L284.50,410.98 L286.00,410.81 L287.50,410.67 L289.00,410.55 L290.50,410.45 L292.00,410.38 L293.50,410.33 L295.00,410.31 L296.50,410.31 L298.00,410.33 L299.50,410.38 L301.00,410.45 L302.50,410.55 L304.00,410.67 L305.50,410.81 L307.00,410.98 L308.50,411.16 L310.00,411.36 L311.50,411.58 L313.00,411.81 L314.50,412.06 L316.00,412.33 L317.50,412.60 L319.00,412.89 L320.50,413.19 L322.00,413.49 L323.50,413.81 L325.00,414.13 L326.50,414.46 L328.00,414.80 L329.50,415.14 L331.00,415.48 L332.50,415.83 L334.00,416.18 L335.50,416.54 L337.00,416.90 L338.50,417.26 L340.00,417.63 L341.50,418.01 L343.00,418.39 L344.50,418.79 L346.00,419.20 L347.50,419.63 L349.00,420.08 L350.50,420.56 L352.00,421.07 L353.50,421.62 L355.00,422.23 L356.50,422.90 L358.00,423.65 L359.50,424.49 L361.00,425.42 L362.50,426.48 L364.00,427.67 L365.50,429.01 L367.00,430.53 L368.50,432.22 L370.00,434.13 L371.50,436.26 L373.00,438.63 L374.50,441.27 L376.00,444.18 L377.50,447.38 L379.00,450.89 L380.50,454.71 L382.00,458.86 L383.50,463.33 L385.00,468.13 L386.50,473.24 L388.00,478.67 L389.50,484.40 L391.00,490.41 L392.50,496.68 L394.00,503.18 L395.50,509.88 L397.00,516.73 L398.50,523.71 L400.00,530.75 L401.50,537.83 L403.00,544.87 L404.50,551.84 L406.00,558.67 L407.50,565.32 L409.00,571.73 L410.50,577.85 L412.00,583.63 L413.50,589.03 L415.00,594.01 L416.50,598.53 L418.00,602.56 L419.50,606.07 L421.00,609.06 L422.50,611.50 L424.00,613.41 L425.50,614.78 L427.00,615.63 L428.50,615.99 L430.00,615.91 L431.50,615.46 L433.00,614.81 L434.50,613.95 L436.00,612.85 L437.50,611.48 L439.00,609.83 L440.50,607.88 L442.00,605.62 L443.50,603.06 L445.00,600.18 L446.50,596.99 L448.00,593.50 L449.50,589.70 L451.00,585.60 L452.50,581.23 L454.00,576.58 L455.50,571.67 L457.00,566.52 L458.50,561.15 L460.00,555.56 L461.50,549.79 L463.00,543.86 L464.50,537.77 L466.00,531.57 L467.50,525.26 L469.00,518.88 L470.50,512.44 L472.00,505.97 L473.50,499.49 L475.00,493.02 L476.50,486.57 L478.00,480.18 L479.50,473.86 L481.00,467.62 L482.50,461.48 L484.00,455.45 L485.50,449.56 L487.00,443.80 L488.50,438.19 L490.00,432.75 L491.50,427.46 L493.00,422.35 L494.50,417.40 L496.00,412.64 L497.50,408.04 L499.00,403.63 L500.50,399.39 L502.00,395.32 L503.50,391.41 L505.00,387.67 L506.50,384.09 L508.00,380.66 L509.50,377.37 L511.00,374.23 L512.50,371.21 L514.00,368.31 L515.50,365.53 L517.00,362.86 L518.50,360.29 L520.00,357.81 L521.50,355.41 L523.00,353.08 L524.50,350.83 L526.00,348.64 L527.50,346.50 L529.00,344.42 L530.50,342.37 L532.00,340.36 L533.50,338.39 L535.00,336.44 L536.50,334.51 L538.00,332.61 L539.50,330.71 L541.00,328.83 L542.50,326.96 L544.00,325.09 L545.50,323.24 L547.00,321.40 L548.50,319.56 L550.00,317.74 L551.50,315.93 L553.00,314.14 L554.50,312.36 L556.00,310.59 L557.50,308.85 L559.00,307.13 L560.50,305.43 L562.00,303.75 L563.50,302.11 L565.00,300.49 L566.50,298.91 L568.00,297.36 L569.50,295.84 L571.00,294.37 L572.50,292.94 L574.00,291.55 L575.50,290.21 L577.00,288.92 L578.50,287.69 L580.00,286.50 L581.50,285.38 L583.00,284.31 L584.50,283.29 L586.00,282.33 L587.50,281.40 L589.00,280.52 L590.50,279.67 L592.00,278.86 L593.50,278.07 L595.00,277.32 L596.50,276.59 L598.00,275.88 L599.50,275.18 L601.00,274.50 L602.50,273.83 L604.00,273.17 L605.50,272.51 L607.00,271.85 L608.50,271.18 L610.00,270.51 L611.50,269.83 L613.00,269.13 L614.50,268.42 L616.00,267.68 L617.50,266.93 L619.00,266.14 L620.50,265.32 L622.00,264.47 L623.50,263.59 L625.00,262.68 L626.50,261.74 L628.00,260.78 L629.50,259.78 L631.00,258.76 L632.50,257.72 L634.00,256.66 L635.50,255.57 L637.00,254.46 L638.50,253.34 L640.00,252.20 L641.50,251.04 L643.00,249.87 L644.50,248.69 L646.00,247.49 L647.50,246.29 L649.00,245.07 L650.50,243.85 L652.00,242.62 L653.50,241.38 L655.00,240.14 L656.50,238.90 L658.00,237.66 L659.50,236.41 L661.00,235.17 L662.50,233.93 L664.00,232.70 L665.50,231.46 L667.00,230.23 L668.50,229.00 L670.00,227.77 L671.50,226.55 L673.00,225.34 L674.50,224.12 L676.00,222.92 L677.50,221.71 L679.00,220.52 L680.50,219.33 L682.00,218.14 L683.50,216.96 L685.00,215.79 L686.50,214.62 L688.00,213.46 L689.50,212.31 L691.00,211.17 L692.50,210.04 L694.00,208.91 L695.50,207.79 L697.00,206.69 L698.50,205.59 L700.00,204.50 L701.50,203.42 L703.00,202.35 L704.50,201.30 L706.00,200.25 L707.50,199.21 L709.00,198.19 L710.50,197.18 L712.00,196.18 L713.50,195.19 L715.00,194.21 L716.50,193.25 L718.00,192.30 L719.50,191.36 L721.00,190.44 L722.50,189.53 L724.00,188.63 L725.50,187.75 L727.00,186.88 L728.50,186.03 L730.00,185.19 L731.50,184.36 L733.00,183.56 L734.50,182.77 L736.00,181.99 L737.50,181.23 L739.00,180.49 L740.50,179.76 L742.00,179.05 L743.50,178.35 L745.00,177.67 L746.50,177.01 L748.00,176.35 L749.50,175.71 L751.00,175.08 L752.50,174.46 L754.00,173.84 L755.50,173.24 L757.00,172.64 L758.50,172.04 L760.00,171.45 L761.50,170.86 L763.00,170.27 L764.50,169.69 L766.00,169.10 L767.50,168.50 L769.00,167.89 L770.00,167.47 L770.25,167.37 L770.50,167.26 L770.75,167.15 L771.00,167.04 L771.25,166.93 L771.50,166.81 L771.75,166.70 L772.00,166.58 L772.25,166.46 L772.50,166.34 L772.75,166.21 L773.00,166.08 L773.25,165.95 L773.50,165.81 L773.75,165.67 L774.00,165.52 L774.25,165.37 L774.50,165.21 L774.75,165.05 L775.00,164.88 L775.25,164.69 L775.50,164.50 L775.75,164.30 L776.00,164.09 L776.25,163.86 L776.50,163.62 L776.75,163.36 L777.00,163.08 L777.25,162.78 L777.50,162.46 L777.75,162.11 L778.00,161.73 L778.25,161.33 L778.50,160.88 L778.75,160.40 L779.00,159.87 L779.25,159.29 L779.50,158.66 L779.75,157.96 L780.00,157.20 L780.25,156.36 L780.50,155.43 L780.75,154.41 L781.00,153.28 L781.25,152.04 L781.50,150.66 L781.75,149.14 L782.00,147.45 L782.25,145.58 L782.50,143.51 L782.75,141.20 L783.00,138.65 L783.25,135.81 L783.50,132.66 L783.75,129.16 L784.00,125.27 L784.25,120.94 L784.50,116.13 L784.75,110.77 L785.00,104.82 L785.25,98.18 L785.50,90.80 L785.75,82.58 L786.00,73.43 L786.25,63.24 L786.50,51.89 L786.60,47.00" stroke="#906062"/>
</g>
<path d="M139.4,39.2 V678.5 H1000.8" fill="none" stroke="#000" stroke-width="4.5" stroke-linejoin="miter" stroke-linecap="square"/>
<path d="M124,39.00 H139.4 M131,76.60 H139.4 M124,114.20 H139.4 M131,151.80 H139.4 M124,189.40 H139.4 M131,227.00 H139.4 M124,264.60 H139.4 M131,302.20 H139.4 M124,339.80 H139.4 M131,377.40 H139.4 M124,415.00 H139.4 M131,452.60 H139.4 M124,490.20 H139.4 M131,527.80 H139.4 M124,565.40 H139.4 M131,603.00 H139.4 M124,640.60 H139.4 M131,678.20 H139.4 M180.40,678.5 V692.5 M262.40,678.5 V686.5 M344.40,678.5 V692.5 M426.40,678.5 V686.5 M508.40,678.5 V692.5 M590.40,678.5 V686.5 M672.40,678.5 V692.5 M754.40,678.5 V686.5 M836.40,678.5 V692.5 M918.40,678.5 V686.5 M1000.40,678.5 V692.5" stroke="#000" stroke-width="4.5" fill="none"/>
<text x="117.6" y="46.6" text-anchor="end" font-size="30" font-family="Liberation Serif" font-weight="bold">0</text>
<text x="117.6" y="121.8" text-anchor="end" font-size="30" font-family="Liberation Serif" font-weight="bold" textLength="48.6" lengthAdjust="spacingAndGlyphs">−10</text>
<text x="117.6" y="197.0" text-anchor="end" font-size="30" font-family="Liberation Serif" font-weight="bold" textLength="48.6" lengthAdjust="spacingAndGlyphs">−20</text>
<text x="117.6" y="272.2" text-anchor="end" font-size="30" font-family="Liberation Serif" font-weight="bold" textLength="48.6" lengthAdjust="spacingAndGlyphs">−30</text>
<text x="117.6" y="347.4" text-anchor="end" font-size="30" font-family="Liberation Serif" font-weight="bold" textLength="48.6" lengthAdjust="spacingAndGlyphs">−40</text>
<text x="117.6" y="422.6" text-anchor="end" font-size="30" font-family="Liberation Serif" font-weight="bold" textLength="48.6" lengthAdjust="spacingAndGlyphs">−50</text>
<text x="117.6" y="497.8" text-anchor="end" font-size="30" font-family="Liberation Serif" font-weight="bold" textLength="48.6" lengthAdjust="spacingAndGlyphs">−60</text>
<text x="117.6" y="573.0" text-anchor="end" font-size="30" font-family="Liberation Serif" font-weight="bold" textLength="48.6" lengthAdjust="spacingAndGlyphs">−70</text>
<text x="117.6" y="648.2" text-anchor="end" font-size="30" font-family="Liberation Serif" font-weight="bold" textLength="48.6" lengthAdjust="spacingAndGlyphs">−80</text>
<text x="180.4" y="722.9" text-anchor="middle" font-size="29.6" font-family="Liberation Serif" font-weight="bold">-0.4</text>
<text x="344.4" y="722.9" text-anchor="middle" font-size="29.6" font-family="Liberation Serif" font-weight="bold">-0.2</text>
<text x="508.4" y="722.9" text-anchor="middle" font-size="29.6" font-family="Liberation Serif" font-weight="bold">0.0</text>
<text x="672.4" y="722.9" text-anchor="middle" font-size="29.6" font-family="Liberation Serif" font-weight="bold">0.2</text>
<text x="836.4" y="722.9" text-anchor="middle" font-size="29.6" font-family="Liberation Serif" font-weight="bold">0.4</text>
<text x="1000.4" y="722.9" text-anchor="middle" font-size="29.6" font-family="Liberation Serif" font-weight="bold">0.6</text>
<text x="570" y="778.1" text-anchor="middle" font-size="31" font-family="Liberation Serif" font-weight="bold" textLength="178" lengthAdjust="spacingAndGlyphs">Potential (V)</text>
<text transform="translate(47.3,379.6) rotate(-90)" x="0" y="0" text-anchor="middle" font-size="31" font-family="Liberation Serif" font-weight="bold" textLength="192" lengthAdjust="spacingAndGlyphs">Current (µA)</text>
<path d="M811.4,35.20 H867" stroke="#000000" stroke-width="4.3" stroke-linecap="round"/>
<text x="872.9" y="42.60" font-size="23" font-family="Liberation Serif" font-weight="bold">10</text>
<path d="M811.4,66.23 H867" stroke="#c41e22" stroke-width="4.3" stroke-linecap="round"/>
<text x="872.9" y="73.63" font-size="23" font-family="Liberation Serif" font-weight="bold">15</text>
<path d="M811.4,97.26 H867" stroke="#1616b0" stroke-width="4.3" stroke-linecap="round"/>
<text x="872.9" y="104.66" font-size="23" font-family="Liberation Serif" font-weight="bold">20</text>
<path d="M811.4,128.29 H867" stroke="#d424d4" stroke-width="4.3" stroke-linecap="round"/>
<text x="872.9" y="135.69" font-size="23" font-family="Liberation Serif" font-weight="bold">25</text>
<path d="M811.4,159.32 H867" stroke="#127012" stroke-width="4.3" stroke-linecap="round"/>
<text x="872.9" y="166.72" font-size="23" font-family="Liberation Serif" font-weight="bold">30</text>
<path d="M811.4,190.35 H867" stroke="#0a0a70" stroke-width="4.3" stroke-linecap="round"/>
<text x="872.9" y="197.75" font-size="23" font-family="Liberation Serif" font-weight="bold">35</text>
<path d="M811.4,221.38 H867" stroke="#7a18f0" stroke-width="4.3" stroke-linecap="round"/>
<text x="872.9" y="228.78" font-size="23" font-family="Liberation Serif" font-weight="bold">40</text>
<path d="M811.4,252.41 H867" stroke="#7a107a" stroke-width="4.3" stroke-linecap="round"/>
<text x="872.9" y="259.81" font-size="23" font-family="Liberation Serif" font-weight="bold">45</text>
<path d="M811.4,283.44 H867" stroke="#7a0a0a" stroke-width="4.3" stroke-linecap="round"/>
<text x="872.9" y="290.84" font-size="23" font-family="Liberation Serif" font-weight="bold">50</text>
<path d="M811.4,314.47 H867" stroke="#808018" stroke-width="4.3" stroke-linecap="round"/>
<text x="872.9" y="321.87" font-size="23" font-family="Liberation Serif" font-weight="bold">60</text>
<path d="M928.8,35.20 H984.2" stroke="#3c5c9c" stroke-width="4.3" stroke-linecap="round"/>
<text x="989.5" y="42.60" font-size="23" font-family="Liberation Serif" font-weight="bold">70</text>
<path d="M928.8,66.23 H984.2" stroke="#2e8c8c" stroke-width="4.3" stroke-linecap="round"/>
<text x="989.5" y="73.63" font-size="23" font-family="Liberation Serif" font-weight="bold">80</text>
<path d="M928.8,97.26 H984.2" stroke="#946232" stroke-width="4.3" stroke-linecap="round"/>
<text x="989.5" y="104.66" font-size="23" font-family="Liberation Serif" font-weight="bold">100</text>
<path d="M928.8,128.29 H984.2" stroke="#30b04e" stroke-width="4.3" stroke-linecap="round"/>
<text x="989.5" y="135.69" font-size="23" font-family="Liberation Serif" font-weight="bold">120</text>
<path d="M928.8,159.32 H984.2" stroke="#a82e6a" stroke-width="4.3" stroke-linecap="round"/>
<text x="989.5" y="166.72" font-size="23" font-family="Liberation Serif" font-weight="bold">140</text>
<path d="M928.8,190.35 H984.2" stroke="#40b4b4" stroke-width="4.3" stroke-linecap="round"/>
<text x="989.5" y="197.75" font-size="23" font-family="Liberation Serif" font-weight="bold">160</text>
<path d="M928.8,221.38 H984.2" stroke="#383880" stroke-width="4.3" stroke-linecap="round"/>
<text x="989.5" y="228.78" font-size="23" font-family="Liberation Serif" font-weight="bold">180</text>
<path d="M928.8,252.41 H984.2" stroke="#98b034" stroke-width="4.3" stroke-linecap="round"/>
<text x="989.5" y="259.81" font-size="23" font-family="Liberation Serif" font-weight="bold">200</text>
<path d="M928.8,283.44 H984.2" stroke="#7c7c7c" stroke-width="4.3" stroke-linecap="round"/>
<text x="989.5" y="290.84" font-size="23" font-family="Liberation Serif" font-weight="bold">220</text>
<path d="M928.8,314.47 H984.2" stroke="#906062" stroke-width="4.3" stroke-linecap="round"/>
<text x="989.5" y="321.87" font-size="23" font-family="Liberation Serif" font-weight="bold">240</text>
<path d="M644.7,357 V621.7 H1000" fill="none" stroke="#111" stroke-width="2"/>
<path d="M639,621.50 H644.7 M641.5,605.05 H644.7 M639,588.60 H644.7 M641.5,572.15 H644.7 M639,555.70 H644.7 M641.5,539.25 H644.7 M639,522.80 H644.7 M641.5,506.35 H644.7 M639,489.90 H644.7 M641.5,473.45 H644.7 M639,457.00 H644.7 M641.5,440.55 H644.7 M639,424.10 H644.7 M641.5,407.65 H644.7 M639,391.20 H644.7 M641.5,374.75 H644.7 M639,358.30 H644.7 M644.60,621.7 V627 M663.58,621.7 V625 M682.56,621.7 V627 M701.54,621.7 V625 M720.52,621.7 V627 M739.50,621.7 V625 M758.48,621.7 V627 M777.46,621.7 V625 M796.44,621.7 V627 M815.42,621.7 V625 M834.39,621.7 V627 M853.37,621.7 V625 M872.35,621.7 V627 M891.33,621.7 V625 M910.31,621.7 V627 M929.29,621.7 V625 M948.27,621.7 V627 M967.25,621.7 V625 M986.23,621.7 V627" stroke="#111" stroke-width="2" fill="none"/>
<text x="635.6" y="624.9" text-anchor="end" font-size="12" font-family="Liberation Serif" font-weight="bold" fill="#151515">0</text>
<text x="635.6" y="592.0" text-anchor="end" font-size="12" font-family="Liberation Serif" font-weight="bold" fill="#151515">5</text>
<text x="635.6" y="559.1" text-anchor="end" font-size="12" font-family="Liberation Serif" font-weight="bold" fill="#151515">10</text>
<text x="635.6" y="526.2" text-anchor="end" font-size="12" font-family="Liberation Serif" font-weight="bold" fill="#151515">15</text>
<text x="635.6" y="493.3" text-anchor="end" font-size="12" font-family="Liberation Serif" font-weight="bold" fill="#151515">20</text>
<text x="635.6" y="460.4" text-anchor="end" font-size="12" font-family="Liberation Serif" font-weight="bold" fill="#151515">25</text>
<text x="635.6" y="427.5" text-anchor="end" font-size="12" font-family="Liberation Serif" font-weight="bold" fill="#151515">30</text>
<text x="635.6" y="394.6" text-anchor="end" font-size="12" font-family="Liberation Serif" font-weight="bold" fill="#151515">35</text>
<text x="635.6" y="361.7" text-anchor="end" font-size="12" font-family="Liberation Serif" font-weight="bold" fill="#151515">40</text>
<text x="644.6" y="639.6" text-anchor="middle" font-size="12" font-family="Liberation Serif" font-weight="bold" fill="#151515">0</text>
<text x="682.6" y="639.6" text-anchor="middle" font-size="12" font-family="Liberation Serif" font-weight="bold" fill="#151515">30</text>
<text x="720.5" y="639.6" text-anchor="middle" font-size="12" font-family="Liberation Serif" font-weight="bold" fill="#151515">60</text>
<text x="758.5" y="639.6" text-anchor="middle" font-size="12" font-family="Liberation Serif" font-weight="bold" fill="#151515">90</text>
<text x="796.4" y="639.6" text-anchor="middle" font-size="12" font-family="Liberation Serif" font-weight="bold" fill="#151515">120</text>
<text x="834.4" y="639.6" text-anchor="middle" font-size="12" font-family="Liberation Serif" font-weight="bold" fill="#151515">150</text>
<text x="872.4" y="639.6" text-anchor="middle" font-size="12" font-family="Liberation Serif" font-weight="bold" fill="#151515">180</text>
<text x="910.3" y="639.6" text-anchor="middle" font-size="12" font-family="Liberation Serif" font-weight="bold" fill="#151515">210</text>
<text x="948.3" y="639.6" text-anchor="middle" font-size="12" font-family="Liberation Serif" font-weight="bold" fill="#151515">240</text>
<text x="986.2" y="639.6" text-anchor="middle" font-size="12" font-family="Liberation Serif" font-weight="bold" fill="#151515">270</text>
<text x="822.3" y="664.5" text-anchor="middle" font-size="14.5" font-family="Liberation Serif" font-weight="bold" fill="#151515" textLength="139" lengthAdjust="spacingAndGlyphs">Concentration (µM)</text>
<text transform="translate(614.6,499.2) rotate(-90)" text-anchor="middle" font-size="16.3" font-family="Liberation Serif" font-weight="bold" fill="#151515" textLength="93" lengthAdjust="spacingAndGlyphs">Current (µA)</text>
<line x1="676.23" y1="598.44" x2="948.27" y2="403.35" stroke="#e06868" stroke-width="1.6"/>
<rect x="673.63" y="594.55" width="5.2" height="5.2" fill="#1a1a1a"/>
<rect x="679.96" y="591.92" width="5.2" height="5.2" fill="#1a1a1a"/>
<rect x="686.29" y="586.66" width="5.2" height="5.2" fill="#1a1a1a"/>
<rect x="692.61" y="580.74" width="5.2" height="5.2" fill="#1a1a1a"/>
<rect x="698.94" y="579.42" width="5.2" height="5.2" fill="#1a1a1a"/>
<rect x="705.26" y="570.87" width="5.2" height="5.2" fill="#1a1a1a"/>
<rect x="717.92" y="564.94" width="5.2" height="5.2" fill="#1a1a1a"/>
<rect x="730.57" y="555.07" width="5.2" height="5.2" fill="#1a1a1a"/>
<rect x="743.22" y="541.91" width="5.2" height="5.2" fill="#1a1a1a"/>
<rect x="768.53" y="528.10" width="5.2" height="5.2" fill="#1a1a1a"/>
<rect x="793.84" y="512.96" width="5.2" height="5.2" fill="#1a1a1a"/>
<rect x="819.14" y="496.51" width="5.2" height="5.2" fill="#1a1a1a"/>
<rect x="844.45" y="478.09" width="5.2" height="5.2" fill="#1a1a1a"/>
<rect x="869.75" y="457.03" width="5.2" height="5.2" fill="#1a1a1a"/>
<rect x="895.06" y="436.63" width="5.2" height="5.2" fill="#1a1a1a"/>
<rect x="920.37" y="414.92" width="5.2" height="5.2" fill="#1a1a1a"/>
<rect x="945.67" y="398.47" width="5.2" height="5.2" fill="#1a1a1a"/>
<text x="782.6" y="578.5" font-size="14" font-family="Liberation Serif" font-weight="bold" fill="#151515" textLength="72" lengthAdjust="spacingAndGlyphs">R<tspan dy="-8" font-size="9">2</tspan><tspan dy="8"> = 0.9981</tspan></text>
<text x="782.6" y="596.5" font-size="14" font-family="Liberation Serif" font-weight="bold" fill="#151515" textLength="190.5" lengthAdjust="spacingAndGlyphs">i<tspan dy="5" font-size="9.7">p</tspan><tspan dy="-5">(µA) = 0.1379c(µM) + 0.0572</tspan></text>
</g>
</svg>
</body></html>
